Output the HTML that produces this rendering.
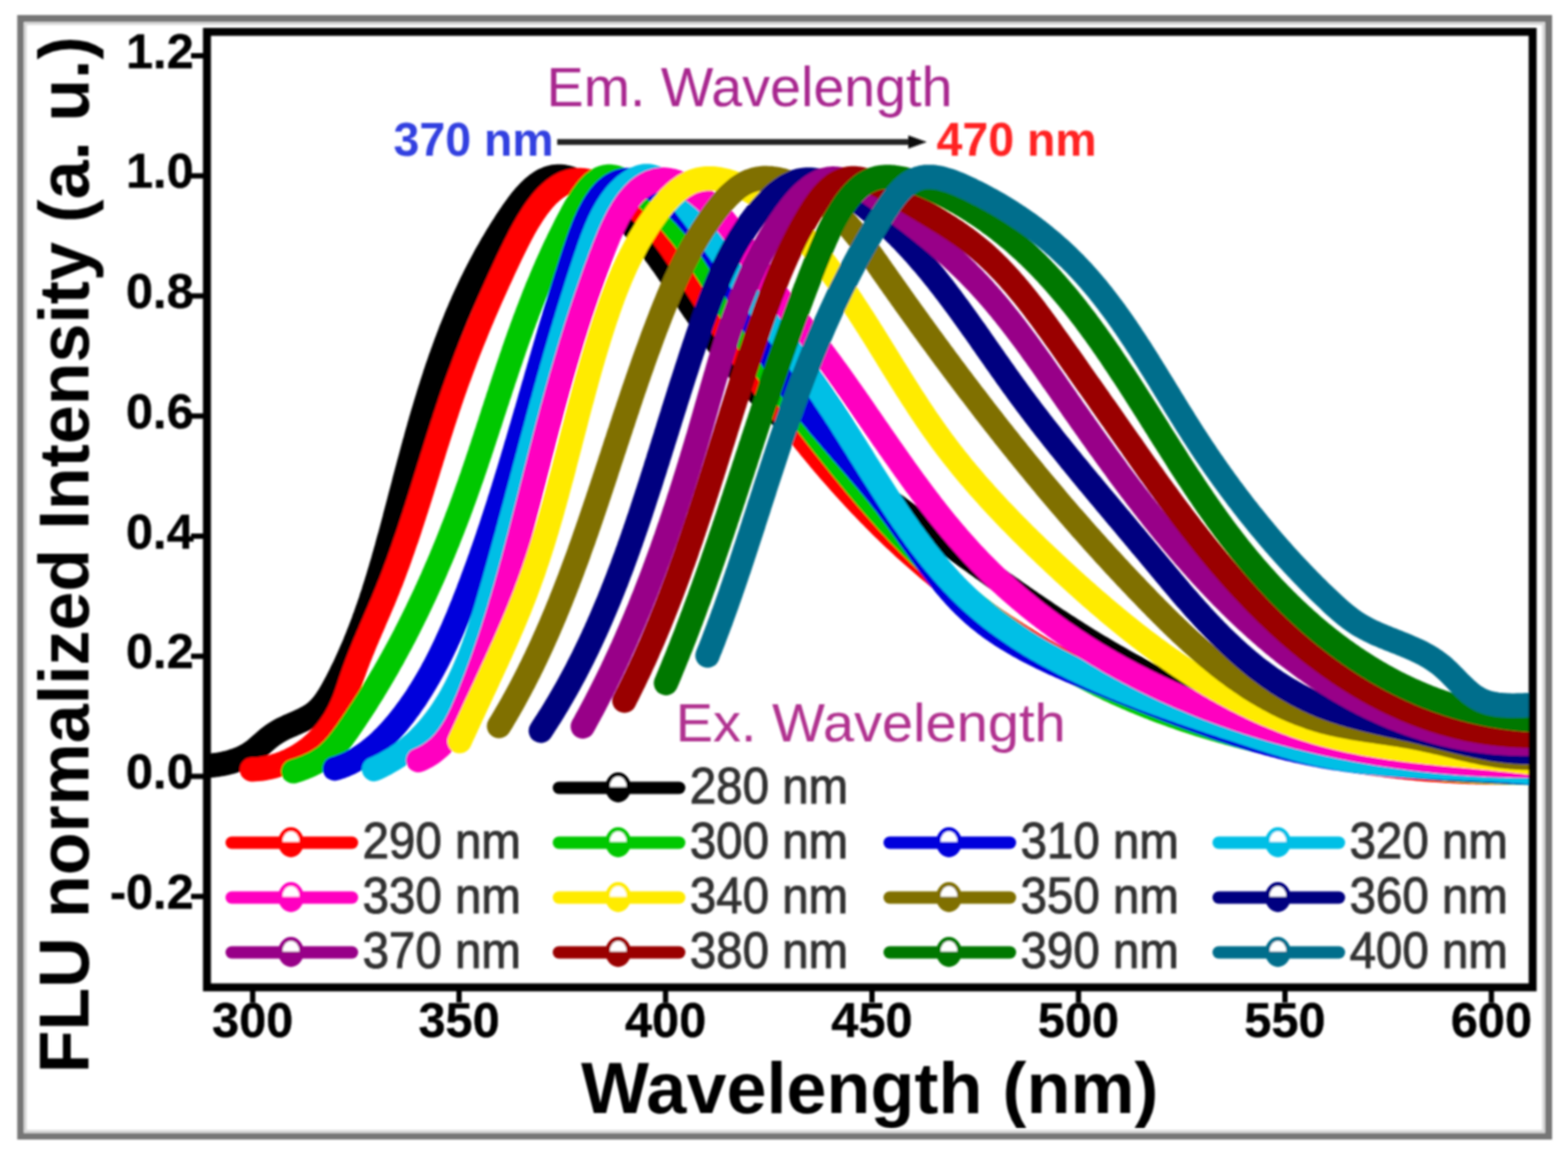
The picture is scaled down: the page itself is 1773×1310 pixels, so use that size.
<!DOCTYPE html><html><head><meta charset="utf-8"><title>FLU spectra</title><style>html,body{margin:0;padding:0;background:#fff;overflow:hidden;}svg{display:block;}text{font-family:"Liberation Sans",Arial,Helvetica,sans-serif;}</style></head><body>
<svg width="1773" height="1310" viewBox="0 0 1773 1310">
<defs><clipPath id="pc"><rect x="234.0" y="36.0" width="1499.0" height="1080.0"/></clipPath><filter id="bl" filterUnits="userSpaceOnUse" x="0" y="0" width="1773" height="1310"><feGaussianBlur stdDeviation="1.2"/></filter></defs>
<rect width="1773" height="1310" fill="#fff"/>
<g filter="url(#bl)">
<rect x="23.5" y="21" width="1727.5" height="1263" fill="none" stroke="#767676" stroke-width="8"/>
<path d="M28.5,1279 V26.5 H1745.5 V1279 Z" fill="none" stroke="#d8d8d8" stroke-width="3.5"/>
<g clip-path="url(#pc)" fill="none" stroke-width="27.5" stroke-linecap="round" stroke-linejoin="round">
<path d="M227.9,865.9 L231.0,865.8 L234.2,865.6 L237.3,865.4 L240.4,865.1 L243.5,864.7 L246.6,864.3 L249.7,863.8 L252.8,863.2 L255.9,862.5 L258.9,861.7 L261.9,860.9 L264.9,859.9 L267.8,858.9 L270.7,857.8 L273.5,856.6 L276.3,855.2 L279.0,853.8 L281.6,852.3 L284.2,850.6 L286.7,848.9 L289.1,847.0 L291.4,845.0 L293.7,843.0 L296.0,841.0 L298.3,838.9 L300.6,836.9 L302.9,834.9 L305.3,833.0 L307.7,831.2 L310.2,829.5 L312.8,827.9 L315.4,826.3 L318.1,824.8 L320.8,823.4 L323.6,822.1 L326.4,820.8 L329.3,819.6 L332.2,818.3 L335.0,817.1 L337.9,815.8 L340.7,814.5 L343.5,813.2 L346.2,811.8 L348.9,810.3 L351.5,808.7 L354.0,807.0 L356.4,805.2 L358.6,803.3 L360.8,801.2 L362.8,799.0 L364.8,796.7 L366.7,794.3 L368.5,791.8 L370.2,789.3 L371.9,786.6 L373.5,784.0 L375.1,781.3 L376.6,778.5 L378.1,775.7 L379.6,772.9 L381.1,770.2 L382.5,767.4 L383.9,764.6 L385.4,761.7 L386.7,758.9 L388.1,756.1 L389.5,753.3 L390.8,750.5 L392.1,747.6 L393.4,744.8 L394.7,741.9 L395.9,739.1 L397.2,736.2 L398.4,733.4 L399.7,730.5 L400.9,727.7 L402.0,724.8 L403.2,721.9 L404.4,719.0 L405.5,716.1 L406.7,713.2 L407.8,710.4 L408.9,707.5 L410.0,704.6 L411.1,701.7 L412.1,698.7 L413.2,695.8 L414.2,692.9 L415.2,690.0 L416.3,687.1 L417.3,684.1 L418.3,681.2 L419.3,678.3 L420.2,675.3 L421.2,672.4 L422.2,669.5 L423.1,666.5 L424.0,663.6 L425.0,660.6 L425.9,657.7 L426.8,654.7 L427.7,651.8 L428.6,648.8 L429.5,645.8 L430.4,642.9 L431.2,639.9 L432.1,636.9 L433.0,634.0 L433.8,631.0 L434.7,628.0 L435.5,625.0 L436.3,622.1 L437.2,619.1 L438.0,616.1 L438.8,613.1 L439.6,610.1 L440.5,607.2 L441.3,604.2 L442.1,601.2 L442.9,598.2 L443.7,595.2 L444.5,592.2 L445.3,589.2 L446.1,586.2 L446.8,583.3 L447.6,580.3 L448.4,577.3 L449.2,574.3 L450.0,571.3 L450.8,568.3 L451.6,565.3 L452.3,562.3 L453.1,559.3 L453.9,556.3 L454.7,553.3 L455.5,550.3 L456.3,547.4 L457.0,544.4 L457.8,541.4 L458.6,538.4 L459.4,535.4 L460.2,532.4 L461.0,529.4 L461.8,526.4 L462.6,523.4 L463.4,520.5 L464.2,517.5 L465.0,514.5 L465.8,511.5 L466.6,508.5 L467.4,505.5 L468.2,502.6 L469.0,499.6 L469.9,496.6 L470.7,493.6 L471.5,490.6 L472.4,487.7 L473.2,484.7 L474.0,481.7 L474.9,478.8 L475.7,475.8 L476.6,472.8 L477.5,469.8 L478.3,466.9 L479.2,463.9 L480.1,461.0 L481.0,458.0 L481.9,455.0 L482.8,452.1 L483.7,449.1 L484.6,446.2 L485.5,443.2 L486.4,440.3 L487.4,437.3 L488.3,434.4 L489.3,431.4 L490.2,428.5 L491.2,425.5 L492.1,422.6 L493.1,419.7 L494.1,416.7 L495.1,413.8 L496.1,410.9 L497.1,408.0 L498.1,405.0 L499.2,402.1 L500.2,399.2 L501.3,396.3 L502.3,393.4 L503.4,390.4 L504.5,387.5 L505.6,384.6 L506.7,381.7 L507.8,378.8 L508.9,375.9 L510.0,373.0 L511.2,370.2 L512.3,367.3 L513.5,364.4 L514.7,361.5 L515.8,358.6 L517.0,355.7 L518.3,352.9 L519.5,350.0 L520.7,347.1 L522.0,344.3 L523.2,341.4 L524.5,338.6 L525.8,335.7 L527.1,332.9 L528.4,330.0 L529.7,327.2 L531.1,324.3 L532.4,321.5 L533.8,318.7 L535.2,315.9 L536.6,313.0 L538.0,310.2 L539.4,307.4 L540.9,304.6 L542.3,301.8 L543.8,299.0 L545.3,296.2 L546.8,293.4 L548.3,290.6 L549.8,287.8 L551.4,285.1 L553.0,282.3 L554.5,279.5 L556.1,276.7 L557.8,274.0 L559.4,271.2 L561.0,268.5 L562.7,265.7 L564.4,263.0 L566.1,260.2 L567.8,257.5 L569.6,254.8 L571.3,252.1 L573.1,249.3 L574.9,246.6 L576.7,243.9 L578.6,241.2 L580.4,238.5 L582.3,235.9 L584.2,233.3 L586.1,230.7 L588.0,228.2 L590.0,225.7 L592.0,223.3 L594.0,220.9 L596.1,218.7 L598.2,216.5 L600.3,214.4 L602.4,212.4 L604.6,210.6 L606.8,208.8 L609.1,207.2 L611.3,205.7 L613.6,204.3 L616.0,203.1 L618.4,202.1 L620.8,201.2 L623.3,200.5 L625.8,199.9 L628.3,199.6 L630.9,199.4 L633.5,199.4 L636.2,199.7 L638.9,200.1 L641.7,200.7 L644.5,201.5 L647.3,202.5 L650.1,203.6 L652.9,204.9 L655.8,206.3 L658.7,207.8 L661.5,209.4 L664.4,211.2 L667.3,213.0 L670.1,215.0 L672.9,217.0 L675.7,219.1 L678.5,221.2 L681.3,223.4 L684.0,225.6 L686.7,227.9 L689.3,230.2 L691.9,232.5 L694.5,234.7 L697.0,237.1 L699.4,239.4 L701.9,241.7 L704.2,244.0 L706.6,246.3 L708.8,248.7 L711.1,251.0 L713.3,253.4 L715.5,255.7 L717.6,258.1 L719.7,260.5 L721.8,262.8 L723.8,265.2 L725.9,267.6 L727.8,270.0 L729.8,272.4 L731.7,274.8 L733.6,277.2 L735.5,279.6 L737.4,282.0 L739.2,284.5 L741.0,286.9 L742.8,289.3 L744.6,291.8 L746.4,294.2 L748.1,296.7 L749.9,299.1 L751.6,301.6 L753.3,304.0 L755.0,306.5 L756.7,309.0 L758.4,311.5 L760.1,313.9 L761.8,316.4 L763.4,318.9 L765.1,321.4 L766.8,323.9 L768.5,326.4 L770.1,328.9 L771.8,331.4 L773.5,333.9 L775.2,336.4 L776.9,339.0 L778.6,341.5 L780.3,344.0 L782.0,346.5 L783.7,349.1 L785.5,351.6 L787.2,354.1 L789.0,356.7 L790.7,359.2 L792.5,361.7 L794.3,364.3 L796.1,366.8 L797.9,369.3 L799.7,371.9 L801.5,374.4 L803.3,376.9 L805.2,379.4 L807.0,382.0 L808.9,384.5 L810.8,387.0 L812.6,389.5 L814.5,392.0 L816.4,394.5 L818.3,397.0 L820.2,399.5 L822.2,402.0 L824.1,404.5 L826.0,407.0 L828.0,409.4 L830.0,411.9 L831.9,414.3 L833.9,416.8 L835.9,419.2 L837.9,421.6 L839.9,424.0 L842.0,426.4 L844.0,428.8 L846.1,431.2 L848.1,433.6 L850.2,435.9 L852.3,438.3 L854.4,440.6 L856.5,442.9 L858.6,445.2 L860.7,447.5 L862.8,449.8 L865.0,452.1 L867.1,454.3 L869.3,456.6 L871.5,458.8 L873.6,461.0 L875.8,463.2 L878.1,465.4 L880.3,467.5 L882.5,469.7 L884.7,471.8 L887.0,473.9 L889.2,476.0 L891.5,478.1 L893.8,480.2 L896.1,482.2 L898.4,484.3 L900.7,486.3 L903.0,488.3 L905.3,490.3 L907.6,492.3 L910.0,494.3 L912.3,496.3 L914.7,498.3 L917.0,500.2 L919.4,502.2 L921.8,504.1 L924.2,506.0 L926.6,508.0 L928.9,509.9 L931.3,511.8 L933.8,513.7 L936.2,515.6 L938.6,517.4 L941.0,519.3 L943.4,521.2 L945.9,523.0 L948.3,524.9 L950.8,526.7 L953.2,528.6 L955.7,530.4 L958.1,532.2 L960.6,534.0 L963.1,535.9 L965.5,537.7 L968.0,539.5 L970.5,541.3 L973.0,543.1 L975.5,544.9 L977.9,546.7 L980.4,548.5 L982.9,550.3 L985.4,552.1 L987.9,553.9 L990.4,555.7 L992.9,557.4 L995.4,559.2 L997.9,561.0 L1000.4,562.8 L1002.9,564.6 L1005.4,566.4 L1008.0,568.2 L1010.5,569.9 L1013.0,571.7 L1015.5,573.5 L1018.0,575.3 L1020.5,577.1 L1023.0,578.9 L1025.5,580.7 L1028.0,582.5 L1030.5,584.3 L1033.0,586.1 L1035.6,587.9 L1038.1,589.7 L1040.6,591.5 L1043.1,593.4 L1045.6,595.2 L1048.1,597.0 L1050.6,598.8 L1053.1,600.6 L1055.6,602.4 L1058.1,604.3 L1060.6,606.1 L1063.1,607.9 L1065.6,609.7 L1068.2,611.5 L1070.7,613.4 L1073.2,615.2 L1075.7,617.0 L1078.2,618.8 L1080.7,620.7 L1083.2,622.5 L1085.7,624.3 L1088.3,626.1 L1090.8,628.0 L1093.3,629.8 L1095.8,631.6 L1098.3,633.4 L1100.8,635.2 L1103.4,637.1 L1105.9,638.9 L1108.4,640.7 L1110.9,642.5 L1113.5,644.3 L1116.0,646.1 L1118.5,647.9 L1121.0,649.8 L1123.6,651.6 L1126.1,653.4 L1128.6,655.2 L1131.2,657.0 L1133.7,658.8 L1136.2,660.6 L1138.8,662.3 L1141.3,664.1 L1143.9,665.9 L1146.4,667.7 L1149.0,669.5 L1151.5,671.3 L1154.1,673.0 L1156.6,674.8 L1159.2,676.6 L1161.7,678.3 L1164.3,680.1 L1166.8,681.9 L1169.4,683.6 L1172.0,685.4 L1174.5,687.1 L1177.1,688.8 L1179.7,690.6 L1182.3,692.3 L1184.8,694.0 L1187.4,695.8 L1190.0,697.5 L1192.6,699.2 L1195.2,700.9 L1197.8,702.6 L1200.4,704.3 L1203.0,706.0 L1205.6,707.7 L1208.2,709.3 L1210.8,711.0 L1213.4,712.7 L1216.0,714.3 L1218.6,716.0 L1221.2,717.7 L1223.9,719.3 L1226.5,720.9 L1229.1,722.6 L1231.7,724.2 L1234.4,725.8 L1237.0,727.4 L1239.7,729.0 L1242.3,730.6 L1245.0,732.2 L1247.6,733.8 L1250.3,735.4 L1252.9,736.9 L1255.6,738.5 L1258.3,740.0 L1260.9,741.6 L1263.6,743.1 L1266.3,744.6 L1269.0,746.2 L1271.7,747.7 L1274.4,749.2 L1277.1,750.7 L1279.8,752.2 L1282.5,753.6 L1285.2,755.1 L1287.9,756.6 L1290.6,758.0 L1293.3,759.5 L1296.0,760.9 L1298.8,762.3 L1301.5,763.7 L1304.3,765.1 L1307.0,766.5 L1309.8,767.9 L1312.5,769.3 L1315.3,770.6 L1318.0,772.0 L1320.8,773.3 L1323.6,774.7 L1326.3,776.0 L1329.1,777.3 L1331.9,778.6 L1334.7,779.9 L1337.5,781.2 L1340.3,782.4 L1343.1,783.7 L1345.9,784.9 L1348.8,786.2 L1351.6,787.4 L1354.4,788.6 L1357.3,789.8 L1360.1,791.0 L1362.9,792.2 L1365.8,793.3 L1368.7,794.5 L1371.5,795.6 L1374.4,796.7 L1377.3,797.8 L1380.1,798.9 L1383.0,800.0 L1385.9,801.1 L1388.8,802.2 L1391.7,803.2 L1394.6,804.3 L1397.6,805.3 L1400.5,806.3 L1403.4,807.3 L1406.4,808.3 L1409.3,809.2 L1412.2,810.2 L1415.2,811.1 L1418.2,812.1 L1421.1,813.0 L1424.1,813.9 L1427.1,814.8 L1430.0,815.7 L1433.0,816.5 L1436.0,817.4 L1439.0,818.2 L1442.0,819.1 L1445.0,819.9 L1448.0,820.7 L1451.0,821.5 L1454.1,822.3 L1457.1,823.0 L1460.1,823.8 L1463.1,824.6 L1466.2,825.3 L1469.2,826.0 L1472.3,826.8 L1475.3,827.5 L1478.4,828.2 L1481.4,828.9 L1484.5,829.5 L1487.5,830.2 L1490.6,830.9 L1493.7,831.5 L1496.7,832.2 L1499.8,832.8 L1502.9,833.4 L1505.9,834.0 L1509.0,834.7 L1512.1,835.3 L1515.2,835.8 L1518.3,836.4 L1521.4,837.0 L1524.4,837.6 L1527.5,838.1 L1530.6,838.7 L1533.7,839.2 L1536.8,839.7 L1539.9,840.2 L1543.0,840.8 L1546.1,841.3 L1549.2,841.8 L1552.3,842.3 L1555.4,842.8 L1558.5,843.2 L1561.6,843.7 L1564.7,844.2 L1567.8,844.6 L1571.0,845.1 L1574.1,845.5 L1577.2,846.0 L1580.3,846.4 L1583.4,846.8 L1586.5,847.3 L1589.6,847.7 L1592.7,848.1 L1595.8,848.5 L1598.9,848.9 L1602.0,849.3 L1605.1,849.7 L1608.2,850.1 L1611.3,850.5 L1614.4,850.8 L1617.5,851.2 L1620.6,851.6 L1623.7,851.9 L1626.8,852.3 L1629.9,852.7 L1633.0,853.0 L1636.1,853.3 L1639.2,853.7 L1642.3,854.0 L1645.4,854.4 L1648.4,854.7 L1651.5,855.0 L1654.6,855.4 L1657.7,855.7 L1660.7,856.0 L1663.8,856.3 L1666.9,856.6 L1669.9,857.0 L1673.0,857.3 L1676.1,857.6 L1679.1,857.9 L1682.2,858.2 L1685.2,858.5 L1688.3,858.8 L1691.3,859.1 L1694.3,859.4 L1697.4,859.7 L1700.4,860.0 L1703.4,860.3 L1706.5,860.6 L1709.5,860.9 L1712.5,861.2 L1715.5,861.5 L1718.5,861.8 L1721.5,862.1 L1724.5,862.4 L1727.5,862.7 L1730.5,862.9 L1733.4,863.2 L1736.4,863.5 L1739.4,863.8" stroke="#000000"/>
<path d="M284.8,869.8 L288.0,869.6 L291.2,869.4 L294.3,869.1 L297.5,868.6 L300.6,868.1 L303.6,867.5 L306.7,866.8 L309.7,866.1 L312.6,865.2 L315.6,864.3 L318.5,863.3 L321.3,862.2 L324.1,861.0 L326.9,859.8 L329.7,858.4 L332.4,857.0 L335.0,855.6 L337.7,854.0 L340.2,852.4 L342.8,850.8 L345.2,849.0 L347.7,847.2 L350.1,845.4 L352.4,843.4 L354.7,841.4 L357.0,839.4 L359.2,837.3 L361.3,835.1 L363.4,832.9 L365.4,830.7 L367.4,828.3 L369.4,826.0 L371.2,823.5 L373.1,821.1 L374.8,818.6 L376.5,816.0 L378.2,813.4 L379.7,810.8 L381.3,808.1 L382.7,805.4 L384.1,802.6 L385.4,799.8 L386.7,797.0 L387.9,794.1 L389.1,791.2 L390.2,788.3 L391.2,785.4 L392.3,782.4 L393.3,779.5 L394.3,776.5 L395.3,773.6 L396.2,770.6 L397.2,767.7 L398.2,764.8 L399.2,761.9 L400.3,759.0 L401.3,756.1 L402.4,753.2 L403.4,750.4 L404.5,747.6 L405.6,744.7 L406.7,741.9 L407.8,739.1 L408.9,736.3 L410.1,733.5 L411.2,730.8 L412.3,728.0 L413.5,725.2 L414.7,722.5 L415.8,719.7 L417.0,717.0 L418.2,714.3 L419.3,711.5 L420.5,708.8 L421.7,706.0 L422.9,703.3 L424.0,700.6 L425.2,697.8 L426.4,695.1 L427.6,692.3 L428.8,689.6 L429.9,686.8 L431.1,684.1 L432.3,681.3 L433.5,678.6 L434.6,675.8 L435.8,673.0 L436.9,670.2 L438.1,667.4 L439.2,664.6 L440.3,661.7 L441.5,658.9 L442.6,656.1 L443.7,653.2 L444.8,650.3 L445.9,647.4 L446.9,644.6 L448.0,641.7 L449.1,638.7 L450.2,635.8 L451.2,632.9 L452.3,630.0 L453.3,627.0 L454.3,624.1 L455.4,621.2 L456.4,618.2 L457.4,615.2 L458.4,612.3 L459.5,609.3 L460.5,606.3 L461.5,603.3 L462.5,600.3 L463.5,597.3 L464.4,594.4 L465.4,591.4 L466.4,588.4 L467.4,585.3 L468.4,582.3 L469.3,579.3 L470.3,576.3 L471.3,573.3 L472.2,570.3 L473.2,567.3 L474.1,564.3 L475.1,561.3 L476.0,558.3 L477.0,555.2 L477.9,552.2 L478.8,549.2 L479.8,546.2 L480.7,543.2 L481.6,540.2 L482.6,537.2 L483.5,534.2 L484.4,531.2 L485.3,528.2 L486.3,525.2 L487.2,522.3 L488.1,519.3 L489.0,516.3 L490.0,513.4 L490.9,510.4 L491.8,507.4 L492.7,504.5 L493.6,501.6 L494.6,498.6 L495.5,495.7 L496.4,492.8 L497.3,489.9 L498.3,487.0 L499.2,484.1 L500.1,481.2 L501.0,478.3 L502.0,475.5 L502.9,472.6 L503.8,469.8 L504.8,466.9 L505.7,464.1 L506.6,461.3 L507.6,458.5 L508.5,455.7 L509.4,452.9 L510.4,450.2 L511.3,447.4 L512.3,444.6 L513.2,441.9 L514.2,439.2 L515.2,436.4 L516.1,433.7 L517.1,431.0 L518.1,428.3 L519.1,425.6 L520.1,422.9 L521.1,420.2 L522.1,417.5 L523.1,414.8 L524.1,412.1 L525.1,409.4 L526.1,406.7 L527.1,404.0 L528.2,401.3 L529.2,398.6 L530.3,395.9 L531.3,393.2 L532.4,390.5 L533.5,387.8 L534.6,385.1 L535.7,382.4 L536.8,379.7 L537.9,377.0 L539.0,374.2 L540.1,371.5 L541.3,368.7 L542.4,366.0 L543.6,363.2 L544.8,360.5 L545.9,357.7 L547.1,354.9 L548.3,352.1 L549.5,349.3 L550.8,346.4 L552.0,343.6 L553.3,340.7 L554.5,337.9 L555.8,335.0 L557.1,332.1 L558.4,329.2 L559.7,326.3 L561.0,323.3 L562.4,320.4 L563.7,317.4 L565.1,314.4 L566.5,311.4 L567.9,308.3 L569.3,305.3 L570.7,302.2 L572.2,299.1 L573.6,296.0 L575.1,292.8 L576.6,289.7 L578.1,286.5 L579.7,283.3 L581.2,280.2 L582.8,277.0 L584.4,273.8 L586.0,270.7 L587.6,267.5 L589.2,264.4 L590.9,261.3 L592.6,258.2 L594.3,255.2 L596.0,252.2 L597.8,249.3 L599.6,246.4 L601.4,243.5 L603.2,240.7 L605.1,238.0 L606.9,235.4 L608.8,232.8 L610.8,230.3 L612.7,227.9 L614.7,225.5 L616.8,223.3 L618.8,221.1 L620.9,219.1 L623.0,217.2 L625.2,215.3 L627.3,213.6 L629.5,212.0 L631.8,210.5 L634.1,209.2 L636.4,208.0 L638.7,206.9 L641.1,206.0 L643.5,205.2 L646.0,204.6 L648.4,204.1 L651.0,203.8 L653.5,203.6 L656.1,203.6 L658.7,203.7 L661.3,204.0 L664.0,204.4 L666.6,204.9 L669.3,205.5 L672.0,206.2 L674.7,207.1 L677.4,208.0 L680.1,209.1 L682.7,210.2 L685.4,211.5 L688.1,212.8 L690.8,214.2 L693.4,215.7 L696.0,217.2 L698.6,218.9 L701.2,220.5 L703.7,222.3 L706.3,224.1 L708.7,225.9 L711.2,227.8 L713.6,229.7 L716.0,231.7 L718.3,233.7 L720.6,235.7 L722.8,237.7 L725.0,239.8 L727.2,241.9 L729.3,244.1 L731.5,246.3 L733.5,248.5 L735.6,250.7 L737.6,253.0 L739.6,255.3 L741.6,257.6 L743.5,259.9 L745.4,262.3 L747.3,264.6 L749.2,267.0 L751.0,269.5 L752.9,271.9 L754.7,274.4 L756.5,276.8 L758.2,279.3 L760.0,281.8 L761.7,284.4 L763.5,286.9 L765.2,289.4 L766.9,292.0 L768.6,294.6 L770.3,297.1 L771.9,299.7 L773.6,302.3 L775.3,304.9 L776.9,307.5 L778.6,310.1 L780.2,312.7 L781.9,315.3 L783.5,318.0 L785.2,320.6 L786.8,323.2 L788.5,325.8 L790.1,328.4 L791.8,331.0 L793.4,333.6 L795.1,336.3 L796.8,338.9 L798.4,341.5 L800.1,344.1 L801.8,346.7 L803.4,349.3 L805.1,351.9 L806.8,354.5 L808.5,357.1 L810.2,359.7 L811.9,362.3 L813.6,364.8 L815.3,367.4 L817.0,370.0 L818.7,372.6 L820.4,375.2 L822.1,377.7 L823.9,380.3 L825.6,382.9 L827.3,385.5 L829.0,388.0 L830.8,390.6 L832.5,393.2 L834.2,395.7 L836.0,398.3 L837.7,400.8 L839.5,403.4 L841.3,405.9 L843.0,408.5 L844.8,411.0 L846.5,413.5 L848.3,416.1 L850.1,418.6 L851.9,421.1 L853.7,423.6 L855.5,426.2 L857.2,428.7 L859.0,431.2 L860.8,433.7 L862.7,436.2 L864.5,438.7 L866.3,441.2 L868.1,443.7 L869.9,446.2 L871.7,448.7 L873.6,451.2 L875.4,453.6 L877.3,456.1 L879.1,458.6 L881.0,461.1 L882.8,463.5 L884.7,466.0 L886.5,468.4 L888.4,470.9 L890.3,473.3 L892.2,475.8 L894.0,478.2 L895.9,480.6 L897.8,483.1 L899.7,485.5 L901.6,487.9 L903.5,490.3 L905.5,492.7 L907.4,495.1 L909.3,497.5 L911.2,499.9 L913.2,502.3 L915.1,504.7 L917.0,507.1 L919.0,509.4 L920.9,511.8 L922.9,514.2 L924.9,516.5 L926.8,518.9 L928.8,521.2 L930.8,523.6 L932.8,525.9 L934.8,528.2 L936.8,530.6 L938.8,532.9 L940.8,535.2 L942.8,537.5 L944.8,539.8 L946.8,542.1 L948.9,544.4 L950.9,546.7 L953.0,549.0 L955.0,551.2 L957.1,553.5 L959.1,555.8 L961.2,558.0 L963.3,560.3 L965.3,562.5 L967.4,564.8 L969.5,567.0 L971.6,569.2 L973.7,571.4 L975.8,573.6 L977.9,575.8 L980.1,578.0 L982.2,580.2 L984.3,582.4 L986.5,584.6 L988.6,586.8 L990.8,588.9 L992.9,591.1 L995.1,593.2 L997.2,595.4 L999.4,597.5 L1001.6,599.6 L1003.8,601.8 L1006.0,603.9 L1008.2,606.0 L1010.4,608.1 L1012.6,610.2 L1014.8,612.2 L1017.1,614.3 L1019.3,616.4 L1021.6,618.5 L1023.8,620.5 L1026.1,622.6 L1028.3,624.6 L1030.6,626.6 L1032.9,628.6 L1035.2,630.7 L1037.5,632.7 L1039.8,634.7 L1042.1,636.7 L1044.4,638.6 L1046.7,640.6 L1049.0,642.6 L1051.4,644.5 L1053.7,646.5 L1056.0,648.4 L1058.4,650.4 L1060.7,652.3 L1063.1,654.2 L1065.5,656.1 L1067.9,658.0 L1070.3,659.9 L1072.6,661.8 L1075.0,663.7 L1077.4,665.6 L1079.9,667.4 L1082.3,669.3 L1084.7,671.2 L1087.1,673.0 L1089.6,674.8 L1092.0,676.6 L1094.5,678.5 L1096.9,680.3 L1099.4,682.1 L1101.8,683.9 L1104.3,685.6 L1106.8,687.4 L1109.3,689.2 L1111.8,691.0 L1114.3,692.7 L1116.8,694.4 L1119.3,696.2 L1121.8,697.9 L1124.3,699.6 L1126.8,701.3 L1129.4,703.0 L1131.9,704.7 L1134.5,706.4 L1137.0,708.1 L1139.6,709.8 L1142.1,711.4 L1144.7,713.1 L1147.3,714.7 L1149.8,716.4 L1152.4,718.0 L1155.0,719.6 L1157.6,721.2 L1160.2,722.8 L1162.8,724.4 L1165.4,726.0 L1168.0,727.6 L1170.6,729.2 L1173.3,730.8 L1175.9,732.3 L1178.5,733.9 L1181.2,735.4 L1183.8,736.9 L1186.5,738.5 L1189.1,740.0 L1191.8,741.5 L1194.5,743.0 L1197.1,744.5 L1199.8,745.9 L1202.5,747.4 L1205.2,748.9 L1207.9,750.3 L1210.6,751.8 L1213.3,753.2 L1216.0,754.7 L1218.7,756.1 L1221.4,757.5 L1224.1,758.9 L1226.8,760.3 L1229.6,761.7 L1232.3,763.1 L1235.0,764.5 L1237.8,765.8 L1240.5,767.2 L1243.3,768.5 L1246.0,769.9 L1248.8,771.2 L1251.5,772.5 L1254.3,773.8 L1257.1,775.1 L1259.9,776.4 L1262.6,777.7 L1265.4,779.0 L1268.2,780.3 L1271.0,781.6 L1273.8,782.8 L1276.6,784.1 L1279.4,785.3 L1282.2,786.5 L1285.0,787.8 L1287.8,789.0 L1290.7,790.2 L1293.5,791.4 L1296.3,792.6 L1299.1,793.7 L1302.0,794.9 L1304.8,796.1 L1307.7,797.2 L1310.5,798.4 L1313.4,799.5 L1316.2,800.7 L1319.1,801.8 L1321.9,802.9 L1324.8,804.0 L1327.7,805.1 L1330.5,806.2 L1333.4,807.3 L1336.3,808.3 L1339.2,809.4 L1342.1,810.4 L1344.9,811.5 L1347.8,812.5 L1350.7,813.5 L1353.6,814.6 L1356.5,815.6 L1359.4,816.6 L1362.3,817.6 L1365.3,818.6 L1368.2,819.5 L1371.1,820.5 L1374.0,821.5 L1376.9,822.4 L1379.9,823.3 L1382.8,824.3 L1385.7,825.2 L1388.6,826.1 L1391.6,827.0 L1394.5,827.9 L1397.5,828.8 L1400.4,829.7 L1403.4,830.6 L1406.3,831.4 L1409.3,832.3 L1412.2,833.1 L1415.2,834.0 L1418.1,834.8 L1421.1,835.6 L1424.1,836.4 L1427.0,837.2 L1430.0,838.0 L1433.0,838.8 L1436.0,839.6 L1438.9,840.4 L1441.9,841.1 L1444.9,841.9 L1447.9,842.6 L1450.9,843.3 L1453.9,844.1 L1456.8,844.8 L1459.8,845.5 L1462.8,846.2 L1465.8,846.9 L1468.8,847.5 L1471.8,848.2 L1474.8,848.9 L1477.8,849.5 L1480.8,850.2 L1483.9,850.8 L1486.9,851.4 L1489.9,852.1 L1492.9,852.7 L1495.9,853.3 L1498.9,853.9 L1501.9,854.4 L1505.0,855.0 L1508.0,855.6 L1511.0,856.1 L1514.0,856.7 L1517.1,857.2 L1520.1,857.8 L1523.1,858.3 L1526.2,858.8 L1529.2,859.3 L1532.2,859.8 L1535.3,860.3 L1538.3,860.7 L1541.3,861.2 L1544.4,861.7 L1547.4,862.1 L1550.5,862.6 L1553.5,863.0 L1556.5,863.4 L1559.6,863.8 L1562.6,864.2 L1565.7,864.6 L1568.7,865.0 L1571.8,865.4 L1574.8,865.8 L1577.9,866.1 L1580.9,866.5 L1584.0,866.8 L1587.0,867.1 L1590.1,867.5 L1593.1,867.8 L1596.2,868.1 L1599.2,868.4 L1602.3,868.7 L1605.4,869.0 L1608.4,869.2 L1611.5,869.5 L1614.5,869.7 L1617.6,870.0 L1620.6,870.2 L1623.7,870.4 L1626.8,870.6 L1629.8,870.8 L1632.9,871.0 L1635.9,871.2 L1639.0,871.4 L1642.1,871.6 L1645.1,871.7 L1648.2,871.9 L1651.3,872.0 L1654.3,872.2 L1657.4,872.3 L1660.4,872.4 L1663.5,872.5 L1666.6,872.6 L1669.6,872.7 L1672.7,872.8 L1675.8,872.8 L1678.8,872.9 L1681.9,872.9 L1684.9,873.0 L1688.0,873.0 L1691.1,873.0 L1694.1,873.1 L1697.2,873.1 L1700.2,873.1 L1703.3,873.0 L1706.4,873.0 L1709.4,873.0 L1712.5,872.9 L1715.5,872.9 L1718.6,872.8 L1721.6,872.8 L1724.7,872.7 L1727.8,872.6 L1730.8,872.5 L1733.9,872.4 L1736.9,872.3 L1740.0,872.1" stroke="#ff0000"/>
<path d="M331.8,871.8 L334.7,870.9 L337.6,869.9 L340.5,868.9 L343.4,867.8 L346.2,866.7 L349.1,865.5 L351.9,864.2 L354.7,862.9 L357.4,861.5 L360.1,859.9 L362.6,858.4 L365.1,856.7 L367.5,854.9 L369.8,853.0 L372.0,851.1 L374.2,849.0 L376.3,846.9 L378.3,844.8 L380.3,842.6 L382.2,840.3 L384.0,838.0 L385.9,835.6 L387.7,833.3 L389.4,830.8 L391.2,828.4 L392.9,826.0 L394.6,823.5 L396.3,821.0 L398.0,818.6 L399.7,816.1 L401.4,813.6 L403.0,811.1 L404.7,808.6 L406.3,806.1 L408.0,803.6 L409.6,801.1 L411.3,798.5 L412.9,796.0 L414.5,793.5 L416.1,790.9 L417.7,788.4 L419.3,785.8 L420.9,783.3 L422.5,780.7 L424.0,778.1 L425.6,775.6 L427.1,773.0 L428.7,770.4 L430.2,767.8 L431.7,765.2 L433.3,762.6 L434.8,760.0 L436.3,757.4 L437.8,754.8 L439.3,752.2 L440.7,749.5 L442.2,746.9 L443.7,744.3 L445.1,741.6 L446.6,739.0 L448.0,736.3 L449.5,733.7 L450.9,731.0 L452.3,728.4 L453.8,725.7 L455.2,723.0 L456.6,720.3 L458.0,717.7 L459.3,715.0 L460.7,712.3 L462.1,709.6 L463.5,706.9 L464.8,704.2 L466.2,701.5 L467.5,698.8 L468.8,696.1 L470.2,693.4 L471.5,690.7 L472.8,687.9 L474.1,685.2 L475.4,682.5 L476.7,679.8 L478.0,677.0 L479.3,674.3 L480.6,671.6 L481.8,668.8 L483.1,666.1 L484.3,663.3 L485.6,660.6 L486.8,657.8 L488.1,655.1 L489.3,652.3 L490.5,649.5 L491.7,646.8 L492.9,644.0 L494.1,641.2 L495.3,638.5 L496.5,635.7 L497.7,632.9 L498.9,630.1 L500.0,627.3 L501.2,624.6 L502.3,621.8 L503.5,619.0 L504.6,616.2 L505.8,613.4 L506.9,610.6 L508.0,607.8 L509.1,605.0 L510.2,602.2 L511.3,599.4 L512.4,596.6 L513.5,593.8 L514.6,591.0 L515.7,588.2 L516.7,585.4 L517.8,582.6 L518.9,579.8 L519.9,577.0 L521.0,574.1 L522.0,571.3 L523.0,568.5 L524.1,565.7 L525.1,562.9 L526.1,560.1 L527.1,557.2 L528.1,554.4 L529.1,551.6 L530.1,548.8 L531.1,546.0 L532.1,543.1 L533.1,540.3 L534.1,537.5 L535.0,534.7 L536.0,531.9 L537.0,529.0 L537.9,526.2 L538.9,523.4 L539.8,520.5 L540.8,517.7 L541.7,514.9 L542.7,512.1 L543.6,509.2 L544.6,506.4 L545.5,503.6 L546.4,500.7 L547.4,497.9 L548.3,495.1 L549.2,492.2 L550.2,489.4 L551.1,486.6 L552.0,483.7 L552.9,480.9 L553.9,478.1 L554.8,475.2 L555.7,472.4 L556.6,469.6 L557.5,466.7 L558.5,463.9 L559.4,461.1 L560.3,458.2 L561.2,455.4 L562.2,452.6 L563.1,449.7 L564.0,446.9 L565.0,444.1 L565.9,441.2 L566.8,438.4 L567.8,435.5 L568.7,432.7 L569.6,429.9 L570.6,427.0 L571.5,424.2 L572.5,421.4 L573.4,418.5 L574.4,415.7 L575.3,412.9 L576.3,410.0 L577.3,407.2 L578.2,404.3 L579.2,401.5 L580.2,398.7 L581.1,395.8 L582.1,393.0 L583.1,390.2 L584.1,387.3 L585.1,384.5 L586.1,381.7 L587.1,378.8 L588.2,376.0 L589.2,373.2 L590.2,370.3 L591.2,367.5 L592.3,364.7 L593.3,361.8 L594.4,359.0 L595.5,356.2 L596.5,353.3 L597.6,350.5 L598.7,347.7 L599.8,344.8 L600.9,342.0 L602.0,339.2 L603.1,336.4 L604.2,333.5 L605.4,330.7 L606.5,327.9 L607.6,325.0 L608.8,322.2 L610.0,319.4 L611.2,316.6 L612.3,313.8 L613.5,310.9 L614.7,308.1 L616.0,305.3 L617.2,302.5 L618.4,299.6 L619.7,296.8 L620.9,294.0 L622.2,291.2 L623.5,288.4 L624.8,285.6 L626.1,282.7 L627.4,279.9 L628.7,277.1 L630.1,274.3 L631.4,271.5 L632.8,268.7 L634.2,265.9 L635.6,263.1 L637.0,260.3 L638.4,257.5 L639.8,254.6 L641.3,251.8 L642.7,249.0 L644.2,246.2 L645.7,243.4 L647.2,240.6 L648.7,237.9 L650.2,235.1 L651.8,232.4 L653.4,229.7 L655.0,227.1 L656.6,224.5 L658.2,222.0 L659.9,219.6 L661.6,217.3 L663.4,215.0 L665.1,212.9 L666.9,210.9 L668.8,209.0 L670.6,207.3 L672.6,205.7 L674.5,204.3 L676.5,203.1 L678.5,202.0 L680.6,201.1 L682.8,200.4 L684.9,199.9 L687.2,199.6 L689.5,199.5 L691.8,199.7 L694.2,200.1 L696.6,200.7 L699.1,201.5 L701.6,202.5 L704.1,203.7 L706.7,205.0 L709.2,206.5 L711.8,208.2 L714.4,209.9 L717.0,211.8 L719.6,213.8 L722.2,215.9 L724.8,218.0 L727.4,220.2 L730.0,222.5 L732.5,224.9 L735.0,227.2 L737.5,229.6 L740.0,232.0 L742.4,234.4 L744.7,236.8 L747.1,239.3 L749.4,241.7 L751.6,244.1 L753.8,246.5 L756.0,249.0 L758.2,251.4 L760.3,253.9 L762.4,256.3 L764.4,258.8 L766.5,261.3 L768.5,263.7 L770.4,266.2 L772.4,268.7 L774.3,271.2 L776.2,273.7 L778.0,276.2 L779.9,278.7 L781.7,281.2 L783.5,283.7 L785.3,286.2 L787.0,288.7 L788.7,291.2 L790.4,293.7 L792.1,296.2 L793.8,298.7 L795.4,301.3 L797.1,303.8 L798.7,306.3 L800.3,308.8 L801.9,311.4 L803.5,313.9 L805.0,316.4 L806.6,319.0 L808.1,321.5 L809.6,324.0 L811.2,326.6 L812.7,329.1 L814.2,331.6 L815.7,334.2 L817.1,336.7 L818.6,339.2 L820.1,341.8 L821.6,344.3 L823.0,346.9 L824.5,349.4 L826.0,351.9 L827.4,354.5 L828.9,357.0 L830.3,359.5 L831.8,362.1 L833.3,364.6 L834.7,367.1 L836.2,369.6 L837.7,372.2 L839.1,374.7 L840.6,377.2 L842.1,379.7 L843.6,382.3 L845.1,384.8 L846.6,387.3 L848.2,389.8 L849.7,392.3 L851.3,394.8 L852.8,397.3 L854.4,399.8 L856.0,402.3 L857.6,404.8 L859.2,407.3 L860.8,409.7 L862.5,412.2 L864.1,414.7 L865.8,417.2 L867.5,419.6 L869.2,422.1 L871.0,424.6 L872.7,427.0 L874.5,429.5 L876.2,431.9 L878.0,434.3 L879.8,436.8 L881.6,439.2 L883.4,441.7 L885.3,444.1 L887.1,446.5 L888.9,448.9 L890.8,451.4 L892.6,453.8 L894.5,456.2 L896.4,458.6 L898.2,461.0 L900.1,463.4 L902.0,465.8 L903.9,468.2 L905.8,470.6 L907.7,473.0 L909.5,475.4 L911.4,477.8 L913.3,480.2 L915.2,482.6 L917.1,485.0 L919.0,487.4 L920.8,489.8 L922.7,492.2 L924.6,494.6 L926.5,497.0 L928.4,499.4 L930.2,501.7 L932.1,504.1 L934.0,506.5 L935.9,508.9 L937.8,511.2 L939.6,513.6 L941.5,516.0 L943.4,518.3 L945.3,520.7 L947.2,523.0 L949.1,525.4 L951.0,527.7 L952.9,530.1 L954.8,532.4 L956.7,534.8 L958.6,537.1 L960.5,539.4 L962.4,541.8 L964.3,544.1 L966.2,546.4 L968.1,548.7 L970.1,551.0 L972.0,553.3 L973.9,555.6 L975.9,557.9 L977.8,560.2 L979.7,562.5 L981.7,564.8 L983.6,567.0 L985.6,569.3 L987.6,571.6 L989.5,573.8 L991.5,576.1 L993.5,578.3 L995.5,580.6 L997.5,582.8 L999.5,585.1 L1001.5,587.3 L1003.5,589.5 L1005.5,591.7 L1007.6,593.9 L1009.6,596.1 L1011.7,598.3 L1013.7,600.5 L1015.8,602.7 L1017.8,604.9 L1019.9,607.0 L1022.0,609.2 L1024.1,611.3 L1026.1,613.5 L1028.2,615.6 L1030.3,617.8 L1032.4,619.9 L1034.6,622.0 L1036.7,624.1 L1038.8,626.2 L1041.0,628.3 L1043.1,630.4 L1045.2,632.5 L1047.4,634.6 L1049.6,636.7 L1051.7,638.7 L1053.9,640.8 L1056.1,642.8 L1058.3,644.9 L1060.5,646.9 L1062.7,649.0 L1064.9,651.0 L1067.1,653.0 L1069.3,655.0 L1071.5,657.0 L1073.8,659.0 L1076.0,661.0 L1078.3,662.9 L1080.5,664.9 L1082.8,666.9 L1085.1,668.8 L1087.3,670.8 L1089.6,672.7 L1091.9,674.6 L1094.2,676.5 L1096.5,678.4 L1098.8,680.3 L1101.1,682.2 L1103.4,684.1 L1105.8,686.0 L1108.1,687.9 L1110.4,689.7 L1112.8,691.6 L1115.1,693.4 L1117.5,695.2 L1119.9,697.1 L1122.2,698.9 L1124.6,700.7 L1127.0,702.5 L1129.4,704.3 L1131.8,706.1 L1134.2,707.8 L1136.6,709.6 L1139.1,711.3 L1141.5,713.1 L1143.9,714.8 L1146.4,716.5 L1148.8,718.3 L1151.3,720.0 L1153.7,721.7 L1156.2,723.3 L1158.7,725.0 L1161.2,726.7 L1163.6,728.3 L1166.1,730.0 L1168.6,731.6 L1171.1,733.3 L1173.7,734.9 L1176.2,736.5 L1178.7,738.1 L1181.2,739.7 L1183.8,741.2 L1186.3,742.8 L1188.9,744.4 L1191.4,745.9 L1194.0,747.5 L1196.6,749.0 L1199.2,750.5 L1201.8,752.0 L1204.4,753.5 L1207.0,755.0 L1209.6,756.5 L1212.2,757.9 L1214.8,759.4 L1217.4,760.8 L1220.1,762.2 L1222.7,763.7 L1225.4,765.1 L1228.0,766.5 L1230.7,767.9 L1233.3,769.2 L1236.0,770.6 L1238.7,771.9 L1241.4,773.3 L1244.1,774.6 L1246.8,775.9 L1249.5,777.2 L1252.2,778.5 L1254.9,779.8 L1257.7,781.1 L1260.4,782.4 L1263.1,783.6 L1265.9,784.9 L1268.7,786.1 L1271.4,787.3 L1274.2,788.5 L1277.0,789.7 L1279.7,790.9 L1282.5,792.1 L1285.3,793.2 L1288.1,794.4 L1290.9,795.5 L1293.7,796.7 L1296.5,797.8 L1299.3,798.9 L1302.2,800.0 L1305.0,801.1 L1307.8,802.2 L1310.6,803.2 L1313.5,804.3 L1316.3,805.3 L1319.2,806.4 L1322.0,807.4 L1324.9,808.4 L1327.8,809.4 L1330.6,810.4 L1333.5,811.4 L1336.4,812.4 L1339.3,813.4 L1342.1,814.3 L1345.0,815.3 L1347.9,816.2 L1350.8,817.2 L1353.7,818.1 L1356.6,819.0 L1359.5,819.9 L1362.4,820.8 L1365.3,821.7 L1368.3,822.5 L1371.2,823.4 L1374.1,824.3 L1377.0,825.1 L1379.9,825.9 L1382.9,826.8 L1385.8,827.6 L1388.7,828.4 L1391.7,829.2 L1394.6,830.0 L1397.5,830.8 L1400.5,831.6 L1403.4,832.3 L1406.4,833.1 L1409.3,833.8 L1412.3,834.6 L1415.2,835.3 L1418.2,836.0 L1421.1,836.7 L1424.1,837.4 L1427.0,838.1 L1430.0,838.8 L1433.0,839.5 L1435.9,840.2 L1438.9,840.9 L1441.9,841.5 L1444.8,842.2 L1447.8,842.8 L1450.7,843.4 L1453.7,844.1 L1456.7,844.7 L1459.6,845.3 L1462.6,845.9 L1465.6,846.5 L1468.5,847.1 L1471.5,847.7 L1474.5,848.3 L1477.4,848.8 L1480.4,849.4 L1483.4,849.9 L1486.3,850.5 L1489.3,851.0 L1492.3,851.5 L1495.2,852.1 L1498.2,852.6 L1501.2,853.1 L1504.1,853.6 L1507.1,854.1 L1510.0,854.6 L1513.0,855.1 L1516.0,855.5 L1518.9,856.0 L1521.9,856.5 L1524.8,856.9 L1527.8,857.4 L1530.7,857.8 L1533.7,858.3 L1536.6,858.7 L1539.6,859.1 L1542.5,859.5 L1545.5,859.9 L1548.5,860.3 L1551.4,860.7 L1554.4,861.1 L1557.3,861.5 L1560.3,861.9 L1563.2,862.2 L1566.2,862.6 L1569.1,863.0 L1572.1,863.3 L1575.0,863.7 L1578.0,864.0 L1581.0,864.3 L1583.9,864.7 L1586.9,865.0 L1589.8,865.3 L1592.8,865.6 L1595.8,865.9 L1598.7,866.2 L1601.7,866.5 L1604.7,866.8 L1607.6,867.0 L1610.6,867.3 L1613.6,867.6 L1616.5,867.8 L1619.5,868.1 L1622.5,868.3 L1625.4,868.6 L1628.4,868.8 L1631.4,869.0 L1634.4,869.3 L1637.4,869.5 L1640.3,869.7 L1643.3,869.9 L1646.3,870.1 L1649.3,870.3 L1652.3,870.5 L1655.3,870.7 L1658.3,870.8 L1661.3,871.0 L1664.3,871.2 L1667.3,871.3 L1670.3,871.5 L1673.3,871.6 L1676.3,871.8 L1679.3,871.9 L1682.3,872.1 L1685.4,872.2 L1688.4,872.3 L1691.4,872.4 L1694.4,872.5 L1697.5,872.6 L1700.5,872.7 L1703.5,872.8 L1706.6,872.9 L1709.6,873.0 L1712.7,873.1 L1715.7,873.2 L1718.8,873.2 L1721.8,873.3 L1724.9,873.4 L1728.0,873.4 L1731.0,873.5 L1734.1,873.5 L1737.2,873.5 L1740.3,873.6" stroke="#00c800"/>
<path d="M378.6,868.7 L381.6,867.8 L384.6,866.8 L387.5,865.7 L390.3,864.6 L393.1,863.3 L395.9,862.1 L398.5,860.7 L401.2,859.3 L403.8,857.9 L406.3,856.3 L408.8,854.8 L411.3,853.1 L413.7,851.5 L416.1,849.7 L418.4,847.9 L420.7,846.1 L423.0,844.2 L425.2,842.3 L427.4,840.4 L429.6,838.4 L431.7,836.3 L433.8,834.3 L435.9,832.2 L437.9,830.0 L439.9,827.9 L441.9,825.7 L443.9,823.5 L445.8,821.2 L447.8,819.0 L449.7,816.7 L451.5,814.4 L453.4,812.1 L455.2,809.7 L457.1,807.4 L458.8,805.0 L460.6,802.6 L462.4,800.2 L464.1,797.8 L465.8,795.3 L467.5,792.9 L469.2,790.4 L470.9,787.9 L472.5,785.4 L474.1,782.8 L475.7,780.3 L477.3,777.7 L478.9,775.2 L480.4,772.6 L482.0,770.0 L483.5,767.4 L485.0,764.8 L486.5,762.1 L488.0,759.5 L489.4,756.8 L490.9,754.1 L492.3,751.5 L493.7,748.8 L495.1,746.1 L496.5,743.4 L497.8,740.7 L499.2,737.9 L500.5,735.2 L501.8,732.5 L503.2,729.7 L504.5,726.9 L505.7,724.2 L507.0,721.4 L508.3,718.6 L509.5,715.9 L510.8,713.1 L512.0,710.3 L513.2,707.5 L514.4,704.7 L515.6,701.9 L516.8,699.1 L518.0,696.3 L519.1,693.5 L520.3,690.7 L521.4,687.9 L522.5,685.1 L523.7,682.3 L524.8,679.4 L525.9,676.6 L527.0,673.8 L528.1,671.0 L529.2,668.2 L530.2,665.4 L531.3,662.6 L532.4,659.8 L533.4,657.0 L534.4,654.2 L535.5,651.4 L536.5,648.6 L537.5,645.8 L538.6,643.0 L539.6,640.3 L540.6,637.5 L541.6,634.7 L542.6,631.9 L543.6,629.2 L544.5,626.4 L545.5,623.6 L546.5,620.8 L547.5,618.1 L548.4,615.3 L549.4,612.5 L550.3,609.8 L551.3,607.0 L552.2,604.2 L553.1,601.5 L554.1,598.7 L555.0,596.0 L555.9,593.2 L556.8,590.4 L557.7,587.7 L558.6,584.9 L559.5,582.2 L560.4,579.4 L561.3,576.7 L562.2,573.9 L563.1,571.1 L564.0,568.4 L564.8,565.6 L565.7,562.9 L566.6,560.1 L567.4,557.4 L568.3,554.6 L569.2,551.9 L570.0,549.1 L570.9,546.3 L571.7,543.6 L572.6,540.8 L573.4,538.1 L574.3,535.3 L575.1,532.6 L576.0,529.8 L576.8,527.0 L577.6,524.3 L578.5,521.5 L579.3,518.7 L580.1,516.0 L580.9,513.2 L581.8,510.4 L582.6,507.7 L583.4,504.9 L584.2,502.1 L585.1,499.4 L585.9,496.6 L586.7,493.8 L587.5,491.0 L588.3,488.2 L589.1,485.5 L590.0,482.7 L590.8,479.9 L591.6,477.1 L592.4,474.3 L593.2,471.5 L594.0,468.7 L594.8,465.9 L595.7,463.1 L596.5,460.3 L597.3,457.5 L598.1,454.7 L598.9,451.8 L599.7,449.0 L600.6,446.2 L601.4,443.4 L602.2,440.6 L603.0,437.7 L603.8,434.9 L604.7,432.0 L605.5,429.2 L606.3,426.4 L607.1,423.5 L608.0,420.7 L608.8,417.8 L609.6,414.9 L610.5,412.1 L611.3,409.2 L612.1,406.3 L613.0,403.4 L613.8,400.6 L614.7,397.7 L615.5,394.8 L616.4,391.9 L617.2,389.0 L618.1,386.1 L618.9,383.2 L619.8,380.3 L620.7,377.3 L621.5,374.4 L622.4,371.5 L623.3,368.5 L624.2,365.6 L625.1,362.7 L626.0,359.7 L626.8,356.8 L627.7,353.8 L628.6,350.8 L629.5,347.8 L630.5,344.9 L631.4,341.9 L632.3,338.9 L633.2,335.9 L634.1,332.9 L635.1,329.9 L636.0,326.9 L637.0,323.8 L637.9,320.8 L638.9,317.8 L639.8,314.7 L640.8,311.7 L641.8,308.6 L642.7,305.6 L643.7,302.5 L644.7,299.4 L645.7,296.3 L646.7,293.2 L647.7,290.1 L648.7,287.0 L649.7,283.9 L650.8,280.8 L651.8,277.7 L652.9,274.7 L653.9,271.6 L655.0,268.5 L656.1,265.5 L657.2,262.5 L658.4,259.5 L659.5,256.6 L660.7,253.7 L661.9,250.8 L663.2,248.0 L664.4,245.2 L665.7,242.5 L667.0,239.9 L668.4,237.3 L669.8,234.7 L671.2,232.3 L672.6,229.9 L674.1,227.6 L675.7,225.3 L677.2,223.2 L678.8,221.1 L680.5,219.1 L682.2,217.3 L683.9,215.5 L685.7,213.8 L687.5,212.2 L689.4,210.8 L691.4,209.4 L693.4,208.2 L695.4,207.1 L697.5,206.1 L699.6,205.3 L701.8,204.6 L704.1,204.1 L706.4,203.7 L708.7,203.5 L711.0,203.4 L713.4,203.5 L715.9,203.8 L718.3,204.3 L720.8,205.0 L723.3,205.7 L725.8,206.7 L728.3,207.7 L730.9,208.9 L733.4,210.2 L736.0,211.6 L738.5,213.2 L741.0,214.8 L743.6,216.5 L746.1,218.3 L748.6,220.2 L751.1,222.1 L753.6,224.1 L756.0,226.1 L758.4,228.2 L760.8,230.3 L763.1,232.5 L765.4,234.7 L767.7,236.9 L769.9,239.1 L772.1,241.4 L774.3,243.6 L776.4,245.9 L778.5,248.2 L780.6,250.6 L782.6,252.9 L784.6,255.3 L786.5,257.7 L788.5,260.1 L790.4,262.5 L792.3,265.0 L794.1,267.4 L795.9,269.9 L797.7,272.4 L799.5,274.9 L801.3,277.4 L803.0,280.0 L804.7,282.5 L806.4,285.1 L808.0,287.6 L809.7,290.2 L811.3,292.8 L812.9,295.4 L814.5,298.0 L816.1,300.6 L817.6,303.2 L819.1,305.8 L820.7,308.4 L822.2,311.1 L823.7,313.7 L825.2,316.4 L826.6,319.0 L828.1,321.7 L829.5,324.3 L831.0,327.0 L832.4,329.6 L833.8,332.3 L835.3,334.9 L836.7,337.6 L838.1,340.2 L839.5,342.9 L840.9,345.5 L842.3,348.2 L843.6,350.8 L845.0,353.5 L846.4,356.1 L847.8,358.8 L849.2,361.4 L850.6,364.1 L851.9,366.7 L853.3,369.3 L854.7,372.0 L856.1,374.6 L857.5,377.2 L858.9,379.8 L860.3,382.4 L861.7,385.1 L863.1,387.7 L864.5,390.2 L865.9,392.8 L867.4,395.4 L868.8,398.0 L870.3,400.6 L871.7,403.1 L873.2,405.7 L874.7,408.2 L876.2,410.8 L877.7,413.3 L879.2,415.8 L880.7,418.3 L882.3,420.8 L883.8,423.3 L885.4,425.8 L887.0,428.3 L888.6,430.7 L890.2,433.2 L891.9,435.6 L893.5,438.0 L895.2,440.4 L896.9,442.8 L898.6,445.2 L900.4,447.6 L902.1,450.0 L903.9,452.4 L905.6,454.7 L907.4,457.1 L909.2,459.4 L911.0,461.7 L912.9,464.1 L914.7,466.4 L916.5,468.7 L918.4,471.0 L920.3,473.3 L922.2,475.6 L924.0,477.9 L925.9,480.2 L927.8,482.5 L929.7,484.8 L931.7,487.0 L933.6,489.3 L935.5,491.6 L937.5,493.8 L939.4,496.1 L941.3,498.4 L943.3,500.6 L945.2,502.9 L947.2,505.1 L949.2,507.4 L951.1,509.7 L953.1,511.9 L955.1,514.2 L957.0,516.5 L959.0,518.7 L960.9,521.0 L962.9,523.3 L964.9,525.5 L966.8,527.8 L968.8,530.1 L970.7,532.4 L972.7,534.6 L974.6,536.9 L976.6,539.2 L978.5,541.5 L980.4,543.8 L982.4,546.1 L984.3,548.5 L986.2,550.8 L988.1,553.1 L990.0,555.4 L991.9,557.8 L993.8,560.1 L995.6,562.5 L997.5,564.9 L999.3,567.3 L1001.2,569.6 L1003.0,572.0 L1004.8,574.5 L1006.6,576.9 L1008.4,579.3 L1010.2,581.7 L1012.0,584.2 L1013.8,586.6 L1015.5,589.0 L1017.3,591.5 L1019.0,593.9 L1020.8,596.4 L1022.5,598.8 L1024.3,601.3 L1026.0,603.8 L1027.8,606.2 L1029.5,608.7 L1031.2,611.1 L1033.0,613.6 L1034.7,616.0 L1036.5,618.5 L1038.2,620.9 L1040.0,623.4 L1041.7,625.8 L1043.5,628.2 L1045.2,630.6 L1047.0,633.1 L1048.8,635.5 L1050.5,637.8 L1052.3,640.2 L1054.1,642.6 L1055.9,645.0 L1057.7,647.3 L1059.5,649.7 L1061.4,652.0 L1063.2,654.3 L1065.1,656.6 L1066.9,658.9 L1068.8,661.2 L1070.7,663.4 L1072.6,665.6 L1074.5,667.9 L1076.5,670.1 L1078.4,672.2 L1080.4,674.4 L1082.4,676.5 L1084.4,678.7 L1086.4,680.8 L1088.5,682.8 L1090.5,684.9 L1092.6,686.9 L1094.7,688.9 L1096.9,690.9 L1099.0,692.8 L1101.2,694.8 L1103.4,696.7 L1105.6,698.5 L1107.9,700.4 L1110.1,702.2 L1112.4,704.0 L1114.7,705.8 L1117.1,707.5 L1119.4,709.3 L1121.8,711.0 L1124.2,712.6 L1126.6,714.3 L1129.0,715.9 L1131.5,717.6 L1134.0,719.2 L1136.5,720.7 L1139.0,722.3 L1141.5,723.8 L1144.0,725.3 L1146.6,726.8 L1149.1,728.3 L1151.7,729.8 L1154.3,731.2 L1156.9,732.7 L1159.5,734.1 L1162.2,735.5 L1164.8,736.9 L1167.5,738.2 L1170.2,739.6 L1172.9,740.9 L1175.5,742.2 L1178.3,743.6 L1181.0,744.9 L1183.7,746.2 L1186.4,747.4 L1189.2,748.7 L1191.9,750.0 L1194.7,751.2 L1197.4,752.4 L1200.2,753.7 L1203.0,754.9 L1205.8,756.1 L1208.6,757.3 L1211.4,758.5 L1214.2,759.7 L1217.0,760.9 L1219.8,762.0 L1222.6,763.2 L1225.4,764.4 L1228.2,765.5 L1231.0,766.7 L1233.8,767.8 L1236.6,769.0 L1239.5,770.1 L1242.3,771.3 L1245.1,772.4 L1247.9,773.5 L1250.7,774.7 L1253.5,775.8 L1256.3,777.0 L1259.2,778.1 L1262.0,779.2 L1264.8,780.4 L1267.6,781.5 L1270.4,782.6 L1273.2,783.7 L1276.0,784.9 L1278.8,786.0 L1281.6,787.1 L1284.4,788.2 L1287.2,789.3 L1290.0,790.4 L1292.8,791.6 L1295.6,792.7 L1298.4,793.8 L1301.2,794.9 L1304.0,796.0 L1306.8,797.0 L1309.5,798.1 L1312.3,799.2 L1315.1,800.3 L1317.9,801.4 L1320.7,802.5 L1323.5,803.5 L1326.3,804.6 L1329.1,805.6 L1331.9,806.7 L1334.7,807.7 L1337.5,808.8 L1340.3,809.8 L1343.1,810.9 L1345.9,811.9 L1348.7,812.9 L1351.4,813.9 L1354.2,814.9 L1357.0,815.9 L1359.8,816.9 L1362.6,817.9 L1365.4,818.9 L1368.2,819.9 L1371.0,820.9 L1373.8,821.8 L1376.6,822.8 L1379.5,823.7 L1382.3,824.7 L1385.1,825.6 L1387.9,826.5 L1390.7,827.4 L1393.5,828.4 L1396.3,829.3 L1399.1,830.2 L1402.0,831.0 L1404.8,831.9 L1407.6,832.8 L1410.4,833.6 L1413.2,834.5 L1416.1,835.3 L1418.9,836.2 L1421.7,837.0 L1424.6,837.8 L1427.4,838.6 L1430.2,839.4 L1433.1,840.2 L1435.9,841.0 L1438.8,841.7 L1441.6,842.5 L1444.5,843.2 L1447.3,843.9 L1450.2,844.7 L1453.1,845.4 L1455.9,846.1 L1458.8,846.8 L1461.7,847.4 L1464.5,848.1 L1467.4,848.8 L1470.3,849.4 L1473.2,850.0 L1476.1,850.6 L1479.0,851.2 L1481.8,851.8 L1484.7,852.4 L1487.6,853.0 L1490.6,853.5 L1493.5,854.1 L1496.4,854.6 L1499.3,855.1 L1502.2,855.6 L1505.1,856.1 L1508.1,856.6 L1511.0,857.1 L1513.9,857.5 L1516.9,857.9 L1519.8,858.4 L1522.8,858.8 L1525.7,859.2 L1528.7,859.6 L1531.6,860.0 L1534.6,860.3 L1537.6,860.7 L1540.5,861.0 L1543.5,861.4 L1546.5,861.7 L1549.4,862.0 L1552.4,862.3 L1555.4,862.6 L1558.4,862.9 L1561.4,863.2 L1564.3,863.5 L1567.3,863.8 L1570.3,864.0 L1573.3,864.3 L1576.3,864.5 L1579.3,864.8 L1582.3,865.0 L1585.3,865.2 L1588.3,865.4 L1591.2,865.7 L1594.2,865.9 L1597.2,866.1 L1600.2,866.3 L1603.2,866.5 L1606.2,866.6 L1609.2,866.8 L1612.2,867.0 L1615.2,867.2 L1618.2,867.4 L1621.2,867.5 L1624.2,867.7 L1627.2,867.9 L1630.2,868.0 L1633.2,868.2 L1636.2,868.3 L1639.2,868.5 L1642.2,868.6 L1645.2,868.8 L1648.2,868.9 L1651.2,869.1 L1654.2,869.2 L1657.2,869.4 L1660.1,869.5 L1663.1,869.7 L1666.1,869.8 L1669.1,869.9 L1672.1,870.1 L1675.0,870.2 L1678.0,870.4 L1681.0,870.5 L1684.0,870.7 L1686.9,870.8 L1689.9,871.0 L1692.9,871.2 L1695.8,871.3 L1698.8,871.5 L1701.7,871.6 L1704.7,871.8 L1707.6,872.0 L1710.6,872.2 L1713.5,872.4 L1716.4,872.5 L1719.4,872.7 L1722.3,872.9 L1725.2,873.1 L1728.1,873.3 L1731.1,873.6 L1734.0,873.8 L1736.9,874.0 L1739.8,874.2" stroke="#0000dc"/>
<path d="M422.9,869.4 L425.7,868.2 L428.5,866.9 L431.3,865.5 L434.0,864.1 L436.7,862.7 L439.3,861.2 L441.9,859.7 L444.4,858.2 L447.0,856.6 L449.4,855.0 L451.9,853.3 L454.2,851.7 L456.6,849.9 L458.9,848.2 L461.2,846.4 L463.4,844.5 L465.6,842.7 L467.8,840.8 L470.0,838.8 L472.1,836.9 L474.1,834.9 L476.2,832.8 L478.2,830.8 L480.1,828.7 L482.1,826.6 L484.0,824.4 L485.8,822.2 L487.7,820.0 L489.5,817.8 L491.2,815.5 L493.0,813.2 L494.7,810.9 L496.4,808.6 L498.1,806.2 L499.7,803.8 L501.3,801.4 L502.9,799.0 L504.4,796.5 L506.0,794.1 L507.5,791.6 L508.9,789.1 L510.4,786.5 L511.8,784.0 L513.2,781.4 L514.6,778.8 L516.0,776.2 L517.3,773.5 L518.6,770.9 L519.9,768.2 L521.2,765.5 L522.4,762.8 L523.7,760.1 L524.9,757.4 L526.1,754.7 L527.2,751.9 L528.4,749.1 L529.5,746.4 L530.7,743.6 L531.8,740.8 L532.8,738.0 L533.9,735.1 L535.0,732.3 L536.0,729.5 L537.0,726.6 L538.1,723.8 L539.1,720.9 L540.0,718.0 L541.0,715.2 L542.0,712.3 L542.9,709.4 L543.9,706.5 L544.8,703.6 L545.7,700.7 L546.6,697.8 L547.5,694.9 L548.4,692.0 L549.3,689.1 L550.2,686.2 L551.0,683.3 L551.9,680.4 L552.7,677.5 L553.6,674.6 L554.4,671.7 L555.3,668.8 L556.1,665.9 L556.9,663.0 L557.8,660.1 L558.6,657.2 L559.4,654.3 L560.2,651.4 L561.0,648.6 L561.8,645.7 L562.6,642.8 L563.4,640.0 L564.2,637.1 L565.0,634.3 L565.8,631.4 L566.6,628.6 L567.4,625.7 L568.2,622.9 L568.9,620.1 L569.7,617.2 L570.5,614.4 L571.3,611.6 L572.0,608.8 L572.8,606.0 L573.6,603.1 L574.3,600.3 L575.1,597.5 L575.9,594.7 L576.6,591.9 L577.4,589.1 L578.1,586.3 L578.9,583.5 L579.6,580.7 L580.4,577.9 L581.1,575.1 L581.9,572.3 L582.6,569.6 L583.4,566.8 L584.1,564.0 L584.8,561.2 L585.6,558.4 L586.3,555.7 L587.1,552.9 L587.8,550.1 L588.5,547.3 L589.3,544.6 L590.0,541.8 L590.7,539.0 L591.5,536.3 L592.2,533.5 L592.9,530.7 L593.7,528.0 L594.4,525.2 L595.2,522.5 L595.9,519.7 L596.6,516.9 L597.4,514.2 L598.1,511.4 L598.8,508.7 L599.6,505.9 L600.3,503.1 L601.0,500.4 L601.8,497.6 L602.5,494.9 L603.2,492.1 L604.0,489.3 L604.7,486.6 L605.5,483.8 L606.2,481.1 L607.0,478.3 L607.7,475.6 L608.4,472.8 L609.2,470.0 L609.9,467.3 L610.7,464.5 L611.4,461.8 L612.2,459.0 L612.9,456.2 L613.7,453.5 L614.5,450.7 L615.2,447.9 L616.0,445.2 L616.8,442.4 L617.5,439.6 L618.3,436.8 L619.1,434.1 L619.8,431.3 L620.6,428.5 L621.4,425.7 L622.2,423.0 L623.0,420.2 L623.7,417.4 L624.5,414.6 L625.3,411.8 L626.1,409.0 L626.9,406.2 L627.7,403.4 L628.5,400.6 L629.3,397.8 L630.1,395.0 L631.0,392.2 L631.8,389.4 L632.6,386.6 L633.4,383.8 L634.2,381.0 L635.1,378.1 L635.9,375.3 L636.8,372.5 L637.6,369.7 L638.4,366.8 L639.3,364.0 L640.2,361.1 L641.0,358.3 L641.9,355.5 L642.8,352.6 L643.6,349.7 L644.5,346.9 L645.4,344.0 L646.3,341.2 L647.2,338.3 L648.1,335.4 L649.0,332.5 L649.9,329.7 L650.8,326.8 L651.7,323.9 L652.6,321.0 L653.6,318.1 L654.5,315.2 L655.4,312.3 L656.4,309.3 L657.3,306.4 L658.3,303.5 L659.3,300.6 L660.2,297.6 L661.2,294.7 L662.2,291.7 L663.2,288.8 L664.2,285.9 L665.2,282.9 L666.2,280.0 L667.2,277.0 L668.3,274.1 L669.3,271.2 L670.4,268.3 L671.5,265.4 L672.7,262.6 L673.8,259.7 L675.0,256.9 L676.2,254.1 L677.4,251.4 L678.7,248.6 L680.0,246.0 L681.3,243.3 L682.7,240.7 L684.1,238.2 L685.6,235.6 L687.1,233.2 L688.6,230.8 L690.2,228.4 L691.8,226.1 L693.5,223.8 L695.2,221.7 L697.0,219.5 L698.8,217.5 L700.7,215.5 L702.6,213.6 L704.6,211.8 L706.6,210.0 L708.8,208.3 L710.9,206.7 L713.2,205.2 L715.5,203.8 L717.8,202.5 L720.2,201.4 L722.7,200.4 L725.1,199.7 L727.6,199.2 L730.0,198.9 L732.5,198.9 L734.9,199.2 L737.4,199.7 L739.8,200.5 L742.2,201.5 L744.6,202.7 L747.0,204.1 L749.4,205.7 L751.8,207.5 L754.1,209.4 L756.4,211.5 L758.7,213.7 L761.0,216.0 L763.3,218.5 L765.6,221.0 L767.8,223.5 L770.0,226.2 L772.2,228.9 L774.4,231.6 L776.5,234.3 L778.6,237.0 L780.7,239.8 L782.8,242.4 L784.8,245.1 L786.8,247.8 L788.8,250.4 L790.8,253.0 L792.7,255.6 L794.6,258.2 L796.5,260.7 L798.4,263.2 L800.3,265.8 L802.1,268.3 L803.9,270.7 L805.7,273.2 L807.5,275.7 L809.3,278.1 L811.0,280.5 L812.8,282.9 L814.5,285.3 L816.2,287.7 L817.9,290.1 L819.6,292.5 L821.3,294.8 L823.0,297.1 L824.7,299.5 L826.3,301.8 L828.0,304.1 L829.6,306.4 L831.2,308.7 L832.9,311.0 L834.5,313.3 L836.1,315.6 L837.7,317.9 L839.4,320.2 L841.0,322.5 L842.6,324.8 L844.2,327.0 L845.8,329.3 L847.5,331.6 L849.1,333.8 L850.7,336.1 L852.3,338.4 L854.0,340.7 L855.6,343.0 L857.2,345.2 L858.9,347.5 L860.6,349.8 L862.2,352.1 L863.9,354.4 L865.6,356.7 L867.2,359.0 L868.9,361.3 L870.6,363.6 L872.3,366.0 L874.0,368.3 L875.7,370.6 L877.4,372.9 L879.1,375.2 L880.8,377.6 L882.5,379.9 L884.2,382.3 L885.9,384.6 L887.6,386.9 L889.3,389.3 L891.0,391.6 L892.7,394.0 L894.4,396.4 L896.1,398.7 L897.9,401.1 L899.6,403.5 L901.3,405.9 L903.0,408.2 L904.7,410.6 L906.4,413.0 L908.1,415.4 L909.8,417.8 L911.5,420.2 L913.2,422.6 L914.9,425.0 L916.6,427.4 L918.3,429.9 L920.0,432.3 L921.7,434.7 L923.4,437.2 L925.1,439.6 L926.7,442.0 L928.4,444.5 L930.1,446.9 L931.7,449.4 L933.4,451.9 L935.0,454.3 L936.7,456.8 L938.3,459.3 L940.0,461.8 L941.6,464.2 L943.2,466.7 L944.8,469.2 L946.5,471.7 L948.1,474.2 L949.7,476.7 L951.3,479.2 L952.9,481.8 L954.5,484.3 L956.1,486.8 L957.7,489.3 L959.3,491.8 L960.9,494.3 L962.4,496.9 L964.0,499.4 L965.6,501.9 L967.2,504.4 L968.8,506.9 L970.3,509.5 L971.9,512.0 L973.5,514.5 L975.1,517.0 L976.7,519.6 L978.2,522.1 L979.8,524.6 L981.4,527.1 L983.0,529.7 L984.6,532.2 L986.1,534.7 L987.7,537.2 L989.3,539.7 L990.9,542.2 L992.5,544.7 L994.1,547.2 L995.7,549.7 L997.3,552.2 L998.9,554.7 L1000.5,557.2 L1002.1,559.7 L1003.7,562.2 L1005.3,564.6 L1006.9,567.1 L1008.5,569.6 L1010.2,572.0 L1011.8,574.5 L1013.4,576.9 L1015.1,579.4 L1016.7,581.8 L1018.4,584.3 L1020.0,586.7 L1021.7,589.1 L1023.4,591.5 L1025.1,593.9 L1026.8,596.3 L1028.4,598.7 L1030.1,601.1 L1031.9,603.4 L1033.6,605.8 L1035.3,608.2 L1037.0,610.5 L1038.8,612.8 L1040.5,615.2 L1042.3,617.5 L1044.1,619.8 L1045.8,622.1 L1047.6,624.4 L1049.4,626.7 L1051.2,628.9 L1053.0,631.2 L1054.9,633.4 L1056.7,635.7 L1058.6,637.9 L1060.4,640.1 L1062.3,642.3 L1064.2,644.5 L1066.1,646.7 L1068.0,648.8 L1069.9,651.0 L1071.8,653.1 L1073.8,655.3 L1075.7,657.4 L1077.7,659.5 L1079.7,661.6 L1081.7,663.6 L1083.7,665.7 L1085.7,667.7 L1087.8,669.8 L1089.8,671.8 L1091.9,673.8 L1094.0,675.7 L1096.1,677.7 L1098.2,679.7 L1100.3,681.6 L1102.5,683.5 L1104.6,685.4 L1106.8,687.3 L1109.0,689.2 L1111.2,691.0 L1113.4,692.9 L1115.7,694.7 L1117.9,696.5 L1120.2,698.3 L1122.5,700.1 L1124.8,701.8 L1127.1,703.6 L1129.4,705.3 L1131.8,707.0 L1134.1,708.7 L1136.5,710.4 L1138.9,712.1 L1141.3,713.7 L1143.7,715.4 L1146.1,717.0 L1148.5,718.6 L1150.9,720.2 L1153.4,721.8 L1155.9,723.4 L1158.3,725.0 L1160.8,726.5 L1163.3,728.1 L1165.8,729.6 L1168.4,731.1 L1170.9,732.6 L1173.4,734.1 L1176.0,735.5 L1178.5,737.0 L1181.1,738.5 L1183.7,739.9 L1186.3,741.3 L1188.9,742.7 L1191.5,744.1 L1194.1,745.5 L1196.7,746.9 L1199.4,748.3 L1202.0,749.6 L1204.7,751.0 L1207.3,752.3 L1210.0,753.7 L1212.7,755.0 L1215.4,756.3 L1218.1,757.6 L1220.8,758.9 L1223.5,760.1 L1226.2,761.4 L1228.9,762.6 L1231.6,763.9 L1234.3,765.1 L1237.1,766.4 L1239.8,767.6 L1242.6,768.8 L1245.3,770.0 L1248.1,771.2 L1250.9,772.4 L1253.6,773.5 L1256.4,774.7 L1259.2,775.8 L1262.0,777.0 L1264.7,778.1 L1267.5,779.3 L1270.3,780.4 L1273.1,781.5 L1275.9,782.6 L1278.7,783.7 L1281.5,784.8 L1284.4,785.9 L1287.2,787.0 L1290.0,788.0 L1292.8,789.1 L1295.6,790.2 L1298.5,791.2 L1301.3,792.3 L1304.1,793.3 L1306.9,794.3 L1309.8,795.4 L1312.6,796.4 L1315.4,797.4 L1318.3,798.4 L1321.1,799.4 L1323.9,800.4 L1326.8,801.4 L1329.6,802.4 L1332.4,803.4 L1335.3,804.4 L1338.1,805.3 L1340.9,806.3 L1343.7,807.3 L1346.6,808.2 L1349.4,809.2 L1352.2,810.1 L1355.0,811.1 L1357.9,812.0 L1360.7,813.0 L1363.5,813.9 L1366.3,814.9 L1369.1,815.8 L1371.9,816.7 L1374.7,817.6 L1377.6,818.6 L1380.4,819.5 L1383.1,820.4 L1385.9,821.3 L1388.7,822.2 L1391.5,823.1 L1394.3,824.0 L1397.1,824.9 L1399.8,825.8 L1402.6,826.7 L1405.4,827.6 L1408.1,828.5 L1410.9,829.4 L1413.6,830.3 L1416.4,831.2 L1419.1,832.1 L1421.8,833.0 L1424.6,833.9 L1427.3,834.7 L1430.1,835.6 L1432.8,836.4 L1435.5,837.3 L1438.2,838.1 L1441.0,839.0 L1443.7,839.8 L1446.4,840.6 L1449.2,841.4 L1451.9,842.2 L1454.6,843.0 L1457.4,843.8 L1460.1,844.6 L1462.9,845.4 L1465.6,846.1 L1468.4,846.8 L1471.1,847.6 L1473.9,848.3 L1476.7,849.0 L1479.4,849.7 L1482.2,850.3 L1485.0,851.0 L1487.8,851.6 L1490.6,852.3 L1493.4,852.9 L1496.2,853.5 L1499.1,854.0 L1501.9,854.6 L1504.7,855.1 L1507.6,855.7 L1510.4,856.2 L1513.3,856.7 L1516.2,857.2 L1519.1,857.6 L1521.9,858.1 L1524.8,858.5 L1527.7,858.9 L1530.6,859.3 L1533.6,859.7 L1536.5,860.1 L1539.4,860.5 L1542.3,860.8 L1545.3,861.2 L1548.2,861.5 L1551.2,861.8 L1554.1,862.1 L1557.1,862.4 L1560.0,862.7 L1563.0,863.0 L1566.0,863.2 L1568.9,863.5 L1571.9,863.7 L1574.9,864.0 L1577.9,864.2 L1580.8,864.4 L1583.8,864.6 L1586.8,864.8 L1589.8,865.0 L1592.8,865.2 L1595.8,865.4 L1598.8,865.6 L1601.8,865.8 L1604.8,865.9 L1607.8,866.1 L1610.8,866.2 L1613.8,866.4 L1616.8,866.6 L1619.8,866.7 L1622.8,866.8 L1625.8,867.0 L1628.7,867.1 L1631.7,867.2 L1634.7,867.4 L1637.7,867.5 L1640.7,867.6 L1643.7,867.8 L1646.7,867.9 L1649.7,868.0 L1652.6,868.1 L1655.6,868.3 L1658.6,868.4 L1661.6,868.5 L1664.5,868.6 L1667.5,868.8 L1670.4,868.9 L1673.4,869.0 L1676.3,869.2 L1679.3,869.3 L1682.2,869.5 L1685.2,869.6 L1688.1,869.8 L1691.0,869.9 L1693.9,870.1 L1696.8,870.2 L1699.7,870.4 L1702.6,870.6 L1705.5,870.8 L1708.4,871.0 L1711.3,871.2 L1714.1,871.4 L1717.0,871.6 L1719.8,871.8 L1722.7,872.0 L1725.5,872.2 L1728.4,872.5 L1731.2,872.7 L1734.0,873.0 L1736.8,873.3 L1739.6,873.5" stroke="#00bfe6"/>
<path d="M473.0,859.2 L475.8,858.1 L478.5,856.8 L481.2,855.4 L483.7,854.0 L486.2,852.5 L488.5,850.9 L490.8,849.2 L493.0,847.4 L495.1,845.6 L497.2,843.7 L499.1,841.7 L501.0,839.7 L502.8,837.6 L504.6,835.5 L506.3,833.3 L507.9,831.0 L509.5,828.7 L511.1,826.4 L512.5,824.0 L514.0,821.6 L515.4,819.1 L516.7,816.6 L518.0,814.1 L519.3,811.6 L520.6,809.0 L521.8,806.4 L523.0,803.8 L524.1,801.1 L525.3,798.5 L526.4,795.8 L527.6,793.1 L528.7,790.5 L529.8,787.8 L530.9,785.1 L532.0,782.4 L533.0,779.7 L534.1,777.0 L535.2,774.3 L536.2,771.6 L537.2,768.9 L538.3,766.2 L539.3,763.5 L540.3,760.8 L541.3,758.1 L542.3,755.4 L543.3,752.7 L544.3,750.0 L545.3,747.2 L546.3,744.5 L547.2,741.8 L548.2,739.1 L549.1,736.3 L550.1,733.6 L551.0,730.8 L551.9,728.1 L552.9,725.4 L553.8,722.6 L554.7,719.9 L555.6,717.1 L556.5,714.4 L557.4,711.6 L558.2,708.9 L559.1,706.1 L560.0,703.4 L560.9,700.6 L561.7,697.9 L562.6,695.1 L563.4,692.4 L564.3,689.6 L565.1,686.9 L565.9,684.1 L566.7,681.3 L567.6,678.6 L568.4,675.8 L569.2,673.1 L570.0,670.3 L570.8,667.5 L571.6,664.8 L572.4,662.0 L573.2,659.2 L573.9,656.5 L574.7,653.7 L575.5,651.0 L576.3,648.2 L577.0,645.4 L577.8,642.7 L578.5,639.9 L579.3,637.2 L580.1,634.4 L580.8,631.7 L581.5,628.9 L582.3,626.1 L583.0,623.4 L583.7,620.6 L584.5,617.9 L585.2,615.1 L585.9,612.4 L586.7,609.6 L587.4,606.9 L588.1,604.2 L588.8,601.4 L589.5,598.7 L590.2,595.9 L590.9,593.2 L591.6,590.5 L592.3,587.7 L593.0,585.0 L593.7,582.3 L594.4,579.5 L595.1,576.8 L595.8,574.1 L596.5,571.4 L597.2,568.7 L597.9,566.0 L598.6,563.2 L599.3,560.5 L600.0,557.8 L600.6,555.1 L601.3,552.4 L602.0,549.7 L602.7,547.0 L603.4,544.4 L604.1,541.7 L604.7,539.0 L605.4,536.3 L606.1,533.6 L606.8,530.9 L607.5,528.3 L608.2,525.6 L608.9,522.9 L609.5,520.2 L610.2,517.6 L610.9,514.9 L611.6,512.2 L612.3,509.5 L613.0,506.9 L613.7,504.2 L614.4,501.5 L615.0,498.9 L615.7,496.2 L616.4,493.5 L617.1,490.9 L617.8,488.2 L618.5,485.5 L619.2,482.9 L619.9,480.2 L620.7,477.5 L621.4,474.9 L622.1,472.2 L622.8,469.5 L623.5,466.9 L624.2,464.2 L624.9,461.5 L625.7,458.8 L626.4,456.2 L627.1,453.5 L627.9,450.8 L628.6,448.1 L629.4,445.5 L630.1,442.8 L630.8,440.1 L631.6,437.4 L632.4,434.7 L633.1,432.0 L633.9,429.3 L634.6,426.6 L635.4,424.0 L636.2,421.3 L637.0,418.5 L637.8,415.8 L638.6,413.1 L639.4,410.4 L640.2,407.7 L641.0,405.0 L641.8,402.3 L642.6,399.6 L643.4,396.8 L644.2,394.1 L645.1,391.4 L645.9,388.6 L646.7,385.9 L647.6,383.1 L648.4,380.4 L649.3,377.6 L650.2,374.9 L651.0,372.1 L651.9,369.3 L652.8,366.6 L653.7,363.8 L654.6,361.0 L655.5,358.2 L656.4,355.4 L657.3,352.6 L658.3,349.8 L659.2,347.0 L660.1,344.2 L661.1,341.4 L662.1,338.5 L663.0,335.7 L664.0,332.9 L665.0,330.0 L666.0,327.2 L666.9,324.3 L668.0,321.4 L669.0,318.6 L670.0,315.7 L671.0,312.8 L672.0,309.9 L673.1,307.0 L674.1,304.1 L675.2,301.2 L676.3,298.3 L677.4,295.4 L678.4,292.4 L679.5,289.5 L680.7,286.5 L681.8,283.6 L682.9,280.7 L684.1,277.7 L685.2,274.8 L686.4,271.9 L687.6,269.0 L688.8,266.1 L690.0,263.2 L691.3,260.4 L692.5,257.6 L693.8,254.8 L695.1,252.1 L696.5,249.4 L697.8,246.7 L699.2,244.1 L700.6,241.6 L702.1,239.1 L703.5,236.6 L705.0,234.2 L706.5,231.9 L708.1,229.6 L709.7,227.4 L711.3,225.3 L713.0,223.3 L714.7,221.3 L716.4,219.4 L718.2,217.6 L720.0,215.9 L721.8,214.3 L723.7,212.7 L725.6,211.3 L727.6,210.0 L729.6,208.7 L731.6,207.6 L733.7,206.6 L735.9,205.7 L738.1,205.0 L740.3,204.3 L742.6,203.8 L744.9,203.4 L747.2,203.1 L749.6,203.0 L752.0,203.1 L754.4,203.3 L756.8,203.6 L759.2,204.1 L761.6,204.7 L764.1,205.4 L766.5,206.3 L769.0,207.3 L771.4,208.4 L773.9,209.7 L776.3,211.0 L778.7,212.4 L781.2,214.0 L783.6,215.6 L786.0,217.3 L788.3,219.0 L790.7,220.9 L793.0,222.8 L795.3,224.7 L797.6,226.8 L799.8,228.8 L802.1,230.9 L804.2,233.1 L806.4,235.2 L808.5,237.4 L810.5,239.6 L812.6,241.9 L814.6,244.2 L816.5,246.4 L818.4,248.7 L820.3,251.1 L822.2,253.4 L824.1,255.7 L825.9,258.1 L827.7,260.5 L829.4,262.9 L831.2,265.3 L832.9,267.7 L834.6,270.1 L836.3,272.5 L838.0,275.0 L839.7,277.4 L841.3,279.8 L842.9,282.3 L844.6,284.7 L846.2,287.2 L847.8,289.6 L849.4,292.0 L851.0,294.5 L852.6,296.9 L854.2,299.3 L855.8,301.7 L857.4,304.1 L859.1,306.5 L860.7,308.9 L862.3,311.2 L863.9,313.6 L865.6,315.9 L867.2,318.2 L868.9,320.5 L870.5,322.8 L872.2,325.1 L873.9,327.4 L875.6,329.6 L877.3,331.8 L879.0,334.1 L880.8,336.3 L882.5,338.5 L884.2,340.7 L886.0,342.8 L887.7,345.0 L889.5,347.2 L891.2,349.3 L893.0,351.5 L894.7,353.7 L896.5,355.8 L898.3,358.0 L900.0,360.1 L901.8,362.3 L903.5,364.5 L905.3,366.6 L907.1,368.8 L908.8,371.0 L910.6,373.1 L912.3,375.3 L914.1,377.5 L915.8,379.7 L917.5,381.9 L919.3,384.1 L921.0,386.3 L922.7,388.5 L924.4,390.8 L926.1,393.0 L927.8,395.3 L929.5,397.5 L931.2,399.8 L932.9,402.0 L934.6,404.3 L936.3,406.6 L938.0,408.9 L939.7,411.2 L941.3,413.5 L943.0,415.8 L944.7,418.1 L946.4,420.4 L948.0,422.7 L949.7,425.0 L951.4,427.3 L953.0,429.7 L954.7,432.0 L956.3,434.3 L958.0,436.7 L959.6,439.0 L961.3,441.4 L962.9,443.7 L964.6,446.1 L966.2,448.4 L967.9,450.8 L969.5,453.2 L971.2,455.5 L972.8,457.9 L974.5,460.3 L976.1,462.6 L977.7,465.0 L979.4,467.4 L981.0,469.8 L982.7,472.1 L984.3,474.5 L986.0,476.9 L987.6,479.3 L989.2,481.7 L990.9,484.1 L992.5,486.4 L994.2,488.8 L995.8,491.2 L997.5,493.6 L999.1,496.0 L1000.8,498.4 L1002.4,500.7 L1004.1,503.1 L1005.7,505.5 L1007.4,507.9 L1009.1,510.3 L1010.7,512.6 L1012.4,515.0 L1014.1,517.4 L1015.7,519.7 L1017.4,522.1 L1019.1,524.5 L1020.8,526.8 L1022.4,529.2 L1024.1,531.6 L1025.8,533.9 L1027.5,536.3 L1029.2,538.6 L1030.9,541.0 L1032.6,543.3 L1034.3,545.7 L1036.0,548.0 L1037.8,550.3 L1039.5,552.6 L1041.2,555.0 L1042.9,557.3 L1044.7,559.6 L1046.4,561.9 L1048.1,564.2 L1049.9,566.5 L1051.7,568.8 L1053.4,571.1 L1055.2,573.4 L1057.0,575.6 L1058.7,577.9 L1060.5,580.2 L1062.3,582.4 L1064.1,584.7 L1065.9,586.9 L1067.7,589.1 L1069.5,591.4 L1071.3,593.6 L1073.2,595.8 L1075.0,598.0 L1076.9,600.2 L1078.7,602.4 L1080.6,604.6 L1082.4,606.7 L1084.3,608.9 L1086.2,611.1 L1088.1,613.2 L1090.0,615.3 L1091.9,617.5 L1093.8,619.6 L1095.7,621.7 L1097.6,623.8 L1099.6,625.9 L1101.5,628.0 L1103.5,630.0 L1105.4,632.1 L1107.4,634.2 L1109.4,636.2 L1111.4,638.2 L1113.4,640.3 L1115.4,642.3 L1117.4,644.3 L1119.4,646.3 L1121.4,648.2 L1123.5,650.2 L1125.5,652.2 L1127.6,654.1 L1129.7,656.1 L1131.7,658.0 L1133.8,659.9 L1135.9,661.8 L1138.0,663.7 L1140.1,665.6 L1142.2,667.5 L1144.3,669.4 L1146.5,671.2 L1148.6,673.1 L1150.7,674.9 L1152.9,676.8 L1155.1,678.6 L1157.2,680.4 L1159.4,682.2 L1161.6,684.0 L1163.8,685.8 L1166.0,687.6 L1168.2,689.3 L1170.4,691.1 L1172.6,692.8 L1174.8,694.6 L1177.1,696.3 L1179.3,698.0 L1181.6,699.7 L1183.8,701.4 L1186.1,703.1 L1188.4,704.8 L1190.6,706.4 L1192.9,708.1 L1195.2,709.8 L1197.5,711.4 L1199.8,713.0 L1202.1,714.7 L1204.5,716.3 L1206.8,717.9 L1209.1,719.5 L1211.5,721.0 L1213.8,722.6 L1216.1,724.2 L1218.5,725.7 L1220.9,727.3 L1223.2,728.8 L1225.6,730.4 L1228.0,731.9 L1230.4,733.4 L1232.8,734.9 L1235.2,736.4 L1237.6,737.8 L1240.0,739.3 L1242.4,740.8 L1244.9,742.2 L1247.3,743.7 L1249.7,745.1 L1252.2,746.5 L1254.6,748.0 L1257.1,749.4 L1259.6,750.8 L1262.0,752.1 L1264.5,753.5 L1267.0,754.9 L1269.5,756.3 L1272.0,757.6 L1274.5,759.0 L1277.0,760.3 L1279.5,761.6 L1282.0,762.9 L1284.5,764.2 L1287.0,765.5 L1289.5,766.8 L1292.1,768.1 L1294.6,769.4 L1297.2,770.6 L1299.7,771.9 L1302.3,773.1 L1304.8,774.4 L1307.4,775.6 L1309.9,776.8 L1312.5,778.0 L1315.1,779.2 L1317.7,780.4 L1320.3,781.6 L1322.9,782.8 L1325.5,783.9 L1328.1,785.1 L1330.7,786.2 L1333.3,787.4 L1335.9,788.5 L1338.5,789.6 L1341.1,790.7 L1343.8,791.8 L1346.4,792.9 L1349.0,794.0 L1351.7,795.1 L1354.3,796.1 L1357.0,797.2 L1359.6,798.3 L1362.3,799.3 L1364.9,800.3 L1367.6,801.4 L1370.3,802.4 L1372.9,803.4 L1375.6,804.4 L1378.3,805.4 L1381.0,806.3 L1383.7,807.3 L1386.4,808.3 L1389.1,809.2 L1391.8,810.2 L1394.5,811.1 L1397.2,812.1 L1399.9,813.0 L1402.6,813.9 L1405.3,814.8 L1408.0,815.7 L1410.7,816.6 L1413.5,817.5 L1416.2,818.3 L1418.9,819.2 L1421.7,820.0 L1424.4,820.9 L1427.1,821.7 L1429.9,822.5 L1432.6,823.4 L1435.4,824.2 L1438.1,825.0 L1440.9,825.8 L1443.6,826.6 L1446.4,827.3 L1449.2,828.1 L1451.9,828.9 L1454.7,829.6 L1457.5,830.4 L1460.3,831.1 L1463.0,831.8 L1465.8,832.6 L1468.6,833.3 L1471.4,834.0 L1474.2,834.7 L1476.9,835.4 L1479.7,836.0 L1482.5,836.7 L1485.3,837.4 L1488.1,838.0 L1490.9,838.7 L1493.7,839.3 L1496.5,840.0 L1499.3,840.6 L1502.1,841.2 L1504.9,841.8 L1507.7,842.4 L1510.5,843.0 L1513.3,843.6 L1516.2,844.2 L1519.0,844.7 L1521.8,845.3 L1524.6,845.8 L1527.4,846.4 L1530.3,846.9 L1533.1,847.4 L1535.9,848.0 L1538.7,848.5 L1541.5,849.0 L1544.4,849.5 L1547.2,850.0 L1550.0,850.5 L1552.9,850.9 L1555.7,851.4 L1558.5,851.9 L1561.4,852.3 L1564.2,852.7 L1567.0,853.2 L1569.9,853.6 L1572.7,854.0 L1575.5,854.4 L1578.4,854.8 L1581.2,855.2 L1584.0,855.6 L1586.9,856.0 L1589.7,856.4 L1592.6,856.7 L1595.4,857.1 L1598.2,857.5 L1601.1,857.8 L1603.9,858.1 L1606.8,858.5 L1609.6,858.8 L1612.5,859.1 L1615.3,859.4 L1618.1,859.7 L1621.0,860.0 L1623.8,860.3 L1626.7,860.5 L1629.5,860.8 L1632.3,861.1 L1635.2,861.3 L1638.0,861.6 L1640.9,861.8 L1643.7,862.0 L1646.5,862.3 L1649.4,862.5 L1652.2,862.7 L1655.1,862.9 L1657.9,863.1 L1660.7,863.3 L1663.6,863.5 L1666.4,863.6 L1669.2,863.8 L1672.1,863.9 L1674.9,864.1 L1677.7,864.2 L1680.6,864.4 L1683.4,864.5 L1686.2,864.6 L1689.1,864.7 L1691.9,864.8 L1694.7,864.9 L1697.5,865.0 L1700.4,865.1 L1703.2,865.2 L1706.0,865.3 L1708.8,865.3 L1711.7,865.4 L1714.5,865.4 L1717.3,865.5 L1720.1,865.5 L1722.9,865.6 L1725.7,865.6 L1728.5,865.6 L1731.3,865.6 L1734.1,865.6 L1736.9,865.6 L1739.8,865.6" stroke="#ff00c0"/>
<path d="M519.7,837.8 L520.9,835.3 L522.0,832.8 L523.1,830.3 L524.3,827.9 L525.4,825.4 L526.6,822.9 L527.7,820.4 L528.9,817.9 L530.0,815.4 L531.2,812.9 L532.3,810.4 L533.5,807.9 L534.6,805.5 L535.8,803.0 L536.9,800.5 L538.1,798.0 L539.2,795.5 L540.4,793.0 L541.6,790.6 L542.7,788.1 L543.9,785.6 L545.0,783.1 L546.2,780.6 L547.4,778.2 L548.5,775.7 L549.7,773.2 L550.8,770.7 L552.0,768.2 L553.1,765.7 L554.3,763.3 L555.4,760.8 L556.6,758.3 L557.7,755.8 L558.9,753.3 L560.0,750.8 L561.2,748.4 L562.3,745.9 L563.4,743.4 L564.6,740.9 L565.7,738.4 L566.8,735.9 L567.9,733.4 L569.0,730.9 L570.2,728.4 L571.3,725.9 L572.4,723.4 L573.5,720.9 L574.6,718.4 L575.7,715.9 L576.7,713.4 L577.8,710.9 L578.9,708.4 L580.0,705.9 L581.0,703.4 L582.1,700.9 L583.1,698.4 L584.2,695.8 L585.2,693.3 L586.3,690.8 L587.3,688.3 L588.3,685.7 L589.3,683.2 L590.3,680.7 L591.3,678.1 L592.3,675.6 L593.3,673.0 L594.3,670.5 L595.2,668.0 L596.2,665.4 L597.1,662.8 L598.1,660.3 L599.0,657.7 L599.9,655.2 L600.9,652.6 L601.8,650.0 L602.7,647.5 L603.6,644.9 L604.5,642.3 L605.3,639.7 L606.2,637.1 L607.1,634.6 L607.9,632.0 L608.8,629.4 L609.6,626.8 L610.5,624.2 L611.3,621.6 L612.1,619.0 L613.0,616.4 L613.8,613.8 L614.6,611.2 L615.4,608.5 L616.2,605.9 L617.0,603.3 L617.8,600.7 L618.6,598.1 L619.3,595.5 L620.1,592.8 L620.9,590.2 L621.6,587.6 L622.4,585.0 L623.2,582.3 L623.9,579.7 L624.7,577.1 L625.4,574.4 L626.1,571.8 L626.9,569.1 L627.6,566.5 L628.3,563.9 L629.1,561.2 L629.8,558.6 L630.5,555.9 L631.2,553.3 L631.9,550.6 L632.6,548.0 L633.3,545.3 L634.0,542.7 L634.8,540.0 L635.5,537.4 L636.2,534.7 L636.9,532.1 L637.6,529.4 L638.2,526.7 L638.9,524.1 L639.6,521.4 L640.3,518.8 L641.0,516.1 L641.7,513.4 L642.4,510.8 L643.1,508.1 L643.8,505.4 L644.5,502.8 L645.1,500.1 L645.8,497.5 L646.5,494.8 L647.2,492.1 L647.9,489.5 L648.6,486.8 L649.3,484.1 L650.0,481.5 L650.7,478.8 L651.4,476.1 L652.0,473.5 L652.7,470.8 L653.4,468.1 L654.1,465.5 L654.8,462.8 L655.5,460.1 L656.2,457.5 L656.9,454.8 L657.7,452.2 L658.4,449.5 L659.1,446.8 L659.8,444.2 L660.5,441.5 L661.2,438.9 L662.0,436.2 L662.7,433.5 L663.4,430.9 L664.1,428.2 L664.9,425.6 L665.6,422.9 L666.4,420.3 L667.1,417.6 L667.9,414.9 L668.6,412.3 L669.4,409.6 L670.2,407.0 L670.9,404.4 L671.7,401.7 L672.5,399.1 L673.3,396.4 L674.1,393.8 L674.9,391.1 L675.7,388.5 L676.5,385.9 L677.3,383.2 L678.1,380.6 L678.9,378.0 L679.8,375.3 L680.6,372.7 L681.5,370.1 L682.3,367.4 L683.2,364.8 L684.0,362.2 L684.9,359.6 L685.8,357.0 L686.7,354.4 L687.6,351.7 L688.5,349.1 L689.4,346.5 L690.3,343.9 L691.2,341.3 L692.2,338.7 L693.1,336.1 L694.1,333.5 L695.1,331.0 L696.1,328.4 L697.1,325.8 L698.1,323.2 L699.1,320.7 L700.2,318.1 L701.2,315.5 L702.3,313.0 L703.4,310.4 L704.5,307.9 L705.6,305.4 L706.8,302.8 L707.9,300.3 L709.1,297.8 L710.3,295.3 L711.5,292.8 L712.8,290.3 L714.0,287.8 L715.3,285.3 L716.6,282.8 L717.9,280.4 L719.2,277.9 L720.6,275.4 L721.9,273.0 L723.3,270.5 L724.8,268.1 L726.2,265.7 L727.7,263.3 L729.2,260.9 L730.7,258.5 L732.2,256.1 L733.8,253.7 L735.4,251.3 L737.0,249.0 L738.6,246.6 L740.3,244.3 L742.0,241.9 L743.7,239.6 L745.5,237.3 L747.3,235.1 L749.1,232.8 L750.9,230.6 L752.8,228.5 L754.7,226.4 L756.6,224.3 L758.6,222.3 L760.6,220.4 L762.6,218.5 L764.6,216.7 L766.7,215.0 L768.8,213.4 L770.9,211.9 L773.0,210.4 L775.2,209.1 L777.4,207.8 L779.7,206.7 L781.9,205.7 L784.2,204.8 L786.6,204.0 L788.9,203.3 L791.3,202.8 L793.7,202.4 L796.1,202.0 L798.5,201.8 L801.0,201.7 L803.5,201.7 L805.9,201.8 L808.4,202.0 L811.0,202.3 L813.5,202.7 L816.0,203.2 L818.5,203.7 L821.1,204.4 L823.6,205.1 L826.1,205.9 L828.7,206.7 L831.2,207.7 L833.7,208.7 L836.2,209.8 L838.7,210.9 L841.2,212.1 L843.7,213.4 L846.2,214.7 L848.6,216.0 L851.1,217.5 L853.5,218.9 L855.9,220.4 L858.2,221.9 L860.6,223.5 L862.9,225.1 L865.2,226.8 L867.5,228.5 L869.7,230.2 L871.9,231.9 L874.1,233.7 L876.3,235.5 L878.4,237.3 L880.6,239.2 L882.7,241.1 L884.7,243.0 L886.8,244.9 L888.8,246.9 L890.9,248.8 L892.9,250.8 L894.9,252.8 L896.8,254.9 L898.8,256.9 L900.7,259.0 L902.6,261.1 L904.5,263.2 L906.4,265.3 L908.3,267.4 L910.1,269.5 L911.9,271.7 L913.8,273.8 L915.6,276.0 L917.4,278.2 L919.1,280.4 L920.9,282.5 L922.7,284.7 L924.4,286.9 L926.2,289.1 L927.9,291.3 L929.6,293.5 L931.3,295.8 L933.0,298.0 L934.7,300.2 L936.3,302.5 L938.0,304.7 L939.7,306.9 L941.3,309.2 L942.9,311.4 L944.5,313.7 L946.2,315.9 L947.8,318.2 L949.4,320.5 L951.0,322.8 L952.5,325.0 L954.1,327.3 L955.7,329.6 L957.2,331.9 L958.8,334.2 L960.3,336.5 L961.9,338.8 L963.4,341.1 L964.9,343.4 L966.4,345.7 L967.9,348.0 L969.4,350.3 L970.9,352.6 L972.4,354.9 L973.9,357.2 L975.4,359.5 L976.9,361.9 L978.4,364.2 L979.8,366.5 L981.3,368.8 L982.8,371.1 L984.2,373.5 L985.7,375.8 L987.2,378.1 L988.6,380.4 L990.1,382.8 L991.5,385.1 L993.0,387.4 L994.4,389.8 L995.8,392.1 L997.3,394.4 L998.7,396.8 L1000.2,399.1 L1001.6,401.4 L1003.0,403.7 L1004.5,406.1 L1005.9,408.4 L1007.3,410.7 L1008.8,413.0 L1010.2,415.4 L1011.7,417.7 L1013.1,420.0 L1014.5,422.3 L1016.0,424.6 L1017.4,427.0 L1018.9,429.3 L1020.3,431.6 L1021.8,433.9 L1023.2,436.2 L1024.7,438.5 L1026.1,440.8 L1027.6,443.1 L1029.1,445.4 L1030.5,447.7 L1032.0,450.0 L1033.5,452.3 L1035.0,454.6 L1036.5,456.8 L1037.9,459.1 L1039.4,461.4 L1040.9,463.6 L1042.4,465.9 L1044.0,468.2 L1045.5,470.4 L1047.0,472.7 L1048.5,474.9 L1050.1,477.2 L1051.6,479.4 L1053.2,481.6 L1054.7,483.9 L1056.3,486.1 L1057.9,488.3 L1059.4,490.5 L1061.0,492.7 L1062.6,494.9 L1064.2,497.1 L1065.8,499.3 L1067.5,501.5 L1069.1,503.7 L1070.7,505.9 L1072.4,508.0 L1074.0,510.2 L1075.7,512.3 L1077.4,514.5 L1079.1,516.6 L1080.8,518.8 L1082.5,520.9 L1084.2,523.0 L1085.9,525.1 L1087.6,527.3 L1089.3,529.4 L1091.1,531.5 L1092.8,533.6 L1094.6,535.7 L1096.3,537.8 L1098.1,539.8 L1099.9,541.9 L1101.7,544.0 L1103.4,546.1 L1105.2,548.1 L1107.0,550.2 L1108.9,552.3 L1110.7,554.3 L1112.5,556.3 L1114.3,558.4 L1116.2,560.4 L1118.0,562.5 L1119.9,564.5 L1121.7,566.5 L1123.6,568.5 L1125.4,570.5 L1127.3,572.5 L1129.2,574.6 L1131.1,576.6 L1133.0,578.5 L1134.9,580.5 L1136.8,582.5 L1138.7,584.5 L1140.6,586.5 L1142.5,588.5 L1144.4,590.4 L1146.4,592.4 L1148.3,594.4 L1150.2,596.3 L1152.2,598.3 L1154.1,600.2 L1156.1,602.2 L1158.0,604.1 L1160.0,606.1 L1162.0,608.0 L1163.9,610.0 L1165.9,611.9 L1167.9,613.8 L1169.9,615.7 L1171.8,617.7 L1173.8,619.6 L1175.8,621.5 L1177.8,623.4 L1179.8,625.3 L1181.8,627.2 L1183.8,629.1 L1185.9,631.0 L1187.9,632.9 L1189.9,634.8 L1191.9,636.7 L1193.9,638.6 L1196.0,640.5 L1198.0,642.4 L1200.0,644.3 L1202.1,646.2 L1204.1,648.0 L1206.1,649.9 L1208.2,651.8 L1210.2,653.6 L1212.3,655.5 L1214.3,657.4 L1216.4,659.2 L1218.4,661.1 L1220.5,662.9 L1222.6,664.8 L1224.6,666.6 L1226.7,668.5 L1228.8,670.3 L1230.9,672.1 L1232.9,674.0 L1235.0,675.8 L1237.1,677.6 L1239.2,679.4 L1241.3,681.2 L1243.4,683.0 L1245.5,684.8 L1247.6,686.6 L1249.7,688.4 L1251.8,690.2 L1253.9,692.0 L1256.0,693.8 L1258.2,695.5 L1260.3,697.3 L1262.4,699.1 L1264.5,700.8 L1266.7,702.6 L1268.8,704.3 L1271.0,706.1 L1273.1,707.8 L1275.3,709.5 L1277.4,711.2 L1279.6,713.0 L1281.7,714.7 L1283.9,716.4 L1286.1,718.1 L1288.2,719.7 L1290.4,721.4 L1292.6,723.1 L1294.8,724.8 L1297.0,726.4 L1299.2,728.1 L1301.4,729.7 L1303.6,731.4 L1305.8,733.0 L1308.0,734.6 L1310.2,736.2 L1312.4,737.9 L1314.7,739.5 L1316.9,741.0 L1319.1,742.6 L1321.4,744.2 L1323.6,745.8 L1325.9,747.3 L1328.1,748.9 L1330.4,750.4 L1332.6,752.0 L1334.9,753.5 L1337.2,755.0 L1339.4,756.5 L1341.7,758.0 L1344.0,759.5 L1346.3,761.0 L1348.6,762.5 L1350.9,763.9 L1353.2,765.4 L1355.5,766.8 L1357.8,768.3 L1360.1,769.7 L1362.5,771.1 L1364.8,772.5 L1367.1,773.9 L1369.5,775.3 L1371.8,776.6 L1374.2,778.0 L1376.5,779.4 L1378.9,780.7 L1381.3,782.0 L1383.6,783.4 L1386.0,784.7 L1388.4,786.0 L1390.8,787.3 L1393.2,788.5 L1395.6,789.8 L1398.0,791.1 L1400.4,792.3 L1402.8,793.5 L1405.2,794.7 L1407.7,796.0 L1410.1,797.1 L1412.5,798.3 L1415.0,799.5 L1417.4,800.7 L1419.9,801.8 L1422.4,802.9 L1424.8,804.1 L1427.3,805.2 L1429.8,806.3 L1432.3,807.4 L1434.8,808.4 L1437.3,809.5 L1439.8,810.5 L1442.3,811.6 L1444.8,812.6 L1447.3,813.6 L1449.9,814.6 L1452.4,815.6 L1454.9,816.5 L1457.5,817.5 L1460.0,818.4 L1462.6,819.4 L1465.2,820.3 L1467.7,821.2 L1470.3,822.0 L1472.9,822.9 L1475.5,823.8 L1478.1,824.6 L1480.7,825.4 L1483.3,826.2 L1485.9,827.0 L1488.6,827.8 L1491.2,828.6 L1493.9,829.3 L1496.5,830.1 L1499.2,830.8 L1501.8,831.5 L1504.5,832.2 L1507.2,832.8 L1509.8,833.5 L1512.5,834.2 L1515.2,834.8 L1517.9,835.4 L1520.6,836.0 L1523.3,836.6 L1526.1,837.2 L1528.8,837.7 L1531.5,838.3 L1534.2,838.8 L1537.0,839.4 L1539.7,839.9 L1542.4,840.4 L1545.2,840.9 L1547.9,841.4 L1550.7,841.8 L1553.5,842.3 L1556.2,842.7 L1559.0,843.2 L1561.8,843.6 L1564.5,844.0 L1567.3,844.5 L1570.1,844.9 L1572.8,845.3 L1575.6,845.6 L1578.4,846.0 L1581.2,846.4 L1584.0,846.8 L1586.8,847.1 L1589.5,847.5 L1592.3,847.8 L1595.1,848.1 L1597.9,848.5 L1600.7,848.8 L1603.5,849.1 L1606.3,849.4 L1609.1,849.7 L1611.9,850.0 L1614.7,850.3 L1617.4,850.6 L1620.2,850.9 L1623.0,851.2 L1625.8,851.5 L1628.6,851.8 L1631.4,852.0 L1634.1,852.3 L1636.9,852.6 L1639.7,852.8 L1642.5,853.1 L1645.2,853.4 L1648.0,853.6 L1650.8,853.9 L1653.5,854.1 L1656.3,854.4 L1659.1,854.6 L1661.8,854.9 L1664.6,855.1 L1667.3,855.4 L1670.1,855.7 L1672.8,855.9 L1675.5,856.2 L1678.3,856.4 L1681.0,856.7 L1683.7,856.9 L1686.4,857.2 L1689.1,857.5 L1691.8,857.7 L1694.5,858.0 L1697.2,858.3 L1699.9,858.5 L1702.6,858.8 L1705.3,859.1 L1707.9,859.4 L1710.6,859.7 L1713.2,860.0 L1715.9,860.3 L1718.5,860.6 L1721.2,860.9 L1723.8,861.2 L1726.4,861.5 L1729.0,861.8 L1731.6,862.2 L1734.2,862.5 L1736.8,862.8 L1739.4,863.2" stroke="#ffeb00"/>
<path d="M564.3,820.7 L565.7,818.4 L567.1,816.2 L568.4,813.9 L569.8,811.6 L571.1,809.3 L572.5,807.0 L573.8,804.7 L575.2,802.4 L576.5,800.1 L577.8,797.8 L579.1,795.5 L580.4,793.1 L581.7,790.8 L582.9,788.5 L584.2,786.2 L585.5,783.8 L586.7,781.5 L588.0,779.2 L589.2,776.8 L590.4,774.5 L591.7,772.1 L592.9,769.8 L594.1,767.4 L595.3,765.1 L596.5,762.7 L597.7,760.4 L598.9,758.0 L600.0,755.6 L601.2,753.3 L602.4,750.9 L603.5,748.5 L604.6,746.2 L605.8,743.8 L606.9,741.4 L608.0,739.0 L609.2,736.6 L610.3,734.2 L611.4,731.8 L612.5,729.4 L613.6,727.0 L614.7,724.6 L615.7,722.2 L616.8,719.8 L617.9,717.4 L619.0,715.0 L620.0,712.6 L621.1,710.2 L622.1,707.8 L623.2,705.3 L624.2,702.9 L625.2,700.5 L626.2,698.1 L627.3,695.6 L628.3,693.2 L629.3,690.8 L630.3,688.3 L631.3,685.9 L632.3,683.5 L633.3,681.0 L634.3,678.6 L635.2,676.1 L636.2,673.7 L637.2,671.2 L638.2,668.8 L639.1,666.3 L640.1,663.9 L641.0,661.4 L642.0,659.0 L642.9,656.5 L643.9,654.0 L644.8,651.6 L645.7,649.1 L646.7,646.6 L647.6,644.2 L648.5,641.7 L649.4,639.2 L650.3,636.8 L651.2,634.3 L652.2,631.8 L653.1,629.3 L654.0,626.9 L654.9,624.4 L655.7,621.9 L656.6,619.4 L657.5,616.9 L658.4,614.5 L659.3,612.0 L660.2,609.5 L661.0,607.0 L661.9,604.5 L662.8,602.0 L663.7,599.5 L664.5,597.0 L665.4,594.5 L666.3,592.0 L667.1,589.5 L668.0,587.0 L668.8,584.5 L669.7,582.0 L670.5,579.5 L671.4,577.0 L672.2,574.5 L673.1,572.0 L673.9,569.5 L674.8,567.0 L675.6,564.5 L676.4,562.0 L677.3,559.5 L678.1,557.0 L678.9,554.5 L679.8,552.0 L680.6,549.5 L681.4,547.0 L682.3,544.5 L683.1,542.0 L683.9,539.5 L684.8,537.0 L685.6,534.4 L686.4,531.9 L687.2,529.4 L688.1,526.9 L688.9,524.4 L689.7,521.9 L690.5,519.4 L691.4,516.9 L692.2,514.4 L693.0,511.9 L693.8,509.3 L694.7,506.8 L695.5,504.3 L696.3,501.8 L697.1,499.3 L698.0,496.8 L698.8,494.3 L699.6,491.8 L700.4,489.3 L701.3,486.7 L702.1,484.2 L702.9,481.7 L703.8,479.2 L704.6,476.7 L705.4,474.2 L706.2,471.7 L707.1,469.2 L707.9,466.7 L708.8,464.2 L709.6,461.7 L710.4,459.1 L711.3,456.6 L712.1,454.1 L713.0,451.6 L713.8,449.1 L714.6,446.6 L715.5,444.1 L716.3,441.6 L717.2,439.1 L718.1,436.6 L718.9,434.1 L719.8,431.6 L720.6,429.1 L721.5,426.6 L722.4,424.1 L723.2,421.6 L724.1,419.1 L725.0,416.6 L725.9,414.2 L726.7,411.7 L727.6,409.2 L728.5,406.7 L729.4,404.2 L730.3,401.7 L731.2,399.2 L732.1,396.7 L733.0,394.3 L733.9,391.8 L734.8,389.3 L735.7,386.8 L736.6,384.3 L737.5,381.9 L738.4,379.4 L739.4,376.9 L740.3,374.4 L741.2,372.0 L742.2,369.5 L743.1,367.0 L744.1,364.6 L745.0,362.1 L746.0,359.6 L746.9,357.2 L747.9,354.7 L748.8,352.3 L749.8,349.8 L750.8,347.4 L751.8,344.9 L752.8,342.5 L753.8,340.0 L754.8,337.6 L755.8,335.1 L756.9,332.7 L757.9,330.3 L758.9,327.8 L760.0,325.4 L761.1,323.0 L762.2,320.6 L763.2,318.1 L764.3,315.7 L765.5,313.3 L766.6,310.9 L767.7,308.5 L768.9,306.1 L770.0,303.7 L771.2,301.3 L772.4,298.9 L773.6,296.5 L774.8,294.2 L776.0,291.8 L777.3,289.4 L778.5,287.0 L779.8,284.7 L781.1,282.3 L782.4,280.0 L783.7,277.6 L785.1,275.3 L786.5,273.0 L787.8,270.6 L789.2,268.3 L790.6,266.0 L792.1,263.7 L793.5,261.3 L795.0,259.0 L796.5,256.7 L798.0,254.4 L799.5,252.2 L801.1,249.9 L802.7,247.6 L804.3,245.3 L805.9,243.1 L807.5,240.8 L809.2,238.6 L810.9,236.4 L812.6,234.2 L814.4,232.0 L816.1,229.9 L817.9,227.8 L819.7,225.8 L821.6,223.8 L823.4,221.8 L825.3,220.0 L827.2,218.2 L829.2,216.4 L831.2,214.7 L833.2,213.1 L835.2,211.6 L837.2,210.2 L839.3,208.9 L841.4,207.6 L843.6,206.5 L845.8,205.5 L848.0,204.6 L850.2,203.8 L852.5,203.1 L854.8,202.5 L857.1,202.1 L859.4,201.7 L861.8,201.5 L864.2,201.3 L866.6,201.3 L869.0,201.4 L871.5,201.5 L873.9,201.8 L876.4,202.1 L878.9,202.5 L881.3,203.0 L883.8,203.6 L886.3,204.3 L888.8,205.1 L891.3,205.9 L893.8,206.8 L896.3,207.8 L898.8,208.8 L901.2,209.9 L903.7,211.1 L906.1,212.3 L908.6,213.5 L911.0,214.9 L913.4,216.2 L915.7,217.7 L918.1,219.1 L920.4,220.7 L922.7,222.2 L925.0,223.8 L927.3,225.4 L929.5,227.1 L931.7,228.8 L933.8,230.5 L936.0,232.2 L938.0,234.0 L940.1,235.8 L942.1,237.6 L944.1,239.4 L946.1,241.3 L948.0,243.2 L949.9,245.1 L951.8,247.0 L953.7,248.9 L955.5,250.9 L957.3,252.8 L959.1,254.8 L960.8,256.8 L962.6,258.9 L964.3,260.9 L966.0,263.0 L967.7,265.0 L969.4,267.1 L971.0,269.2 L972.7,271.3 L974.3,273.4 L975.9,275.5 L977.5,277.7 L979.1,279.8 L980.7,282.0 L982.2,284.1 L983.8,286.3 L985.3,288.4 L986.9,290.6 L988.4,292.8 L990.0,295.0 L991.5,297.1 L993.0,299.3 L994.5,301.5 L996.1,303.7 L997.6,305.9 L999.1,308.0 L1000.6,310.2 L1002.2,312.4 L1003.7,314.6 L1005.2,316.8 L1006.8,318.9 L1008.3,321.1 L1009.8,323.3 L1011.4,325.4 L1012.9,327.6 L1014.4,329.8 L1016.0,331.9 L1017.5,334.1 L1019.0,336.3 L1020.6,338.4 L1022.1,340.6 L1023.7,342.8 L1025.2,344.9 L1026.7,347.1 L1028.3,349.2 L1029.8,351.4 L1031.4,353.5 L1032.9,355.7 L1034.5,357.9 L1036.0,360.0 L1037.6,362.2 L1039.1,364.3 L1040.6,366.4 L1042.2,368.6 L1043.8,370.7 L1045.3,372.9 L1046.9,375.0 L1048.4,377.2 L1050.0,379.3 L1051.5,381.4 L1053.1,383.6 L1054.7,385.7 L1056.2,387.8 L1057.8,390.0 L1059.3,392.1 L1060.9,394.2 L1062.5,396.4 L1064.0,398.5 L1065.6,400.6 L1067.2,402.7 L1068.7,404.9 L1070.3,407.0 L1071.9,409.1 L1073.5,411.2 L1075.0,413.3 L1076.6,415.5 L1078.2,417.6 L1079.8,419.7 L1081.4,421.8 L1082.9,423.9 L1084.5,426.0 L1086.1,428.1 L1087.7,430.2 L1089.3,432.3 L1090.9,434.5 L1092.5,436.6 L1094.1,438.7 L1095.7,440.8 L1097.3,442.9 L1098.9,445.0 L1100.5,447.0 L1102.1,449.1 L1103.7,451.2 L1105.3,453.3 L1106.9,455.4 L1108.5,457.5 L1110.1,459.6 L1111.7,461.7 L1113.3,463.8 L1114.9,465.8 L1116.5,467.9 L1118.1,470.0 L1119.8,472.1 L1121.4,474.2 L1123.0,476.2 L1124.6,478.3 L1126.3,480.4 L1127.9,482.5 L1129.5,484.5 L1131.1,486.6 L1132.8,488.7 L1134.4,490.7 L1136.0,492.8 L1137.7,494.9 L1139.3,496.9 L1141.0,499.0 L1142.6,501.0 L1144.2,503.1 L1145.9,505.1 L1147.5,507.2 L1149.2,509.2 L1150.8,511.3 L1152.5,513.3 L1154.2,515.4 L1155.8,517.4 L1157.5,519.5 L1159.1,521.5 L1160.8,523.6 L1162.5,525.6 L1164.1,527.6 L1165.8,529.7 L1167.5,531.7 L1169.1,533.7 L1170.8,535.8 L1172.5,537.8 L1174.2,539.8 L1175.9,541.9 L1177.5,543.9 L1179.2,545.9 L1180.9,547.9 L1182.6,550.0 L1184.3,552.0 L1186.0,554.0 L1187.7,556.0 L1189.4,558.0 L1191.1,560.0 L1192.8,562.0 L1194.5,564.1 L1196.2,566.1 L1197.9,568.1 L1199.6,570.1 L1201.3,572.1 L1203.1,574.1 L1204.8,576.1 L1206.5,578.1 L1208.2,580.1 L1209.9,582.1 L1211.7,584.1 L1213.4,586.0 L1215.1,588.0 L1216.9,590.0 L1218.6,592.0 L1220.4,594.0 L1222.1,596.0 L1223.8,598.0 L1225.6,599.9 L1227.3,601.9 L1229.1,603.9 L1230.8,605.9 L1232.6,607.8 L1234.4,609.8 L1236.1,611.8 L1237.9,613.7 L1239.7,615.7 L1241.4,617.7 L1243.2,619.6 L1245.0,621.6 L1246.8,623.5 L1248.5,625.5 L1250.3,627.5 L1252.1,629.4 L1253.9,631.4 L1255.7,633.3 L1257.5,635.3 L1259.3,637.2 L1261.1,639.2 L1262.9,641.1 L1264.7,643.0 L1266.5,645.0 L1268.3,646.9 L1270.1,648.9 L1271.9,650.8 L1273.7,652.7 L1275.6,654.6 L1277.4,656.6 L1279.2,658.5 L1281.0,660.4 L1282.9,662.3 L1284.7,664.3 L1286.5,666.2 L1288.4,668.1 L1290.2,670.0 L1292.1,671.9 L1293.9,673.8 L1295.8,675.8 L1297.6,677.7 L1299.5,679.6 L1301.3,681.5 L1303.2,683.4 L1305.1,685.3 L1306.9,687.2 L1308.8,689.1 L1310.7,691.0 L1312.6,692.9 L1314.5,694.7 L1316.3,696.6 L1318.2,698.5 L1320.1,700.4 L1322.0,702.2 L1323.9,704.1 L1325.8,706.0 L1327.8,707.8 L1329.7,709.7 L1331.6,711.5 L1333.5,713.3 L1335.4,715.2 L1337.4,717.0 L1339.3,718.8 L1341.3,720.6 L1343.2,722.4 L1345.2,724.2 L1347.1,726.0 L1349.1,727.8 L1351.1,729.6 L1353.1,731.3 L1355.0,733.1 L1357.0,734.8 L1359.0,736.6 L1361.0,738.3 L1363.0,740.0 L1365.1,741.7 L1367.1,743.4 L1369.1,745.1 L1371.1,746.8 L1373.2,748.4 L1375.2,750.1 L1377.3,751.7 L1379.3,753.4 L1381.4,755.0 L1383.5,756.6 L1385.6,758.2 L1387.7,759.8 L1389.8,761.4 L1391.9,762.9 L1394.0,764.5 L1396.1,766.0 L1398.2,767.5 L1400.4,769.0 L1402.5,770.5 L1404.7,772.0 L1406.8,773.4 L1409.0,774.9 L1411.2,776.3 L1413.3,777.7 L1415.5,779.1 L1417.7,780.5 L1420.0,781.8 L1422.2,783.2 L1424.4,784.5 L1426.7,785.8 L1428.9,787.1 L1431.2,788.4 L1433.4,789.7 L1435.7,790.9 L1438.0,792.1 L1440.3,793.3 L1442.6,794.5 L1444.9,795.7 L1447.3,796.8 L1449.6,798.0 L1451.9,799.1 L1454.3,800.2 L1456.7,801.2 L1459.0,802.3 L1461.4,803.3 L1463.8,804.3 L1466.3,805.3 L1468.7,806.3 L1471.1,807.2 L1473.6,808.1 L1476.0,809.0 L1478.5,809.9 L1481.0,810.8 L1483.5,811.6 L1486.0,812.4 L1488.5,813.2 L1491.0,813.9 L1493.5,814.7 L1496.1,815.4 L1498.7,816.1 L1501.2,816.7 L1503.8,817.4 L1506.4,818.0 L1509.0,818.6 L1511.7,819.2 L1514.3,819.7 L1516.9,820.3 L1519.6,820.8 L1522.2,821.3 L1524.9,821.8 L1527.6,822.3 L1530.2,822.7 L1532.9,823.2 L1535.6,823.6 L1538.3,824.1 L1541.0,824.5 L1543.7,824.9 L1546.4,825.3 L1549.1,825.7 L1551.8,826.1 L1554.5,826.5 L1557.2,826.9 L1559.9,827.3 L1562.6,827.7 L1565.3,828.1 L1568.0,828.5 L1570.7,828.9 L1573.4,829.3 L1576.1,829.7 L1578.8,830.1 L1581.5,830.5 L1584.1,830.9 L1586.8,831.4 L1589.5,831.8 L1592.2,832.3 L1594.8,832.7 L1597.5,833.2 L1600.1,833.7 L1602.7,834.2 L1605.4,834.8 L1608.0,835.3 L1610.6,835.9 L1613.2,836.4 L1615.8,837.0 L1618.4,837.6 L1620.9,838.2 L1623.5,838.8 L1626.1,839.4 L1628.6,840.0 L1631.2,840.6 L1633.8,841.2 L1636.3,841.8 L1638.9,842.5 L1641.4,843.1 L1644.0,843.7 L1646.5,844.3 L1649.0,844.9 L1651.6,845.6 L1654.1,846.2 L1656.6,846.8 L1659.2,847.3 L1661.7,847.9 L1664.3,848.5 L1666.8,849.1 L1669.3,849.6 L1671.9,850.1 L1674.4,850.7 L1677.0,851.2 L1679.5,851.7 L1682.1,852.1 L1684.6,852.6 L1687.2,853.0 L1689.8,853.4 L1692.4,853.8 L1694.9,854.2 L1697.5,854.6 L1700.1,854.9 L1702.7,855.2 L1705.3,855.4 L1707.9,855.7 L1710.6,855.9 L1713.2,856.1 L1715.8,856.2 L1718.5,856.3 L1721.1,856.4 L1723.8,856.5 L1726.5,856.5 L1729.2,856.5 L1731.9,856.4 L1734.6,856.3 L1737.3,856.2 L1740.1,856.0" stroke="#807000"/>
<path d="M611.5,825.9 L613.0,823.7 L614.4,821.5 L615.8,819.3 L617.3,817.1 L618.7,814.9 L620.1,812.7 L621.5,810.5 L622.9,808.3 L624.3,806.1 L625.6,803.9 L627.0,801.6 L628.3,799.4 L629.7,797.2 L631.0,795.0 L632.3,792.7 L633.6,790.5 L634.9,788.2 L636.2,786.0 L637.5,783.7 L638.8,781.5 L640.1,779.2 L641.4,777.0 L642.6,774.7 L643.9,772.5 L645.1,770.2 L646.3,767.9 L647.6,765.6 L648.8,763.4 L650.0,761.1 L651.2,758.8 L652.4,756.5 L653.6,754.2 L654.7,751.9 L655.9,749.6 L657.1,747.4 L658.2,745.1 L659.4,742.8 L660.5,740.4 L661.6,738.1 L662.8,735.8 L663.9,733.5 L665.0,731.2 L666.1,728.9 L667.2,726.6 L668.3,724.2 L669.4,721.9 L670.5,719.6 L671.5,717.3 L672.6,714.9 L673.7,712.6 L674.7,710.3 L675.8,707.9 L676.8,705.6 L677.8,703.2 L678.9,700.9 L679.9,698.5 L680.9,696.2 L681.9,693.8 L682.9,691.5 L683.9,689.1 L684.9,686.8 L685.9,684.4 L686.9,682.0 L687.9,679.7 L688.9,677.3 L689.8,674.9 L690.8,672.5 L691.7,670.2 L692.7,667.8 L693.6,665.4 L694.6,663.0 L695.5,660.6 L696.5,658.3 L697.4,655.9 L698.3,653.5 L699.2,651.1 L700.1,648.7 L701.0,646.3 L702.0,643.9 L702.9,641.5 L703.8,639.1 L704.6,636.7 L705.5,634.3 L706.4,631.9 L707.3,629.5 L708.2,627.1 L709.0,624.7 L709.9,622.3 L710.8,619.8 L711.6,617.4 L712.5,615.0 L713.4,612.6 L714.2,610.2 L715.1,607.7 L715.9,605.3 L716.7,602.9 L717.6,600.5 L718.4,598.0 L719.3,595.6 L720.1,593.2 L720.9,590.8 L721.7,588.3 L722.6,585.9 L723.4,583.5 L724.2,581.0 L725.0,578.6 L725.8,576.1 L726.6,573.7 L727.4,571.3 L728.2,568.8 L729.0,566.4 L729.8,563.9 L730.6,561.5 L731.4,559.0 L732.2,556.6 L733.0,554.1 L733.8,551.7 L734.6,549.2 L735.4,546.8 L736.2,544.3 L737.0,541.9 L737.7,539.4 L738.5,537.0 L739.3,534.5 L740.1,532.1 L740.9,529.6 L741.6,527.1 L742.4,524.7 L743.2,522.2 L744.0,519.8 L744.7,517.3 L745.5,514.8 L746.3,512.4 L747.1,509.9 L747.8,507.4 L748.6,505.0 L749.4,502.5 L750.1,500.0 L750.9,497.6 L751.7,495.1 L752.5,492.6 L753.2,490.2 L754.0,487.7 L754.8,485.2 L755.5,482.8 L756.3,480.3 L757.1,477.8 L757.8,475.4 L758.6,472.9 L759.4,470.4 L760.2,467.9 L760.9,465.5 L761.7,463.0 L762.5,460.5 L763.3,458.1 L764.0,455.6 L764.8,453.1 L765.6,450.6 L766.4,448.2 L767.2,445.7 L767.9,443.2 L768.7,440.8 L769.5,438.3 L770.3,435.8 L771.1,433.3 L771.9,430.9 L772.7,428.4 L773.5,425.9 L774.3,423.4 L775.1,421.0 L775.9,418.5 L776.7,416.0 L777.5,413.6 L778.3,411.1 L779.1,408.6 L779.9,406.1 L780.7,403.7 L781.5,401.2 L782.3,398.7 L783.2,396.3 L784.0,393.8 L784.8,391.3 L785.6,388.9 L786.5,386.4 L787.3,383.9 L788.1,381.5 L789.0,379.0 L789.8,376.5 L790.7,374.1 L791.5,371.6 L792.4,369.1 L793.2,366.7 L794.1,364.2 L795.0,361.7 L795.8,359.3 L796.7,356.8 L797.6,354.4 L798.5,351.9 L799.4,349.5 L800.2,347.0 L801.2,344.6 L802.1,342.1 L803.0,339.7 L803.9,337.2 L804.9,334.8 L805.8,332.3 L806.8,329.9 L807.7,327.5 L808.7,325.1 L809.7,322.6 L810.7,320.2 L811.7,317.8 L812.7,315.4 L813.8,313.0 L814.8,310.6 L815.9,308.2 L817.0,305.8 L818.1,303.4 L819.2,301.0 L820.3,298.7 L821.5,296.3 L822.6,294.0 L823.8,291.6 L825.0,289.3 L826.3,286.9 L827.5,284.6 L828.7,282.3 L830.0,280.0 L831.3,277.7 L832.6,275.4 L834.0,273.1 L835.3,270.8 L836.7,268.5 L838.1,266.3 L839.6,264.0 L841.0,261.8 L842.5,259.5 L844.0,257.3 L845.5,255.1 L847.1,252.9 L848.7,250.7 L850.3,248.5 L851.9,246.3 L853.6,244.2 L855.3,242.0 L857.0,239.9 L858.8,237.8 L860.5,235.7 L862.3,233.6 L864.1,231.6 L866.0,229.6 L867.9,227.6 L869.7,225.7 L871.7,223.9 L873.6,222.1 L875.5,220.3 L877.5,218.6 L879.5,217.0 L881.5,215.4 L883.5,214.0 L885.6,212.6 L887.6,211.2 L889.7,210.0 L891.8,208.8 L893.9,207.8 L896.0,206.8 L898.1,205.9 L900.3,205.2 L902.4,204.5 L904.6,204.0 L906.8,203.6 L908.9,203.3 L911.1,203.1 L913.3,203.0 L915.5,203.0 L917.7,203.1 L919.9,203.3 L922.1,203.6 L924.4,204.0 L926.6,204.5 L928.8,205.1 L931.0,205.7 L933.3,206.4 L935.5,207.2 L937.7,208.1 L939.9,209.0 L942.2,210.1 L944.4,211.1 L946.6,212.2 L948.8,213.4 L951.0,214.6 L953.2,215.9 L955.4,217.2 L957.6,218.6 L959.8,220.0 L961.9,221.4 L964.1,222.9 L966.2,224.4 L968.4,226.0 L970.5,227.5 L972.6,229.1 L974.7,230.7 L976.8,232.3 L978.9,233.9 L980.9,235.5 L983.0,237.2 L985.0,238.8 L987.0,240.5 L989.0,242.1 L991.0,243.8 L993.0,245.5 L995.0,247.3 L996.9,249.0 L998.8,250.7 L1000.8,252.5 L1002.7,254.2 L1004.6,256.0 L1006.5,257.8 L1008.4,259.6 L1010.3,261.4 L1012.1,263.2 L1014.0,265.0 L1015.8,266.9 L1017.6,268.7 L1019.5,270.6 L1021.3,272.4 L1023.1,274.3 L1024.9,276.2 L1026.6,278.1 L1028.4,280.0 L1030.2,281.9 L1031.9,283.8 L1033.7,285.7 L1035.4,287.6 L1037.1,289.6 L1038.8,291.5 L1040.5,293.5 L1042.2,295.5 L1043.9,297.4 L1045.6,299.4 L1047.3,301.4 L1048.9,303.4 L1050.6,305.4 L1052.3,307.4 L1053.9,309.4 L1055.5,311.4 L1057.2,313.5 L1058.8,315.5 L1060.4,317.5 L1062.0,319.6 L1063.6,321.6 L1065.2,323.7 L1066.8,325.7 L1068.4,327.8 L1070.0,329.9 L1071.6,332.0 L1073.1,334.0 L1074.7,336.1 L1076.3,338.2 L1077.8,340.3 L1079.4,342.4 L1080.9,344.5 L1082.5,346.6 L1084.0,348.7 L1085.6,350.8 L1087.1,352.9 L1088.6,355.0 L1090.1,357.2 L1091.7,359.3 L1093.2,361.4 L1094.7,363.5 L1096.2,365.7 L1097.7,367.8 L1099.2,369.9 L1100.7,372.0 L1102.3,374.2 L1103.8,376.3 L1105.3,378.4 L1106.8,380.6 L1108.3,382.7 L1109.8,384.9 L1111.2,387.0 L1112.7,389.1 L1114.2,391.3 L1115.7,393.4 L1117.2,395.6 L1118.7,397.7 L1120.2,399.8 L1121.7,402.0 L1123.2,404.1 L1124.7,406.2 L1126.2,408.4 L1127.7,410.5 L1129.2,412.6 L1130.7,414.8 L1132.2,416.9 L1133.7,419.0 L1135.2,421.1 L1136.7,423.3 L1138.2,425.4 L1139.7,427.5 L1141.2,429.6 L1142.7,431.7 L1144.2,433.8 L1145.7,435.9 L1147.3,438.0 L1148.8,440.1 L1150.3,442.2 L1151.8,444.3 L1153.4,446.4 L1154.9,448.5 L1156.4,450.5 L1158.0,452.6 L1159.5,454.7 L1161.1,456.8 L1162.6,458.8 L1164.2,460.9 L1165.7,462.9 L1167.3,465.0 L1168.8,467.0 L1170.4,469.1 L1172.0,471.1 L1173.5,473.2 L1175.1,475.2 L1176.7,477.3 L1178.3,479.3 L1179.8,481.3 L1181.4,483.3 L1183.0,485.4 L1184.6,487.4 L1186.2,489.4 L1187.8,491.4 L1189.4,493.5 L1190.9,495.5 L1192.5,497.5 L1194.1,499.5 L1195.7,501.5 L1197.3,503.5 L1199.0,505.5 L1200.6,507.5 L1202.2,509.5 L1203.8,511.5 L1205.4,513.5 L1207.0,515.5 L1208.6,517.5 L1210.2,519.5 L1211.9,521.5 L1213.5,523.5 L1215.1,525.5 L1216.7,527.4 L1218.4,529.4 L1220.0,531.4 L1221.6,533.4 L1223.2,535.4 L1224.9,537.4 L1226.5,539.3 L1228.2,541.3 L1229.8,543.3 L1231.4,545.3 L1233.1,547.2 L1234.7,549.2 L1236.3,551.2 L1238.0,553.2 L1239.6,555.2 L1241.3,557.1 L1242.9,559.1 L1244.6,561.1 L1246.2,563.0 L1247.9,565.0 L1249.5,567.0 L1251.2,569.0 L1252.8,570.9 L1254.5,572.9 L1256.1,574.9 L1257.8,576.9 L1259.5,578.8 L1261.1,580.8 L1262.8,582.8 L1264.4,584.8 L1266.1,586.7 L1267.7,588.7 L1269.4,590.7 L1271.1,592.7 L1272.7,594.6 L1274.4,596.6 L1276.0,598.6 L1277.7,600.6 L1279.4,602.6 L1281.0,604.5 L1282.7,606.5 L1284.4,608.5 L1286.0,610.5 L1287.7,612.5 L1289.3,614.5 L1291.0,616.5 L1292.7,618.4 L1294.3,620.4 L1296.0,622.4 L1297.7,624.4 L1299.3,626.4 L1301.0,628.4 L1302.6,630.4 L1304.3,632.4 L1306.0,634.4 L1307.6,636.4 L1309.3,638.4 L1311.0,640.4 L1312.6,642.4 L1314.3,644.4 L1316.0,646.4 L1317.6,648.4 L1319.3,650.4 L1321.0,652.4 L1322.7,654.4 L1324.3,656.4 L1326.0,658.4 L1327.7,660.4 L1329.4,662.4 L1331.1,664.4 L1332.8,666.4 L1334.4,668.4 L1336.1,670.3 L1337.8,672.3 L1339.5,674.3 L1341.2,676.3 L1343.0,678.2 L1344.7,680.2 L1346.4,682.1 L1348.1,684.1 L1349.8,686.0 L1351.5,688.0 L1353.3,689.9 L1355.0,691.8 L1356.8,693.7 L1358.5,695.7 L1360.3,697.6 L1362.0,699.5 L1363.8,701.4 L1365.5,703.3 L1367.3,705.1 L1369.1,707.0 L1370.9,708.9 L1372.7,710.7 L1374.5,712.6 L1376.3,714.4 L1378.1,716.3 L1379.9,718.1 L1381.7,719.9 L1383.5,721.7 L1385.4,723.5 L1387.2,725.3 L1389.1,727.0 L1390.9,728.8 L1392.8,730.6 L1394.6,732.3 L1396.5,734.0 L1398.4,735.7 L1400.3,737.5 L1402.2,739.2 L1404.1,740.8 L1406.0,742.5 L1408.0,744.2 L1409.9,745.8 L1411.8,747.4 L1413.8,749.1 L1415.8,750.7 L1417.7,752.3 L1419.7,753.9 L1421.7,755.4 L1423.7,757.0 L1425.7,758.5 L1427.8,760.0 L1429.8,761.5 L1431.8,763.0 L1433.9,764.5 L1435.9,766.0 L1438.0,767.4 L1440.1,768.8 L1442.2,770.3 L1444.3,771.7 L1446.4,773.0 L1448.6,774.4 L1450.7,775.7 L1452.9,777.1 L1455.0,778.4 L1457.2,779.7 L1459.4,780.9 L1461.6,782.2 L1463.8,783.4 L1466.0,784.7 L1468.3,785.9 L1470.5,787.0 L1472.8,788.2 L1475.1,789.3 L1477.4,790.5 L1479.7,791.6 L1482.0,792.6 L1484.3,793.7 L1486.7,794.7 L1489.0,795.7 L1491.4,796.7 L1493.8,797.7 L1496.2,798.7 L1498.6,799.6 L1501.1,800.5 L1503.5,801.4 L1506.0,802.3 L1508.4,803.1 L1510.9,803.9 L1513.4,804.7 L1515.9,805.5 L1518.4,806.3 L1521.0,807.1 L1523.5,807.8 L1526.0,808.5 L1528.6,809.3 L1531.2,810.0 L1533.7,810.6 L1536.3,811.3 L1538.9,812.0 L1541.5,812.6 L1544.1,813.3 L1546.7,813.9 L1549.3,814.6 L1551.9,815.2 L1554.5,815.8 L1557.1,816.4 L1559.7,817.0 L1562.3,817.6 L1564.9,818.2 L1567.5,818.8 L1570.1,819.4 L1572.8,820.0 L1575.4,820.5 L1578.0,821.1 L1580.6,821.7 L1583.2,822.3 L1585.8,822.9 L1588.4,823.5 L1591.0,824.1 L1593.5,824.6 L1596.1,825.2 L1598.7,825.8 L1601.3,826.5 L1603.8,827.1 L1606.4,827.7 L1608.9,828.3 L1611.4,829.0 L1614.0,829.6 L1616.5,830.2 L1619.0,830.9 L1621.5,831.5 L1624.0,832.1 L1626.5,832.8 L1629.0,833.4 L1631.5,834.1 L1634.0,834.7 L1636.5,835.3 L1639.0,836.0 L1641.5,836.6 L1643.9,837.2 L1646.4,837.8 L1648.9,838.5 L1651.4,839.1 L1653.8,839.6 L1656.3,840.2 L1658.8,840.8 L1661.3,841.4 L1663.7,841.9 L1666.2,842.5 L1668.7,843.0 L1671.2,843.5 L1673.7,844.0 L1676.1,844.5 L1678.6,845.0 L1681.1,845.5 L1683.6,845.9 L1686.1,846.4 L1688.6,846.8 L1691.1,847.2 L1693.6,847.5 L1696.1,847.9 L1698.7,848.2 L1701.2,848.5 L1703.7,848.8 L1706.2,849.1 L1708.8,849.3 L1711.3,849.5 L1713.9,849.7 L1716.5,849.9 L1719.0,850.1 L1721.6,850.2 L1724.2,850.3 L1726.8,850.3 L1729.4,850.3 L1732.1,850.4 L1734.7,850.3 L1737.3,850.3 L1740.0,850.2" stroke="#000080"/>
<path d="M659.0,821.1 L660.2,818.9 L661.5,816.7 L662.7,814.4 L663.9,812.2 L665.1,810.0 L666.3,807.8 L667.5,805.5 L668.7,803.3 L669.9,801.1 L671.1,798.9 L672.3,796.6 L673.5,794.4 L674.6,792.1 L675.8,789.9 L676.9,787.7 L678.1,785.4 L679.2,783.2 L680.4,780.9 L681.5,778.7 L682.6,776.4 L683.8,774.2 L684.9,771.9 L686.0,769.7 L687.1,767.4 L688.2,765.1 L689.3,762.9 L690.4,760.6 L691.5,758.4 L692.6,756.1 L693.6,753.8 L694.7,751.6 L695.8,749.3 L696.9,747.0 L697.9,744.7 L699.0,742.5 L700.0,740.2 L701.1,737.9 L702.1,735.6 L703.1,733.4 L704.2,731.1 L705.2,728.8 L706.2,726.5 L707.2,724.2 L708.2,721.9 L709.2,719.6 L710.2,717.3 L711.2,715.0 L712.2,712.7 L713.2,710.4 L714.2,708.1 L715.2,705.8 L716.2,703.5 L717.1,701.2 L718.1,698.9 L719.1,696.6 L720.0,694.3 L721.0,692.0 L721.9,689.7 L722.9,687.4 L723.8,685.1 L724.8,682.8 L725.7,680.4 L726.6,678.1 L727.6,675.8 L728.5,673.5 L729.4,671.2 L730.3,668.8 L731.2,666.5 L732.1,664.2 L733.0,661.8 L733.9,659.5 L734.8,657.2 L735.7,654.9 L736.6,652.5 L737.5,650.2 L738.4,647.8 L739.3,645.5 L740.1,643.2 L741.0,640.8 L741.9,638.5 L742.7,636.1 L743.6,633.8 L744.5,631.4 L745.3,629.1 L746.2,626.7 L747.0,624.4 L747.9,622.0 L748.7,619.7 L749.5,617.3 L750.4,615.0 L751.2,612.6 L752.0,610.2 L752.9,607.9 L753.7,605.5 L754.5,603.1 L755.3,600.8 L756.1,598.4 L756.9,596.0 L757.8,593.7 L758.6,591.3 L759.4,588.9 L760.2,586.6 L761.0,584.2 L761.8,581.8 L762.5,579.4 L763.3,577.0 L764.1,574.7 L764.9,572.3 L765.7,569.9 L766.5,567.5 L767.2,565.1 L768.0,562.7 L768.8,560.3 L769.6,558.0 L770.3,555.6 L771.1,553.2 L771.9,550.8 L772.6,548.4 L773.4,546.0 L774.1,543.6 L774.9,541.2 L775.6,538.8 L776.4,536.4 L777.1,534.0 L777.9,531.6 L778.6,529.2 L779.4,526.8 L780.1,524.4 L780.8,521.9 L781.6,519.5 L782.3,517.1 L783.0,514.7 L783.8,512.3 L784.5,509.9 L785.2,507.5 L786.0,505.0 L786.7,502.6 L787.4,500.2 L788.1,497.8 L788.8,495.4 L789.6,492.9 L790.3,490.5 L791.0,488.1 L791.7,485.7 L792.4,483.2 L793.1,480.8 L793.8,478.4 L794.5,475.9 L795.2,473.5 L795.9,471.1 L796.6,468.6 L797.3,466.2 L798.0,463.8 L798.7,461.3 L799.4,458.9 L800.1,456.4 L800.8,454.0 L801.5,451.5 L802.2,449.1 L802.9,446.7 L803.6,444.2 L804.3,441.8 L805.0,439.3 L805.7,436.9 L806.4,434.4 L807.1,432.0 L807.8,429.6 L808.5,427.1 L809.2,424.7 L810.0,422.2 L810.7,419.8 L811.4,417.3 L812.1,414.9 L812.8,412.5 L813.5,410.0 L814.3,407.6 L815.0,405.1 L815.7,402.7 L816.5,400.3 L817.2,397.8 L818.0,395.4 L818.7,393.0 L819.5,390.6 L820.2,388.1 L821.0,385.7 L821.8,383.3 L822.5,380.9 L823.3,378.4 L824.1,376.0 L824.9,373.6 L825.7,371.2 L826.5,368.8 L827.3,366.4 L828.2,364.0 L829.0,361.6 L829.8,359.2 L830.7,356.8 L831.5,354.4 L832.4,352.0 L833.2,349.7 L834.1,347.3 L835.0,344.9 L835.9,342.5 L836.8,340.2 L837.7,337.8 L838.6,335.5 L839.6,333.1 L840.5,330.8 L841.5,328.4 L842.4,326.1 L843.4,323.7 L844.4,321.4 L845.4,319.1 L846.4,316.8 L847.4,314.4 L848.4,312.1 L849.4,309.8 L850.5,307.5 L851.6,305.2 L852.6,302.9 L853.7,300.7 L854.8,298.4 L855.9,296.1 L857.1,293.8 L858.2,291.6 L859.4,289.3 L860.5,287.1 L861.7,284.8 L862.9,282.6 L864.1,280.4 L865.3,278.1 L866.6,275.9 L867.8,273.7 L869.1,271.5 L870.4,269.3 L871.7,267.1 L873.0,265.0 L874.3,262.8 L875.7,260.6 L877.0,258.5 L878.4,256.3 L879.8,254.2 L881.2,252.0 L882.6,249.9 L884.1,247.8 L885.6,245.7 L887.0,243.6 L888.5,241.5 L890.1,239.4 L891.6,237.4 L893.2,235.3 L894.7,233.3 L896.3,231.4 L897.9,229.4 L899.6,227.5 L901.2,225.6 L902.9,223.8 L904.5,222.0 L906.2,220.3 L908.0,218.6 L909.7,217.0 L911.4,215.5 L913.2,214.0 L915.0,212.6 L916.8,211.2 L918.6,210.0 L920.5,208.8 L922.3,207.6 L924.2,206.6 L926.1,205.7 L928.0,204.8 L930.0,204.1 L931.9,203.4 L933.9,202.9 L935.9,202.5 L937.9,202.1 L939.9,201.9 L942.0,201.8 L944.0,201.9 L946.1,202.0 L948.2,202.3 L950.3,202.6 L952.5,203.1 L954.6,203.7 L956.8,204.4 L958.9,205.1 L961.1,206.0 L963.3,206.9 L965.5,207.9 L967.7,209.0 L969.9,210.1 L972.1,211.3 L974.4,212.6 L976.6,213.9 L978.8,215.3 L981.1,216.7 L983.3,218.2 L985.5,219.7 L987.8,221.2 L990.0,222.7 L992.2,224.3 L994.4,225.9 L996.6,227.5 L998.9,229.1 L1001.1,230.7 L1003.3,232.3 L1005.4,233.9 L1007.6,235.5 L1009.8,237.1 L1012.0,238.7 L1014.1,240.3 L1016.3,241.9 L1018.4,243.5 L1020.5,245.2 L1022.6,246.8 L1024.8,248.4 L1026.9,250.0 L1029.0,251.6 L1031.1,253.3 L1033.1,254.9 L1035.2,256.5 L1037.3,258.1 L1039.3,259.8 L1041.4,261.4 L1043.4,263.0 L1045.4,264.7 L1047.5,266.3 L1049.5,268.0 L1051.5,269.6 L1053.5,271.3 L1055.4,273.0 L1057.4,274.6 L1059.4,276.3 L1061.3,278.0 L1063.3,279.7 L1065.2,281.3 L1067.2,283.0 L1069.1,284.7 L1071.0,286.4 L1072.9,288.1 L1074.8,289.8 L1076.7,291.6 L1078.5,293.3 L1080.4,295.0 L1082.3,296.7 L1084.1,298.5 L1085.9,300.2 L1087.8,302.0 L1089.6,303.8 L1091.4,305.5 L1093.2,307.3 L1095.0,309.1 L1096.7,310.9 L1098.5,312.7 L1100.3,314.5 L1102.0,316.3 L1103.7,318.1 L1105.5,319.9 L1107.2,321.8 L1108.9,323.6 L1110.6,325.5 L1112.3,327.3 L1113.9,329.2 L1115.6,331.1 L1117.3,332.9 L1118.9,334.8 L1120.6,336.7 L1122.2,338.6 L1123.8,340.5 L1125.4,342.4 L1127.1,344.4 L1128.7,346.3 L1130.3,348.2 L1131.8,350.1 L1133.4,352.1 L1135.0,354.0 L1136.6,356.0 L1138.1,357.9 L1139.7,359.9 L1141.2,361.8 L1142.8,363.8 L1144.3,365.8 L1145.8,367.8 L1147.4,369.7 L1148.9,371.7 L1150.4,373.7 L1151.9,375.7 L1153.4,377.7 L1154.9,379.7 L1156.4,381.7 L1157.9,383.7 L1159.4,385.7 L1160.9,387.8 L1162.3,389.8 L1163.8,391.8 L1165.3,393.8 L1166.7,395.8 L1168.2,397.9 L1169.7,399.9 L1171.1,401.9 L1172.6,404.0 L1174.0,406.0 L1175.5,408.0 L1176.9,410.1 L1178.4,412.1 L1179.8,414.2 L1181.2,416.2 L1182.7,418.3 L1184.1,420.3 L1185.5,422.3 L1187.0,424.4 L1188.4,426.4 L1189.8,428.5 L1191.2,430.5 L1192.7,432.6 L1194.1,434.6 L1195.5,436.7 L1196.9,438.7 L1198.4,440.8 L1199.8,442.8 L1201.2,444.9 L1202.6,446.9 L1204.1,449.0 L1205.5,451.0 L1206.9,453.1 L1208.3,455.1 L1209.8,457.2 L1211.2,459.2 L1212.6,461.3 L1214.0,463.3 L1215.5,465.4 L1216.9,467.4 L1218.3,469.4 L1219.8,471.5 L1221.2,473.5 L1222.6,475.6 L1224.0,477.6 L1225.5,479.6 L1226.9,481.7 L1228.4,483.7 L1229.8,485.7 L1231.2,487.8 L1232.7,489.8 L1234.1,491.9 L1235.6,493.9 L1237.0,495.9 L1238.4,497.9 L1239.9,500.0 L1241.3,502.0 L1242.8,504.0 L1244.2,506.1 L1245.7,508.1 L1247.2,510.1 L1248.6,512.1 L1250.1,514.2 L1251.5,516.2 L1253.0,518.2 L1254.5,520.2 L1256.0,522.3 L1257.4,524.3 L1258.9,526.3 L1260.4,528.3 L1261.9,530.3 L1263.3,532.3 L1264.8,534.4 L1266.3,536.4 L1267.8,538.4 L1269.3,540.4 L1270.8,542.4 L1272.3,544.4 L1273.8,546.4 L1275.3,548.4 L1276.8,550.4 L1278.3,552.4 L1279.8,554.4 L1281.4,556.4 L1282.9,558.4 L1284.4,560.4 L1285.9,562.4 L1287.5,564.4 L1289.0,566.4 L1290.6,568.4 L1292.1,570.4 L1293.6,572.4 L1295.2,574.4 L1296.8,576.4 L1298.3,578.4 L1299.9,580.3 L1301.4,582.3 L1303.0,584.3 L1304.6,586.3 L1306.2,588.3 L1307.8,590.2 L1309.3,592.2 L1310.9,594.2 L1312.5,596.2 L1314.1,598.1 L1315.7,600.1 L1317.3,602.1 L1319.0,604.0 L1320.6,606.0 L1322.2,607.9 L1323.8,609.9 L1325.5,611.8 L1327.1,613.8 L1328.7,615.7 L1330.4,617.7 L1332.0,619.6 L1333.7,621.6 L1335.3,623.5 L1337.0,625.4 L1338.6,627.3 L1340.3,629.3 L1342.0,631.2 L1343.7,633.1 L1345.4,635.0 L1347.0,636.9 L1348.7,638.8 L1350.4,640.7 L1352.1,642.6 L1353.8,644.5 L1355.5,646.4 L1357.2,648.3 L1359.0,650.2 L1360.7,652.0 L1362.4,653.9 L1364.1,655.8 L1365.9,657.6 L1367.6,659.5 L1369.4,661.3 L1371.1,663.2 L1372.9,665.0 L1374.6,666.9 L1376.4,668.7 L1378.2,670.5 L1379.9,672.3 L1381.7,674.2 L1383.5,676.0 L1385.3,677.8 L1387.1,679.6 L1388.9,681.4 L1390.7,683.2 L1392.5,684.9 L1394.3,686.7 L1396.1,688.5 L1397.9,690.3 L1399.7,692.0 L1401.6,693.8 L1403.4,695.5 L1405.2,697.2 L1407.1,699.0 L1408.9,700.7 L1410.8,702.4 L1412.7,704.1 L1414.5,705.8 L1416.4,707.5 L1418.3,709.2 L1420.1,710.9 L1422.0,712.6 L1423.9,714.3 L1425.8,715.9 L1427.7,717.6 L1429.6,719.2 L1431.5,720.9 L1433.4,722.5 L1435.3,724.1 L1437.3,725.8 L1439.2,727.4 L1441.1,729.0 L1443.1,730.6 L1445.0,732.2 L1447.0,733.7 L1448.9,735.3 L1450.9,736.9 L1452.8,738.4 L1454.8,740.0 L1456.8,741.5 L1458.8,743.0 L1460.8,744.5 L1462.8,746.1 L1464.8,747.6 L1466.8,749.1 L1468.8,750.5 L1470.8,752.0 L1472.8,753.5 L1474.8,754.9 L1476.8,756.4 L1478.9,757.8 L1480.9,759.2 L1483.0,760.7 L1485.0,762.1 L1487.1,763.5 L1489.1,764.9 L1491.2,766.2 L1493.3,767.6 L1495.3,769.0 L1497.4,770.3 L1499.5,771.7 L1501.6,773.0 L1503.7,774.3 L1505.8,775.6 L1507.9,776.9 L1510.0,778.2 L1512.2,779.5 L1514.3,780.7 L1516.4,782.0 L1518.6,783.2 L1520.7,784.5 L1522.9,785.7 L1525.0,786.9 L1527.2,788.1 L1529.3,789.3 L1531.5,790.5 L1533.7,791.6 L1535.9,792.8 L1538.1,793.9 L1540.3,795.1 L1542.5,796.2 L1544.7,797.3 L1546.9,798.4 L1549.1,799.5 L1551.3,800.5 L1553.6,801.6 L1555.8,802.6 L1558.1,803.7 L1560.3,804.7 L1562.6,805.7 L1564.8,806.7 L1567.1,807.7 L1569.4,808.7 L1571.6,809.6 L1573.9,810.6 L1576.2,811.5 L1578.5,812.4 L1580.8,813.3 L1583.1,814.2 L1585.4,815.1 L1587.8,816.0 L1590.1,816.8 L1592.4,817.7 L1594.8,818.5 L1597.1,819.3 L1599.4,820.1 L1601.8,820.9 L1604.2,821.6 L1606.5,822.4 L1608.9,823.1 L1611.3,823.9 L1613.7,824.6 L1616.1,825.3 L1618.5,826.0 L1620.9,826.6 L1623.3,827.3 L1625.7,827.9 L1628.1,828.6 L1630.6,829.2 L1633.0,829.8 L1635.5,830.4 L1637.9,830.9 L1640.4,831.5 L1642.8,832.0 L1645.3,832.5 L1647.8,833.0 L1650.3,833.5 L1652.8,834.0 L1655.3,834.5 L1657.8,834.9 L1660.3,835.3 L1662.8,835.8 L1665.3,836.1 L1667.8,836.5 L1670.4,836.9 L1672.9,837.2 L1675.5,837.6 L1678.0,837.9 L1680.6,838.2 L1683.1,838.5 L1685.7,838.7 L1688.3,839.0 L1690.9,839.2 L1693.5,839.4 L1696.1,839.6 L1698.7,839.8 L1701.3,840.0 L1703.9,840.1 L1706.5,840.3 L1709.2,840.4 L1711.8,840.5 L1714.5,840.6 L1717.1,840.6 L1719.8,840.7 L1722.5,840.7 L1725.1,840.7 L1727.8,840.7 L1730.5,840.7 L1733.2,840.6 L1735.9,840.6 L1738.6,840.5 L1741.3,840.4" stroke="#980088"/>
<path d="M706.0,792.0 L707.1,789.8 L708.2,787.6 L709.3,785.5 L710.4,783.3 L711.5,781.1 L712.6,778.9 L713.7,776.7 L714.8,774.4 L715.9,772.2 L717.0,770.0 L718.0,767.8 L719.1,765.6 L720.1,763.4 L721.2,761.2 L722.2,759.0 L723.3,756.8 L724.3,754.6 L725.3,752.3 L726.3,750.1 L727.4,747.9 L728.4,745.7 L729.4,743.5 L730.4,741.2 L731.4,739.0 L732.4,736.8 L733.3,734.6 L734.3,732.3 L735.3,730.1 L736.3,727.9 L737.2,725.7 L738.2,723.4 L739.1,721.2 L740.1,719.0 L741.0,716.7 L742.0,714.5 L742.9,712.2 L743.8,710.0 L744.8,707.8 L745.7,705.5 L746.6,703.3 L747.5,701.0 L748.4,698.8 L749.3,696.5 L750.2,694.3 L751.1,692.1 L752.0,689.8 L752.9,687.6 L753.8,685.3 L754.7,683.1 L755.6,680.8 L756.4,678.5 L757.3,676.3 L758.2,674.0 L759.0,671.8 L759.9,669.5 L760.7,667.3 L761.6,665.0 L762.4,662.7 L763.3,660.5 L764.1,658.2 L765.0,655.9 L765.8,653.7 L766.6,651.4 L767.5,649.2 L768.3,646.9 L769.1,644.6 L769.9,642.3 L770.7,640.1 L771.5,637.8 L772.4,635.5 L773.2,633.3 L774.0,631.0 L774.8,628.7 L775.6,626.4 L776.4,624.2 L777.1,621.9 L777.9,619.6 L778.7,617.3 L779.5,615.1 L780.3,612.8 L781.1,610.5 L781.9,608.2 L782.6,605.9 L783.4,603.6 L784.2,601.4 L784.9,599.1 L785.7,596.8 L786.5,594.5 L787.2,592.2 L788.0,589.9 L788.8,587.6 L789.5,585.4 L790.3,583.1 L791.0,580.8 L791.8,578.5 L792.5,576.2 L793.3,573.9 L794.0,571.6 L794.8,569.3 L795.5,567.0 L796.3,564.7 L797.0,562.4 L797.7,560.1 L798.5,557.8 L799.2,555.6 L799.9,553.3 L800.7,551.0 L801.4,548.7 L802.1,546.4 L802.9,544.1 L803.6,541.8 L804.3,539.5 L805.1,537.2 L805.8,534.9 L806.5,532.6 L807.3,530.3 L808.0,528.0 L808.7,525.7 L809.4,523.3 L810.2,521.0 L810.9,518.7 L811.6,516.4 L812.3,514.1 L813.1,511.8 L813.8,509.5 L814.5,507.2 L815.2,504.9 L815.9,502.6 L816.7,500.3 L817.4,498.0 L818.1,495.7 L818.8,493.4 L819.6,491.1 L820.3,488.8 L821.0,486.4 L821.7,484.1 L822.5,481.8 L823.2,479.5 L823.9,477.2 L824.6,474.9 L825.4,472.6 L826.1,470.3 L826.8,468.0 L827.5,465.6 L828.3,463.3 L829.0,461.0 L829.7,458.7 L830.5,456.4 L831.2,454.1 L831.9,451.8 L832.7,449.5 L833.4,447.1 L834.1,444.8 L834.9,442.5 L835.6,440.2 L836.4,437.9 L837.1,435.6 L837.8,433.3 L838.6,430.9 L839.3,428.6 L840.1,426.3 L840.8,424.0 L841.6,421.7 L842.3,419.4 L843.1,417.1 L843.8,414.7 L844.6,412.4 L845.3,410.1 L846.1,407.8 L846.9,405.5 L847.6,403.2 L848.4,400.8 L849.2,398.5 L849.9,396.2 L850.7,393.9 L851.5,391.6 L852.3,389.3 L853.0,387.0 L853.8,384.6 L854.6,382.3 L855.4,380.0 L856.2,377.7 L857.0,375.4 L857.8,373.1 L858.6,370.7 L859.4,368.4 L860.2,366.1 L861.0,363.8 L861.8,361.5 L862.6,359.2 L863.4,356.9 L864.2,354.6 L865.1,352.2 L865.9,349.9 L866.7,347.6 L867.6,345.3 L868.4,343.0 L869.3,340.7 L870.1,338.4 L871.0,336.1 L871.8,333.8 L872.7,331.5 L873.6,329.2 L874.5,326.9 L875.3,324.6 L876.2,322.3 L877.1,320.0 L878.0,317.7 L879.0,315.4 L879.9,313.1 L880.8,310.8 L881.8,308.6 L882.7,306.3 L883.7,304.0 L884.6,301.7 L885.6,299.5 L886.6,297.2 L887.6,294.9 L888.6,292.7 L889.6,290.4 L890.7,288.2 L891.7,285.9 L892.8,283.7 L893.8,281.5 L894.9,279.2 L896.0,277.0 L897.1,274.8 L898.2,272.5 L899.3,270.3 L900.4,268.1 L901.6,265.9 L902.7,263.7 L903.9,261.5 L905.1,259.3 L906.3,257.1 L907.5,254.9 L908.7,252.8 L910.0,250.6 L911.2,248.4 L912.5,246.3 L913.8,244.1 L915.1,242.0 L916.4,239.8 L917.8,237.7 L919.1,235.6 L920.5,233.5 L921.9,231.5 L923.3,229.5 L924.7,227.5 L926.2,225.5 L927.6,223.6 L929.1,221.8 L930.6,220.0 L932.2,218.3 L933.7,216.6 L935.3,215.0 L936.9,213.5 L938.5,212.0 L940.2,210.6 L941.9,209.3 L943.6,208.1 L945.3,207.0 L947.1,206.0 L948.8,205.1 L950.7,204.3 L952.5,203.6 L954.4,203.0 L956.3,202.5 L958.2,202.1 L960.1,201.8 L962.1,201.6 L964.1,201.5 L966.1,201.5 L968.1,201.7 L970.2,201.9 L972.2,202.2 L974.3,202.6 L976.4,203.1 L978.6,203.7 L980.7,204.3 L982.8,205.1 L985.0,205.9 L987.2,206.7 L989.4,207.7 L991.6,208.6 L993.8,209.7 L996.0,210.8 L998.3,211.9 L1000.5,213.1 L1002.8,214.3 L1005.0,215.5 L1007.3,216.8 L1009.5,218.1 L1011.8,219.4 L1014.0,220.8 L1016.3,222.1 L1018.6,223.5 L1020.8,224.9 L1023.1,226.2 L1025.4,227.6 L1027.6,228.9 L1029.9,230.3 L1032.1,231.6 L1034.3,233.0 L1036.6,234.3 L1038.8,235.6 L1041.0,237.0 L1043.2,238.3 L1045.4,239.6 L1047.7,240.9 L1049.8,242.2 L1052.0,243.6 L1054.2,244.9 L1056.4,246.2 L1058.5,247.5 L1060.7,248.8 L1062.8,250.2 L1065.0,251.5 L1067.1,252.8 L1069.2,254.1 L1071.3,255.5 L1073.4,256.8 L1075.5,258.2 L1077.6,259.6 L1079.6,260.9 L1081.7,262.3 L1083.7,263.7 L1085.7,265.1 L1087.7,266.5 L1089.7,267.9 L1091.7,269.3 L1093.6,270.8 L1095.6,272.2 L1097.5,273.7 L1099.5,275.2 L1101.4,276.7 L1103.2,278.2 L1105.1,279.7 L1107.0,281.2 L1108.8,282.8 L1110.6,284.4 L1112.5,285.9 L1114.3,287.5 L1116.0,289.1 L1117.8,290.8 L1119.6,292.4 L1121.3,294.1 L1123.1,295.7 L1124.8,297.4 L1126.5,299.1 L1128.2,300.8 L1129.9,302.5 L1131.5,304.2 L1133.2,305.9 L1134.8,307.6 L1136.5,309.4 L1138.1,311.2 L1139.7,312.9 L1141.3,314.7 L1142.9,316.5 L1144.5,318.3 L1146.1,320.1 L1147.7,321.9 L1149.2,323.7 L1150.8,325.6 L1152.3,327.4 L1153.9,329.3 L1155.4,331.1 L1156.9,333.0 L1158.4,334.8 L1159.9,336.7 L1161.4,338.6 L1162.9,340.5 L1164.4,342.4 L1165.9,344.3 L1167.4,346.2 L1168.8,348.1 L1170.3,350.0 L1171.7,352.0 L1173.2,353.9 L1174.6,355.8 L1176.1,357.8 L1177.5,359.7 L1178.9,361.7 L1180.4,363.6 L1181.8,365.6 L1183.2,367.5 L1184.6,369.5 L1186.0,371.4 L1187.5,373.4 L1188.9,375.4 L1190.3,377.4 L1191.7,379.3 L1193.1,381.3 L1194.5,383.3 L1195.9,385.2 L1197.3,387.2 L1198.7,389.2 L1200.1,391.2 L1201.5,393.2 L1202.9,395.1 L1204.3,397.1 L1205.7,399.1 L1207.1,401.1 L1208.5,403.0 L1209.9,405.0 L1211.3,407.0 L1212.7,409.0 L1214.1,411.0 L1215.5,413.0 L1216.9,414.9 L1218.3,416.9 L1219.6,418.9 L1221.0,420.9 L1222.4,422.9 L1223.8,424.8 L1225.2,426.8 L1226.6,428.8 L1228.0,430.8 L1229.4,432.8 L1230.8,434.8 L1232.2,436.7 L1233.6,438.7 L1235.0,440.7 L1236.4,442.7 L1237.8,444.7 L1239.2,446.7 L1240.6,448.6 L1242.0,450.6 L1243.3,452.6 L1244.7,454.6 L1246.1,456.6 L1247.5,458.6 L1248.9,460.5 L1250.3,462.5 L1251.7,464.5 L1253.1,466.5 L1254.5,468.5 L1255.9,470.5 L1257.3,472.5 L1258.7,474.4 L1260.1,476.4 L1261.4,478.4 L1262.8,480.4 L1264.2,482.4 L1265.6,484.4 L1267.0,486.4 L1268.4,488.3 L1269.8,490.3 L1271.2,492.3 L1272.6,494.3 L1274.0,496.3 L1275.4,498.3 L1276.8,500.3 L1278.2,502.2 L1279.6,504.2 L1281.0,506.2 L1282.3,508.2 L1283.7,510.2 L1285.1,512.2 L1286.5,514.2 L1287.9,516.1 L1289.3,518.1 L1290.7,520.1 L1292.1,522.1 L1293.5,524.1 L1294.9,526.1 L1296.3,528.0 L1297.7,530.0 L1299.1,532.0 L1300.5,534.0 L1302.0,535.9 L1303.4,537.9 L1304.8,539.9 L1306.2,541.9 L1307.6,543.8 L1309.0,545.8 L1310.4,547.8 L1311.8,549.8 L1313.3,551.7 L1314.7,553.7 L1316.1,555.6 L1317.5,557.6 L1319.0,559.6 L1320.4,561.5 L1321.8,563.5 L1323.3,565.4 L1324.7,567.4 L1326.2,569.4 L1327.6,571.3 L1329.0,573.3 L1330.5,575.2 L1331.9,577.1 L1333.4,579.1 L1334.8,581.0 L1336.3,583.0 L1337.8,584.9 L1339.2,586.8 L1340.7,588.8 L1342.2,590.7 L1343.7,592.6 L1345.1,594.5 L1346.6,596.5 L1348.1,598.4 L1349.6,600.3 L1351.1,602.2 L1352.6,604.1 L1354.1,606.0 L1355.6,607.9 L1357.1,609.8 L1358.6,611.7 L1360.1,613.6 L1361.6,615.5 L1363.2,617.4 L1364.7,619.3 L1366.2,621.2 L1367.8,623.1 L1369.3,624.9 L1370.9,626.8 L1372.4,628.7 L1374.0,630.6 L1375.5,632.4 L1377.1,634.3 L1378.7,636.1 L1380.2,638.0 L1381.8,639.8 L1383.4,641.7 L1385.0,643.5 L1386.6,645.3 L1388.2,647.2 L1389.8,649.0 L1391.4,650.8 L1393.0,652.7 L1394.6,654.5 L1396.3,656.3 L1397.9,658.1 L1399.5,659.9 L1401.2,661.7 L1402.8,663.5 L1404.5,665.3 L1406.1,667.1 L1407.8,668.8 L1409.5,670.6 L1411.2,672.4 L1412.8,674.1 L1414.5,675.9 L1416.2,677.7 L1417.9,679.4 L1419.6,681.2 L1421.3,682.9 L1423.1,684.6 L1424.8,686.4 L1426.5,688.1 L1428.2,689.8 L1430.0,691.5 L1431.7,693.2 L1433.5,694.9 L1435.2,696.6 L1437.0,698.3 L1438.8,700.0 L1440.6,701.6 L1442.3,703.3 L1444.1,705.0 L1445.9,706.6 L1447.7,708.3 L1449.5,709.9 L1451.3,711.5 L1453.1,713.2 L1455.0,714.8 L1456.8,716.4 L1458.6,718.0 L1460.5,719.6 L1462.3,721.2 L1464.2,722.8 L1466.0,724.3 L1467.9,725.9 L1469.7,727.5 L1471.6,729.0 L1473.5,730.5 L1475.4,732.1 L1477.3,733.6 L1479.2,735.1 L1481.1,736.6 L1483.0,738.1 L1484.9,739.6 L1486.8,741.1 L1488.7,742.6 L1490.7,744.1 L1492.6,745.5 L1494.5,747.0 L1496.5,748.4 L1498.4,749.8 L1500.4,751.3 L1502.4,752.7 L1504.3,754.1 L1506.3,755.5 L1508.3,756.8 L1510.3,758.2 L1512.3,759.6 L1514.3,760.9 L1516.3,762.3 L1518.3,763.6 L1520.3,764.9 L1522.3,766.2 L1524.4,767.6 L1526.4,768.8 L1528.4,770.1 L1530.5,771.4 L1532.5,772.7 L1534.6,773.9 L1536.7,775.2 L1538.7,776.4 L1540.8,777.6 L1542.9,778.8 L1545.0,780.0 L1547.1,781.2 L1549.2,782.4 L1551.3,783.5 L1553.4,784.7 L1555.5,785.8 L1557.6,786.9 L1559.7,788.1 L1561.9,789.2 L1564.0,790.3 L1566.1,791.3 L1568.3,792.4 L1570.5,793.5 L1572.6,794.5 L1574.8,795.5 L1577.0,796.5 L1579.1,797.6 L1581.3,798.5 L1583.5,799.5 L1585.7,800.5 L1587.9,801.4 L1590.1,802.4 L1592.3,803.3 L1594.5,804.2 L1596.8,805.1 L1599.0,806.0 L1601.2,806.9 L1603.5,807.8 L1605.7,808.6 L1608.0,809.4 L1610.2,810.3 L1612.5,811.1 L1614.8,811.9 L1617.0,812.6 L1619.3,813.4 L1621.6,814.2 L1623.9,814.9 L1626.2,815.6 L1628.5,816.3 L1630.8,817.0 L1633.1,817.7 L1635.5,818.4 L1637.8,819.0 L1640.1,819.6 L1642.5,820.3 L1644.8,820.9 L1647.2,821.5 L1649.5,822.0 L1651.9,822.6 L1654.3,823.1 L1656.6,823.7 L1659.0,824.2 L1661.4,824.7 L1663.8,825.1 L1666.2,825.6 L1668.6,826.1 L1671.0,826.5 L1673.4,826.9 L1675.8,827.3 L1678.3,827.7 L1680.7,828.0 L1683.1,828.4 L1685.6,828.7 L1688.0,829.0 L1690.5,829.4 L1693.0,829.6 L1695.4,829.9 L1697.9,830.1 L1700.4,830.4 L1702.9,830.6 L1705.3,830.8 L1707.8,831.0 L1710.3,831.1 L1712.9,831.3 L1715.4,831.4 L1717.9,831.5 L1720.4,831.6 L1722.9,831.7 L1725.5,831.7 L1728.0,831.8 L1730.6,831.8 L1733.1,831.8 L1735.7,831.8 L1738.3,831.8 L1740.8,831.7" stroke="#9a0000"/>
<path d="M753.0,772.1 L754.0,769.9 L754.9,767.7 L755.8,765.5 L756.8,763.2 L757.7,761.0 L758.6,758.8 L759.5,756.6 L760.4,754.4 L761.3,752.2 L762.2,750.0 L763.1,747.8 L764.0,745.6 L764.9,743.4 L765.8,741.2 L766.7,739.0 L767.5,736.8 L768.4,734.6 L769.3,732.4 L770.2,730.2 L771.0,728.0 L771.9,725.8 L772.7,723.7 L773.6,721.5 L774.5,719.3 L775.3,717.1 L776.2,714.9 L777.0,712.7 L777.8,710.5 L778.7,708.3 L779.5,706.1 L780.3,703.9 L781.2,701.7 L782.0,699.5 L782.8,697.3 L783.7,695.1 L784.5,692.9 L785.3,690.7 L786.1,688.5 L786.9,686.3 L787.7,684.1 L788.5,681.9 L789.3,679.7 L790.2,677.5 L791.0,675.4 L791.7,673.2 L792.5,671.0 L793.3,668.8 L794.1,666.6 L794.9,664.4 L795.7,662.2 L796.5,660.0 L797.3,657.8 L798.1,655.6 L798.8,653.4 L799.6,651.2 L800.4,649.0 L801.2,646.8 L801.9,644.6 L802.7,642.5 L803.5,640.3 L804.2,638.1 L805.0,635.9 L805.8,633.7 L806.5,631.5 L807.3,629.3 L808.0,627.1 L808.8,624.9 L809.6,622.7 L810.3,620.5 L811.1,618.3 L811.8,616.1 L812.6,614.0 L813.3,611.8 L814.0,609.6 L814.8,607.4 L815.5,605.2 L816.3,603.0 L817.0,600.8 L817.8,598.6 L818.5,596.4 L819.2,594.2 L820.0,592.0 L820.7,589.8 L821.4,587.6 L822.2,585.4 L822.9,583.3 L823.6,581.1 L824.4,578.9 L825.1,576.7 L825.8,574.5 L826.6,572.3 L827.3,570.1 L828.0,567.9 L828.7,565.7 L829.5,563.5 L830.2,561.3 L830.9,559.1 L831.6,556.9 L832.4,554.7 L833.1,552.5 L833.8,550.3 L834.5,548.1 L835.3,545.9 L836.0,543.7 L836.7,541.6 L837.4,539.4 L838.1,537.2 L838.9,535.0 L839.6,532.8 L840.3,530.6 L841.0,528.4 L841.7,526.2 L842.5,524.0 L843.2,521.8 L843.9,519.6 L844.6,517.4 L845.3,515.2 L846.1,513.0 L846.8,510.8 L847.5,508.6 L848.2,506.4 L848.9,504.2 L849.7,502.0 L850.4,499.8 L851.1,497.6 L851.8,495.4 L852.6,493.2 L853.3,491.0 L854.0,488.8 L854.7,486.6 L855.5,484.4 L856.2,482.2 L856.9,480.0 L857.6,477.8 L858.4,475.6 L859.1,473.3 L859.8,471.1 L860.6,468.9 L861.3,466.7 L862.0,464.5 L862.8,462.3 L863.5,460.1 L864.2,457.9 L865.0,455.7 L865.7,453.5 L866.4,451.3 L867.2,449.1 L867.9,446.9 L868.7,444.7 L869.4,442.4 L870.2,440.2 L870.9,438.0 L871.7,435.8 L872.4,433.6 L873.2,431.4 L873.9,429.2 L874.7,427.0 L875.4,424.7 L876.2,422.5 L876.9,420.3 L877.7,418.1 L878.4,415.9 L879.2,413.7 L880.0,411.5 L880.7,409.2 L881.5,407.0 L882.3,404.8 L883.1,402.6 L883.8,400.4 L884.6,398.1 L885.4,395.9 L886.2,393.7 L886.9,391.5 L887.7,389.3 L888.5,387.0 L889.3,384.8 L890.1,382.6 L890.9,380.4 L891.7,378.1 L892.5,375.9 L893.3,373.7 L894.1,371.5 L894.9,369.2 L895.7,367.0 L896.5,364.8 L897.3,362.6 L898.1,360.3 L898.9,358.1 L899.7,355.9 L900.6,353.6 L901.4,351.4 L902.2,349.2 L903.0,346.9 L903.9,344.7 L904.7,342.5 L905.6,340.2 L906.4,338.0 L907.2,335.8 L908.1,333.5 L908.9,331.3 L909.8,329.1 L910.6,326.8 L911.5,324.6 L912.4,322.3 L913.2,320.1 L914.1,317.9 L915.0,315.6 L915.8,313.4 L916.7,311.1 L917.6,308.9 L918.5,306.6 L919.4,304.4 L920.3,302.1 L921.1,299.9 L922.0,297.7 L922.9,295.4 L923.8,293.2 L924.8,290.9 L925.7,288.7 L926.6,286.4 L927.5,284.2 L928.4,281.9 L929.4,279.7 L930.3,277.4 L931.3,275.2 L932.3,273.0 L933.2,270.7 L934.2,268.5 L935.3,266.3 L936.3,264.1 L937.3,261.9 L938.4,259.7 L939.5,257.5 L940.5,255.3 L941.7,253.1 L942.8,250.9 L943.9,248.8 L945.1,246.6 L946.3,244.5 L947.5,242.4 L948.8,240.3 L950.1,238.2 L951.4,236.1 L952.7,234.0 L954.0,232.0 L955.4,230.0 L956.8,228.0 L958.2,226.1 L959.7,224.2 L961.2,222.4 L962.7,220.6 L964.2,218.9 L965.8,217.2 L967.4,215.6 L969.0,214.0 L970.6,212.5 L972.3,211.1 L974.0,209.7 L975.8,208.5 L977.5,207.3 L979.3,206.2 L981.1,205.2 L983.0,204.3 L984.9,203.5 L986.8,202.7 L988.8,202.1 L990.7,201.5 L992.7,201.1 L994.8,200.7 L996.8,200.4 L998.9,200.2 L1001.0,200.1 L1003.1,200.0 L1005.2,200.1 L1007.4,200.1 L1009.5,200.3 L1011.7,200.5 L1013.9,200.8 L1016.1,201.2 L1018.3,201.6 L1020.6,202.0 L1022.8,202.5 L1025.0,203.1 L1027.3,203.7 L1029.5,204.4 L1031.8,205.1 L1034.1,205.8 L1036.3,206.6 L1038.6,207.4 L1040.8,208.2 L1043.1,209.1 L1045.4,210.0 L1047.6,211.0 L1049.9,211.9 L1052.1,212.9 L1054.3,213.9 L1056.5,214.9 L1058.8,216.0 L1061.0,217.0 L1063.1,218.1 L1065.3,219.2 L1067.5,220.2 L1069.6,221.3 L1071.8,222.4 L1073.9,223.6 L1076.0,224.7 L1078.1,225.8 L1080.2,227.0 L1082.3,228.1 L1084.3,229.3 L1086.4,230.5 L1088.4,231.7 L1090.5,232.9 L1092.5,234.1 L1094.5,235.3 L1096.5,236.6 L1098.5,237.8 L1100.5,239.1 L1102.5,240.4 L1104.4,241.6 L1106.4,242.9 L1108.3,244.2 L1110.3,245.5 L1112.2,246.9 L1114.1,248.2 L1116.0,249.5 L1117.9,250.9 L1119.7,252.3 L1121.6,253.6 L1123.5,255.0 L1125.3,256.4 L1127.2,257.8 L1129.0,259.2 L1130.8,260.6 L1132.6,262.1 L1134.4,263.5 L1136.2,265.0 L1138.0,266.4 L1139.8,267.9 L1141.6,269.3 L1143.3,270.8 L1145.1,272.3 L1146.8,273.8 L1148.5,275.3 L1150.3,276.9 L1152.0,278.4 L1153.7,279.9 L1155.4,281.5 L1157.1,283.0 L1158.8,284.6 L1160.4,286.1 L1162.1,287.7 L1163.8,289.3 L1165.4,290.9 L1167.1,292.5 L1168.7,294.1 L1170.3,295.7 L1171.9,297.3 L1173.6,299.0 L1175.2,300.6 L1176.8,302.3 L1178.4,303.9 L1179.9,305.6 L1181.5,307.2 L1183.1,308.9 L1184.7,310.6 L1186.2,312.3 L1187.8,314.0 L1189.3,315.7 L1190.8,317.4 L1192.4,319.1 L1193.9,320.8 L1195.4,322.6 L1196.9,324.3 L1198.4,326.1 L1199.9,327.8 L1201.4,329.6 L1202.9,331.3 L1204.4,333.1 L1205.9,334.9 L1207.3,336.6 L1208.8,338.4 L1210.3,340.2 L1211.7,342.0 L1213.2,343.8 L1214.6,345.6 L1216.0,347.4 L1217.5,349.2 L1218.9,351.1 L1220.3,352.9 L1221.7,354.7 L1223.1,356.6 L1224.5,358.4 L1226.0,360.3 L1227.4,362.1 L1228.7,364.0 L1230.1,365.9 L1231.5,367.7 L1232.9,369.6 L1234.3,371.5 L1235.6,373.4 L1237.0,375.2 L1238.4,377.1 L1239.7,379.0 L1241.1,380.9 L1242.4,382.8 L1243.8,384.7 L1245.1,386.6 L1246.5,388.6 L1247.8,390.5 L1249.2,392.4 L1250.5,394.3 L1251.8,396.3 L1253.1,398.2 L1254.5,400.1 L1255.8,402.1 L1257.1,404.0 L1258.4,406.0 L1259.7,407.9 L1261.0,409.9 L1262.3,411.8 L1263.6,413.8 L1264.9,415.7 L1266.2,417.7 L1267.5,419.7 L1268.8,421.7 L1270.1,423.6 L1271.4,425.6 L1272.7,427.6 L1274.0,429.6 L1275.3,431.5 L1276.6,433.5 L1277.8,435.5 L1279.1,437.5 L1280.4,439.5 L1281.7,441.5 L1283.0,443.5 L1284.2,445.5 L1285.5,447.5 L1286.8,449.5 L1288.0,451.5 L1289.3,453.5 L1290.6,455.5 L1291.9,457.5 L1293.1,459.5 L1294.4,461.5 L1295.7,463.5 L1296.9,465.5 L1298.2,467.5 L1299.5,469.5 L1300.7,471.5 L1302.0,473.5 L1303.2,475.6 L1304.5,477.6 L1305.8,479.6 L1307.0,481.6 L1308.3,483.6 L1309.6,485.6 L1310.8,487.6 L1312.1,489.7 L1313.4,491.7 L1314.6,493.7 L1315.9,495.7 L1317.2,497.7 L1318.5,499.7 L1319.7,501.8 L1321.0,503.8 L1322.3,505.8 L1323.5,507.8 L1324.8,509.8 L1326.1,511.8 L1327.4,513.8 L1328.7,515.8 L1329.9,517.8 L1331.2,519.8 L1332.5,521.9 L1333.8,523.9 L1335.1,525.9 L1336.4,527.9 L1337.7,529.9 L1339.0,531.9 L1340.3,533.9 L1341.6,535.9 L1342.9,537.9 L1344.2,539.9 L1345.5,541.8 L1346.8,543.8 L1348.1,545.8 L1349.4,547.8 L1350.7,549.8 L1352.1,551.8 L1353.4,553.8 L1354.7,555.7 L1356.0,557.7 L1357.4,559.7 L1358.7,561.6 L1360.0,563.6 L1361.4,565.6 L1362.7,567.5 L1364.1,569.5 L1365.4,571.5 L1366.8,573.4 L1368.2,575.4 L1369.5,577.3 L1370.9,579.2 L1372.3,581.2 L1373.7,583.1 L1375.0,585.1 L1376.4,587.0 L1377.8,588.9 L1379.2,590.8 L1380.6,592.7 L1382.0,594.7 L1383.4,596.6 L1384.8,598.5 L1386.3,600.4 L1387.7,602.3 L1389.1,604.2 L1390.5,606.1 L1392.0,607.9 L1393.4,609.8 L1394.9,611.7 L1396.3,613.6 L1397.8,615.4 L1399.3,617.3 L1400.7,619.2 L1402.2,621.0 L1403.7,622.9 L1405.2,624.7 L1406.7,626.6 L1408.2,628.4 L1409.7,630.2 L1411.2,632.0 L1412.7,633.9 L1414.2,635.7 L1415.8,637.5 L1417.3,639.3 L1418.8,641.1 L1420.4,642.9 L1421.9,644.6 L1423.5,646.4 L1425.0,648.2 L1426.6,650.0 L1428.2,651.7 L1429.8,653.5 L1431.3,655.2 L1432.9,657.0 L1434.5,658.7 L1436.1,660.4 L1437.7,662.2 L1439.3,663.9 L1441.0,665.6 L1442.6,667.3 L1444.2,669.0 L1445.8,670.7 L1447.5,672.4 L1449.1,674.1 L1450.8,675.7 L1452.4,677.4 L1454.1,679.1 L1455.8,680.7 L1457.4,682.4 L1459.1,684.0 L1460.8,685.6 L1462.5,687.3 L1464.2,688.9 L1465.9,690.5 L1467.6,692.1 L1469.3,693.7 L1471.0,695.3 L1472.7,696.8 L1474.5,698.4 L1476.2,700.0 L1477.9,701.5 L1479.7,703.1 L1481.4,704.6 L1483.2,706.2 L1484.9,707.7 L1486.7,709.2 L1488.5,710.7 L1490.3,712.2 L1492.0,713.7 L1493.8,715.2 L1495.6,716.7 L1497.4,718.1 L1499.2,719.6 L1501.1,721.0 L1502.9,722.5 L1504.7,723.9 L1506.5,725.3 L1508.4,726.8 L1510.2,728.2 L1512.0,729.6 L1513.9,730.9 L1515.8,732.3 L1517.6,733.7 L1519.5,735.1 L1521.4,736.4 L1523.2,737.7 L1525.1,739.1 L1527.0,740.4 L1528.9,741.7 L1530.8,743.0 L1532.7,744.3 L1534.7,745.6 L1536.6,746.9 L1538.5,748.1 L1540.4,749.4 L1542.4,750.6 L1544.3,751.9 L1546.3,753.1 L1548.2,754.3 L1550.2,755.5 L1552.1,756.7 L1554.1,757.9 L1556.1,759.1 L1558.1,760.2 L1560.1,761.4 L1562.1,762.5 L1564.1,763.7 L1566.1,764.8 L1568.1,765.9 L1570.1,767.0 L1572.1,768.1 L1574.2,769.2 L1576.2,770.2 L1578.2,771.3 L1580.3,772.3 L1582.3,773.4 L1584.4,774.4 L1586.5,775.4 L1588.5,776.4 L1590.6,777.4 L1592.7,778.4 L1594.8,779.3 L1596.9,780.3 L1599.0,781.2 L1601.1,782.2 L1603.2,783.1 L1605.3,784.0 L1607.4,784.9 L1609.6,785.8 L1611.7,786.6 L1613.8,787.5 L1616.0,788.3 L1618.1,789.2 L1620.3,790.0 L1622.5,790.8 L1624.6,791.6 L1626.8,792.4 L1629.0,793.1 L1631.2,793.9 L1633.4,794.7 L1635.6,795.4 L1637.8,796.1 L1640.0,796.8 L1642.2,797.5 L1644.4,798.2 L1646.6,798.9 L1648.9,799.5 L1651.1,800.2 L1653.4,800.8 L1655.6,801.4 L1657.9,802.0 L1660.1,802.6 L1662.4,803.2 L1664.7,803.7 L1667.0,804.3 L1669.2,804.8 L1671.5,805.3 L1673.8,805.8 L1676.1,806.3 L1678.4,806.8 L1680.8,807.3 L1683.1,807.7 L1685.4,808.2 L1687.7,808.6 L1690.1,809.0 L1692.4,809.4 L1694.8,809.8 L1697.1,810.1 L1699.5,810.5 L1701.9,810.8 L1704.2,811.1 L1706.6,811.5 L1709.0,811.7 L1711.4,812.0 L1713.8,812.3 L1716.2,812.5 L1718.6,812.8 L1721.0,813.0 L1723.5,813.2 L1725.9,813.4 L1728.3,813.5 L1730.8,813.7 L1733.2,813.8 L1735.7,814.0 L1738.1,814.1 L1740.6,814.2" stroke="#007800"/>
<path d="M800.0,741.0 L800.8,738.9 L801.6,736.9 L802.4,734.8 L803.3,732.8 L804.1,730.7 L804.9,728.7 L805.7,726.6 L806.5,724.6 L807.3,722.5 L808.0,720.5 L808.8,718.4 L809.6,716.3 L810.4,714.2 L811.2,712.2 L812.0,710.1 L812.7,708.0 L813.5,705.9 L814.3,703.9 L815.1,701.8 L815.8,699.7 L816.6,697.6 L817.3,695.5 L818.1,693.4 L818.9,691.3 L819.6,689.3 L820.4,687.2 L821.1,685.1 L821.9,683.0 L822.6,680.9 L823.3,678.8 L824.1,676.7 L824.8,674.6 L825.6,672.4 L826.3,670.3 L827.0,668.2 L827.7,666.1 L828.5,664.0 L829.2,661.9 L829.9,659.8 L830.6,657.7 L831.4,655.5 L832.1,653.4 L832.8,651.3 L833.5,649.2 L834.2,647.1 L835.0,644.9 L835.7,642.8 L836.4,640.7 L837.1,638.6 L837.8,636.4 L838.5,634.3 L839.2,632.2 L839.9,630.1 L840.6,627.9 L841.3,625.8 L842.0,623.7 L842.7,621.5 L843.4,619.4 L844.1,617.3 L844.8,615.1 L845.5,613.0 L846.2,610.9 L846.9,608.7 L847.6,606.6 L848.3,604.5 L849.0,602.3 L849.7,600.2 L850.4,598.0 L851.1,595.9 L851.8,593.8 L852.4,591.6 L853.1,589.5 L853.8,587.4 L854.5,585.2 L855.2,583.1 L855.9,580.9 L856.6,578.8 L857.3,576.7 L858.0,574.5 L858.6,572.4 L859.3,570.2 L860.0,568.1 L860.7,566.0 L861.4,563.8 L862.1,561.7 L862.8,559.6 L863.5,557.4 L864.2,555.3 L864.8,553.1 L865.5,551.0 L866.2,548.9 L866.9,546.7 L867.6,544.6 L868.3,542.5 L869.0,540.3 L869.7,538.2 L870.4,536.1 L871.1,533.9 L871.8,531.8 L872.5,529.7 L873.2,527.5 L873.9,525.4 L874.6,523.3 L875.3,521.2 L876.0,519.0 L876.7,516.9 L877.4,514.8 L878.1,512.7 L878.8,510.5 L879.5,508.4 L880.2,506.3 L880.9,504.2 L881.6,502.1 L882.3,499.9 L883.0,497.8 L883.7,495.7 L884.4,493.6 L885.2,491.5 L885.9,489.4 L886.6,487.3 L887.3,485.2 L888.0,483.1 L888.8,481.0 L889.5,478.9 L890.2,476.8 L890.9,474.7 L891.7,472.6 L892.4,470.5 L893.1,468.4 L893.9,466.3 L894.6,464.2 L895.4,462.1 L896.1,460.0 L896.9,457.9 L897.6,455.8 L898.4,453.8 L899.1,451.7 L899.9,449.6 L900.6,447.5 L901.4,445.4 L902.1,443.4 L902.9,441.3 L903.7,439.2 L904.4,437.2 L905.2,435.1 L906.0,433.0 L906.8,431.0 L907.5,428.9 L908.3,426.8 L909.1,424.8 L909.9,422.7 L910.7,420.7 L911.5,418.6 L912.3,416.6 L913.1,414.5 L913.9,412.5 L914.7,410.4 L915.5,408.4 L916.3,406.3 L917.1,404.3 L918.0,402.2 L918.8,400.2 L919.6,398.2 L920.4,396.1 L921.3,394.1 L922.1,392.0 L923.0,390.0 L923.8,388.0 L924.7,385.9 L925.5,383.9 L926.4,381.9 L927.2,379.9 L928.1,377.8 L929.0,375.8 L929.8,373.8 L930.7,371.8 L931.6,369.7 L932.5,367.7 L933.4,365.7 L934.3,363.7 L935.2,361.7 L936.1,359.6 L937.0,357.6 L937.9,355.6 L938.8,353.6 L939.7,351.6 L940.6,349.6 L941.6,347.6 L942.5,345.6 L943.4,343.6 L944.4,341.6 L945.3,339.6 L946.3,337.5 L947.3,335.5 L948.2,333.5 L949.2,331.5 L950.2,329.5 L951.1,327.5 L952.1,325.5 L953.1,323.5 L954.1,321.6 L955.1,319.6 L956.1,317.6 L957.1,315.6 L958.1,313.6 L959.1,311.6 L960.2,309.6 L961.2,307.6 L962.2,305.6 L963.3,303.6 L964.3,301.6 L965.4,299.6 L966.4,297.7 L967.5,295.7 L968.6,293.7 L969.7,291.7 L970.7,289.7 L971.8,287.7 L972.9,285.8 L974.0,283.8 L975.1,281.8 L976.3,279.8 L977.4,277.8 L978.5,275.9 L979.6,273.9 L980.8,271.9 L981.9,269.9 L983.1,267.9 L984.2,266.0 L985.4,264.0 L986.6,262.0 L987.7,260.0 L988.9,258.1 L990.1,256.1 L991.3,254.1 L992.5,252.1 L993.7,250.2 L994.9,248.2 L996.2,246.2 L997.4,244.2 L998.6,242.3 L999.9,240.3 L1001.1,238.3 L1002.4,236.4 L1003.7,234.5 L1005.0,232.5 L1006.3,230.6 L1007.6,228.8 L1008.9,226.9 L1010.2,225.1 L1011.6,223.3 L1013.0,221.6 L1014.3,219.9 L1015.7,218.3 L1017.2,216.7 L1018.6,215.1 L1020.0,213.6 L1021.5,212.2 L1023.0,210.8 L1024.5,209.5 L1026.1,208.3 L1027.6,207.2 L1029.2,206.1 L1030.8,205.1 L1032.5,204.2 L1034.1,203.4 L1035.8,202.6 L1037.5,202.0 L1039.3,201.4 L1041.1,200.9 L1042.9,200.5 L1044.7,200.2 L1046.6,200.0 L1048.5,199.9 L1050.4,199.9 L1052.4,199.9 L1054.4,200.0 L1056.4,200.2 L1058.4,200.5 L1060.5,200.8 L1062.6,201.2 L1064.7,201.7 L1066.8,202.3 L1069.0,202.9 L1071.1,203.5 L1073.3,204.2 L1075.5,204.9 L1077.6,205.7 L1079.8,206.6 L1082.0,207.4 L1084.2,208.3 L1086.4,209.3 L1088.6,210.2 L1090.8,211.2 L1093.0,212.2 L1095.2,213.3 L1097.4,214.3 L1099.5,215.4 L1101.7,216.4 L1103.8,217.5 L1106.0,218.6 L1108.1,219.7 L1110.2,220.7 L1112.3,221.9 L1114.4,223.0 L1116.5,224.1 L1118.5,225.2 L1120.6,226.3 L1122.6,227.5 L1124.7,228.6 L1126.7,229.8 L1128.7,230.9 L1130.7,232.1 L1132.7,233.3 L1134.7,234.5 L1136.6,235.7 L1138.6,236.9 L1140.5,238.1 L1142.5,239.3 L1144.4,240.5 L1146.3,241.8 L1148.2,243.0 L1150.1,244.3 L1152.0,245.5 L1153.8,246.8 L1155.7,248.0 L1157.6,249.3 L1159.4,250.6 L1161.2,251.9 L1163.1,253.2 L1164.9,254.5 L1166.7,255.8 L1168.5,257.2 L1170.2,258.5 L1172.0,259.8 L1173.8,261.2 L1175.5,262.6 L1177.3,263.9 L1179.0,265.3 L1180.7,266.7 L1182.4,268.1 L1184.1,269.5 L1185.8,270.9 L1187.5,272.3 L1189.2,273.7 L1190.8,275.1 L1192.5,276.6 L1194.1,278.0 L1195.8,279.5 L1197.4,280.9 L1199.0,282.4 L1200.6,283.9 L1202.2,285.4 L1203.8,286.9 L1205.4,288.4 L1207.0,289.9 L1208.6,291.4 L1210.1,292.9 L1211.7,294.5 L1213.2,296.0 L1214.8,297.5 L1216.3,299.1 L1217.8,300.7 L1219.3,302.2 L1220.8,303.8 L1222.3,305.4 L1223.8,307.0 L1225.3,308.6 L1226.7,310.2 L1228.2,311.9 L1229.6,313.5 L1231.1,315.1 L1232.5,316.8 L1233.9,318.4 L1235.4,320.1 L1236.8,321.7 L1238.2,323.4 L1239.6,325.1 L1241.0,326.8 L1242.4,328.5 L1243.7,330.2 L1245.1,331.9 L1246.5,333.6 L1247.8,335.3 L1249.2,337.1 L1250.5,338.8 L1251.9,340.6 L1253.2,342.3 L1254.5,344.1 L1255.8,345.8 L1257.2,347.6 L1258.5,349.4 L1259.8,351.1 L1261.1,352.9 L1262.4,354.7 L1263.7,356.5 L1264.9,358.3 L1266.2,360.1 L1267.5,361.9 L1268.8,363.7 L1270.0,365.5 L1271.3,367.4 L1272.6,369.2 L1273.8,371.0 L1275.1,372.9 L1276.3,374.7 L1277.5,376.6 L1278.8,378.4 L1280.0,380.3 L1281.2,382.1 L1282.5,384.0 L1283.7,385.8 L1284.9,387.7 L1286.1,389.6 L1287.3,391.5 L1288.6,393.3 L1289.8,395.2 L1291.0,397.1 L1292.2,399.0 L1293.4,400.9 L1294.6,402.8 L1295.8,404.7 L1297.0,406.6 L1298.2,408.4 L1299.3,410.4 L1300.5,412.3 L1301.7,414.2 L1302.9,416.1 L1304.1,418.0 L1305.3,419.9 L1306.5,421.8 L1307.6,423.7 L1308.8,425.6 L1310.0,427.5 L1311.2,429.5 L1312.4,431.4 L1313.5,433.3 L1314.7,435.2 L1315.9,437.1 L1317.1,439.1 L1318.2,441.0 L1319.4,442.9 L1320.6,444.8 L1321.8,446.7 L1322.9,448.7 L1324.1,450.6 L1325.3,452.5 L1326.5,454.4 L1327.7,456.4 L1328.8,458.3 L1330.0,460.2 L1331.2,462.1 L1332.4,464.0 L1333.6,466.0 L1334.8,467.9 L1336.0,469.8 L1337.2,471.7 L1338.4,473.6 L1339.5,475.5 L1340.7,477.4 L1341.9,479.3 L1343.1,481.2 L1344.4,483.2 L1345.6,485.1 L1346.8,487.0 L1348.0,488.9 L1349.2,490.8 L1350.4,492.6 L1351.6,494.5 L1352.9,496.4 L1354.1,498.3 L1355.3,500.2 L1356.6,502.1 L1357.8,504.0 L1359.0,505.8 L1360.3,507.7 L1361.5,509.6 L1362.8,511.4 L1364.0,513.3 L1365.3,515.2 L1366.6,517.0 L1367.8,518.9 L1369.1,520.7 L1370.4,522.6 L1371.7,524.4 L1372.9,526.3 L1374.2,528.1 L1375.5,529.9 L1376.8,531.8 L1378.1,533.6 L1379.4,535.4 L1380.7,537.3 L1382.0,539.1 L1383.3,540.9 L1384.6,542.7 L1385.9,544.5 L1387.2,546.3 L1388.6,548.1 L1389.9,550.0 L1391.2,551.8 L1392.5,553.5 L1393.9,555.3 L1395.2,557.1 L1396.6,558.9 L1397.9,560.7 L1399.2,562.5 L1400.6,564.3 L1402.0,566.0 L1403.3,567.8 L1404.7,569.6 L1406.0,571.3 L1407.4,573.1 L1408.8,574.9 L1410.2,576.6 L1411.5,578.4 L1412.9,580.1 L1414.3,581.9 L1415.7,583.6 L1417.1,585.3 L1418.5,587.1 L1419.9,588.8 L1421.3,590.5 L1422.7,592.3 L1424.1,594.0 L1425.5,595.7 L1427.0,597.4 L1428.4,599.1 L1429.8,600.8 L1431.2,602.5 L1432.7,604.2 L1434.1,605.9 L1435.5,607.6 L1437.0,609.3 L1438.4,611.0 L1439.9,612.7 L1441.3,614.4 L1442.8,616.0 L1444.3,617.7 L1445.7,619.4 L1447.2,621.0 L1448.7,622.7 L1450.2,624.4 L1451.6,626.0 L1453.1,627.7 L1454.6,629.3 L1456.1,630.9 L1457.6,632.6 L1459.1,634.2 L1460.6,635.8 L1462.1,637.5 L1463.6,639.1 L1465.1,640.7 L1466.6,642.3 L1468.2,643.9 L1469.7,645.5 L1471.2,647.1 L1472.7,648.7 L1474.3,650.3 L1475.8,651.9 L1477.4,653.5 L1478.9,655.1 L1480.5,656.7 L1482.0,658.3 L1483.6,659.8 L1485.1,661.4 L1486.7,663.0 L1488.3,664.5 L1489.8,666.1 L1491.4,667.6 L1493.0,669.2 L1494.6,670.7 L1496.2,672.2 L1497.8,673.8 L1499.4,675.3 L1501.0,676.8 L1502.6,678.3 L1504.2,679.9 L1505.8,681.4 L1507.4,682.9 L1509.0,684.4 L1510.7,685.9 L1512.3,687.3 L1513.9,688.8 L1515.6,690.2 L1517.3,691.7 L1519.0,693.1 L1520.6,694.5 L1522.4,695.8 L1524.1,697.2 L1525.8,698.5 L1527.6,699.8 L1529.3,701.1 L1531.1,702.4 L1532.9,703.6 L1534.8,704.8 L1536.6,705.9 L1538.5,707.1 L1540.4,708.2 L1542.3,709.2 L1544.2,710.3 L1546.2,711.3 L1548.1,712.3 L1550.1,713.3 L1552.1,714.2 L1554.1,715.1 L1556.1,716.1 L1558.2,717.0 L1560.2,717.8 L1562.3,718.7 L1564.3,719.6 L1566.4,720.4 L1568.5,721.2 L1570.5,722.1 L1572.6,722.9 L1574.7,723.7 L1576.8,724.6 L1578.9,725.4 L1581.0,726.2 L1583.1,727.0 L1585.1,727.9 L1587.2,728.7 L1589.3,729.6 L1591.4,730.4 L1593.5,731.3 L1595.5,732.2 L1597.6,733.1 L1599.6,734.0 L1601.6,735.0 L1603.7,735.9 L1605.7,736.9 L1607.7,737.9 L1609.6,738.9 L1611.6,740.0 L1613.6,741.1 L1615.5,742.2 L1617.4,743.4 L1619.3,744.5 L1621.2,745.8 L1623.0,747.0 L1624.8,748.3 L1626.6,749.6 L1628.4,751.0 L1630.2,752.4 L1631.9,753.9 L1633.6,755.4 L1635.3,757.0 L1636.9,758.5 L1638.6,760.1 L1640.2,761.7 L1641.8,763.4 L1643.5,765.0 L1645.1,766.7 L1646.7,768.3 L1648.3,770.0 L1649.9,771.6 L1651.5,773.2 L1653.1,774.8 L1654.7,776.4 L1656.3,777.9 L1658.0,779.5 L1659.7,780.9 L1661.3,782.4 L1663.1,783.8 L1664.8,785.1 L1666.5,786.4 L1668.3,787.6 L1670.2,788.7 L1672.0,789.8 L1673.9,790.8 L1675.8,791.7 L1677.8,792.5 L1679.8,793.3 L1681.9,794.0 L1684.0,794.6 L1686.1,795.1 L1688.2,795.5 L1690.4,795.9 L1692.6,796.3 L1694.8,796.6 L1697.1,796.8 L1699.3,797.0 L1701.6,797.1 L1703.9,797.2 L1706.2,797.3 L1708.5,797.4 L1710.8,797.4 L1713.1,797.4 L1715.4,797.3 L1717.7,797.3 L1720.0,797.2 L1722.3,797.2 L1724.6,797.1 L1726.9,797.0 L1729.1,796.9 L1731.4,796.9 L1733.6,796.8 L1735.8,796.8 L1738.0,796.8 L1740.1,796.8" stroke="#006e8c"/>
</g>
<rect x="234.0" y="36.0" width="1499.0" height="1080.0" fill="none" stroke="#000" stroke-width="9"/>
<path d="M216,1013.2 H234 M216,877.5 H234 M216,741.8 H234 M216,606.0 H234 M216,470.2 H234 M216,334.5 H234 M216,198.8 H234 M216,63.0 H234 M285.7,1116 V1133 M519.1,1116 V1133 M752.6,1116 V1133 M986.0,1116 V1133 M1219.5,1116 V1133 M1453.0,1116 V1133 M1686.4,1116 V1133" stroke="#000" stroke-width="6" fill="none"/>
<g font-size="55" font-weight="bold" fill="#000" stroke="#000" stroke-width="0.4">
<text x="219" y="1026.8" text-anchor="end">-0.2</text>
<text x="219" y="891.0" text-anchor="end">0.0</text>
<text x="219" y="755.2" text-anchor="end">0.2</text>
<text x="219" y="619.5" text-anchor="end">0.4</text>
<text x="219" y="483.7" text-anchor="end">0.6</text>
<text x="219" y="348.0" text-anchor="end">0.8</text>
<text x="219" y="212.2" text-anchor="end">1.0</text>
<text x="219" y="76.5" text-anchor="end">1.2</text>
<text x="285.7" y="1172" text-anchor="middle">300</text>
<text x="519.1" y="1172" text-anchor="middle">350</text>
<text x="752.6" y="1172" text-anchor="middle">400</text>
<text x="986.0" y="1172" text-anchor="middle">450</text>
<text x="1219.5" y="1172" text-anchor="middle">500</text>
<text x="1453.0" y="1172" text-anchor="middle">550</text>
<text x="1686.4" y="1172" text-anchor="middle">600</text>
</g>
<text x="657" y="1258" font-weight="bold" font-size="81" fill="#000" textLength="653" lengthAdjust="spacingAndGlyphs">Wavelength (nm)</text>
<text transform="translate(100,1213) rotate(-90)" font-weight="bold" font-size="79" fill="#000" textLength="1172" lengthAdjust="spacingAndGlyphs">FLU normalized Intensity (a. u.)</text>
<text x="618" y="120" font-size="63" fill="#a8258f" textLength="459" lengthAdjust="spacingAndGlyphs">Em. Wavelength</text>
<text x="764" y="838" font-size="62" fill="#b0308f" textLength="441" lengthAdjust="spacingAndGlyphs">Ex. Wavelength</text>
<text x="445" y="175.5" font-weight="bold" font-size="53" fill="#3040e0" textLength="181" lengthAdjust="spacingAndGlyphs">370 nm</text>
<text x="1059" y="176" font-weight="bold" font-size="53" fill="#ff2020" textLength="181" lengthAdjust="spacingAndGlyphs">470 nm</text>
<path d="M630,160.5 H1032" stroke="#222" stroke-width="6.5"/>
<path d="M1027,153 L1048,160.5 L1027,168 Z" fill="#111"/>
<path d="M632.0,890.5 H768.0" stroke="#000000" stroke-width="14" stroke-linecap="round"/>
<ellipse cx="699.0" cy="890.0" rx="12" ry="14.5" fill="#000000" stroke="#000000" stroke-width="5"/>
<path d="M689.5,889.5 A9.5,12 0 0 1 708.5,889.5 Z" fill="#fff"/>
<text x="780.0" y="908.0" font-size="57" fill="#333" stroke="#333" stroke-width="1.1" textLength="179" lengthAdjust="spacingAndGlyphs">280 nm</text>
<path d="M262.0,952.5 H398.0" stroke="#ff0000" stroke-width="14" stroke-linecap="round"/>
<ellipse cx="329.0" cy="952.0" rx="12" ry="14.5" fill="#ff0000" stroke="#ff0000" stroke-width="5"/>
<path d="M319.5,951.5 A9.5,12 0 0 1 338.5,951.5 Z" fill="#fff"/>
<text x="410.0" y="970.0" font-size="57" fill="#333" stroke="#333" stroke-width="1.1" textLength="179" lengthAdjust="spacingAndGlyphs">290 nm</text>
<path d="M632.0,952.5 H768.0" stroke="#00c800" stroke-width="14" stroke-linecap="round"/>
<ellipse cx="699.0" cy="952.0" rx="12" ry="14.5" fill="#00c800" stroke="#00c800" stroke-width="5"/>
<path d="M689.5,951.5 A9.5,12 0 0 1 708.5,951.5 Z" fill="#fff"/>
<text x="780.0" y="970.0" font-size="57" fill="#333" stroke="#333" stroke-width="1.1" textLength="179" lengthAdjust="spacingAndGlyphs">300 nm</text>
<path d="M1006.0,952.5 H1142.0" stroke="#0000dc" stroke-width="14" stroke-linecap="round"/>
<ellipse cx="1073.0" cy="952.0" rx="12" ry="14.5" fill="#0000dc" stroke="#0000dc" stroke-width="5"/>
<path d="M1063.5,951.5 A9.5,12 0 0 1 1082.5,951.5 Z" fill="#fff"/>
<text x="1154.0" y="970.0" font-size="57" fill="#333" stroke="#333" stroke-width="1.1" textLength="179" lengthAdjust="spacingAndGlyphs">310 nm</text>
<path d="M1378.0,952.5 H1514.0" stroke="#00bfe6" stroke-width="14" stroke-linecap="round"/>
<ellipse cx="1445.0" cy="952.0" rx="12" ry="14.5" fill="#00bfe6" stroke="#00bfe6" stroke-width="5"/>
<path d="M1435.5,951.5 A9.5,12 0 0 1 1454.5,951.5 Z" fill="#fff"/>
<text x="1526.0" y="970.0" font-size="57" fill="#333" stroke="#333" stroke-width="1.1" textLength="179" lengthAdjust="spacingAndGlyphs">320 nm</text>
<path d="M262.0,1014.5 H398.0" stroke="#ff00c0" stroke-width="14" stroke-linecap="round"/>
<ellipse cx="329.0" cy="1014.0" rx="12" ry="14.5" fill="#ff00c0" stroke="#ff00c0" stroke-width="5"/>
<path d="M319.5,1013.5 A9.5,12 0 0 1 338.5,1013.5 Z" fill="#fff"/>
<text x="410.0" y="1032.0" font-size="57" fill="#333" stroke="#333" stroke-width="1.1" textLength="179" lengthAdjust="spacingAndGlyphs">330 nm</text>
<path d="M632.0,1014.5 H768.0" stroke="#ffeb00" stroke-width="14" stroke-linecap="round"/>
<ellipse cx="699.0" cy="1014.0" rx="12" ry="14.5" fill="#ffeb00" stroke="#ffeb00" stroke-width="5"/>
<path d="M689.5,1013.5 A9.5,12 0 0 1 708.5,1013.5 Z" fill="#fff"/>
<text x="780.0" y="1032.0" font-size="57" fill="#333" stroke="#333" stroke-width="1.1" textLength="179" lengthAdjust="spacingAndGlyphs">340 nm</text>
<path d="M1006.0,1014.5 H1142.0" stroke="#807000" stroke-width="14" stroke-linecap="round"/>
<ellipse cx="1073.0" cy="1014.0" rx="12" ry="14.5" fill="#807000" stroke="#807000" stroke-width="5"/>
<path d="M1063.5,1013.5 A9.5,12 0 0 1 1082.5,1013.5 Z" fill="#fff"/>
<text x="1154.0" y="1032.0" font-size="57" fill="#333" stroke="#333" stroke-width="1.1" textLength="179" lengthAdjust="spacingAndGlyphs">350 nm</text>
<path d="M1378.0,1014.5 H1514.0" stroke="#000080" stroke-width="14" stroke-linecap="round"/>
<ellipse cx="1445.0" cy="1014.0" rx="12" ry="14.5" fill="#000080" stroke="#000080" stroke-width="5"/>
<path d="M1435.5,1013.5 A9.5,12 0 0 1 1454.5,1013.5 Z" fill="#fff"/>
<text x="1526.0" y="1032.0" font-size="57" fill="#333" stroke="#333" stroke-width="1.1" textLength="179" lengthAdjust="spacingAndGlyphs">360 nm</text>
<path d="M262.0,1076.5 H398.0" stroke="#980088" stroke-width="14" stroke-linecap="round"/>
<ellipse cx="329.0" cy="1076.0" rx="12" ry="14.5" fill="#980088" stroke="#980088" stroke-width="5"/>
<path d="M319.5,1075.5 A9.5,12 0 0 1 338.5,1075.5 Z" fill="#fff"/>
<text x="410.0" y="1094.0" font-size="57" fill="#333" stroke="#333" stroke-width="1.1" textLength="179" lengthAdjust="spacingAndGlyphs">370 nm</text>
<path d="M632.0,1076.5 H768.0" stroke="#9a0000" stroke-width="14" stroke-linecap="round"/>
<ellipse cx="699.0" cy="1076.0" rx="12" ry="14.5" fill="#9a0000" stroke="#9a0000" stroke-width="5"/>
<path d="M689.5,1075.5 A9.5,12 0 0 1 708.5,1075.5 Z" fill="#fff"/>
<text x="780.0" y="1094.0" font-size="57" fill="#333" stroke="#333" stroke-width="1.1" textLength="179" lengthAdjust="spacingAndGlyphs">380 nm</text>
<path d="M1006.0,1076.5 H1142.0" stroke="#007800" stroke-width="14" stroke-linecap="round"/>
<ellipse cx="1073.0" cy="1076.0" rx="12" ry="14.5" fill="#007800" stroke="#007800" stroke-width="5"/>
<path d="M1063.5,1075.5 A9.5,12 0 0 1 1082.5,1075.5 Z" fill="#fff"/>
<text x="1154.0" y="1094.0" font-size="57" fill="#333" stroke="#333" stroke-width="1.1" textLength="179" lengthAdjust="spacingAndGlyphs">390 nm</text>
<path d="M1378.0,1076.5 H1514.0" stroke="#006e8c" stroke-width="14" stroke-linecap="round"/>
<ellipse cx="1445.0" cy="1076.0" rx="12" ry="14.5" fill="#006e8c" stroke="#006e8c" stroke-width="5"/>
<path d="M1435.5,1075.5 A9.5,12 0 0 1 1454.5,1075.5 Z" fill="#fff"/>
<text x="1526.0" y="1094.0" font-size="57" fill="#333" stroke="#333" stroke-width="1.1" textLength="179" lengthAdjust="spacingAndGlyphs">400 nm</text>
</g>
</svg></body></html>
